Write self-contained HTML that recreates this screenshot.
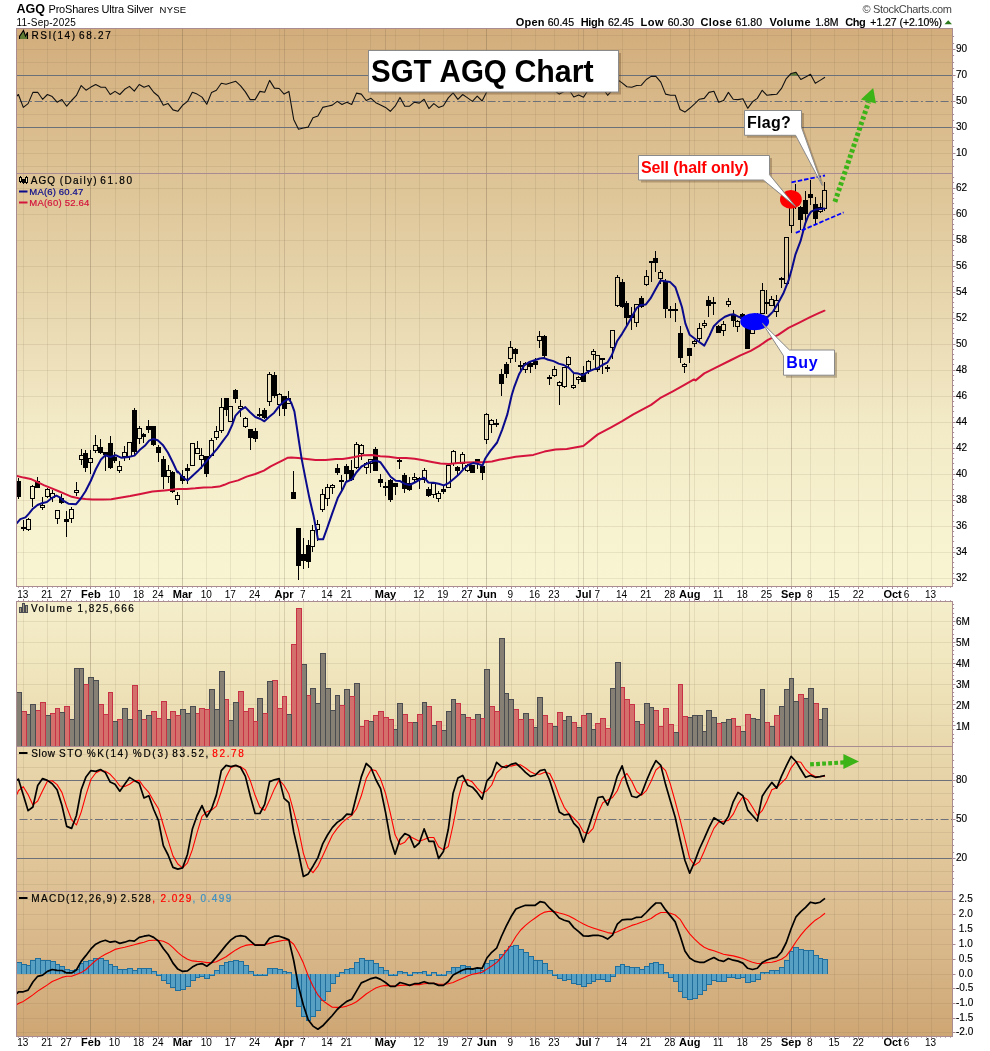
<!DOCTYPE html>
<html><head><meta charset="utf-8"><title>SGT AGQ Chart</title>
<style>html,body{margin:0;padding:0;background:#fff}body{width:990px;height:1051px;overflow:hidden;font-family:"Liberation Sans",sans-serif}</style></head>
<body>
<svg width="990" height="1051" viewBox="0 0 990 1051" style="display:block;will-change:transform;font-family:'Liberation Sans',sans-serif">
<defs>
<linearGradient id="g1" x1="0" y1="0" x2="0" y2="1"><stop offset="0" stop-color="rgb(211,173,124)"/><stop offset="0.307" stop-color="rgb(223,199,154)"/><stop offset="0.497" stop-color="rgb(232,215,175)"/><stop offset="0.72" stop-color="rgb(243,235,200)"/><stop offset="0.958" stop-color="rgb(248,244,210)"/><stop offset="1" stop-color="rgb(249,245,211)"/></linearGradient>
<linearGradient id="g2" x1="0" y1="0" x2="0" y2="1"><stop offset="0" stop-color="rgb(245,238,203)"/><stop offset="0.146" stop-color="rgb(240,230,190)"/><stop offset="0.456" stop-color="rgb(229,207,163)"/><stop offset="0.806" stop-color="rgb(216,183,137)"/><stop offset="1" stop-color="rgb(206,166,116)"/></linearGradient>
<linearGradient id="tailg" x1="0" y1="0" x2="1" y2="0"><stop offset="0" stop-color="#fff"/><stop offset="1" stop-color="#aaa"/></linearGradient>
<clipPath id="cp1"><rect x="17" y="174" width="935" height="412"/></clipPath>
</defs>
<rect width="990" height="1051" fill="#fff"/>
<rect x="16.5" y="28.5" width="936.0" height="558.0" fill="url(#g1)"/>
<rect x="16.5" y="601.5" width="936.0" height="435.0" fill="url(#g2)"/>
<line x1="23.5" y1="28.5" x2="23.5" y2="586.5" stroke="#6b5540" stroke-opacity="0.115"/>
<line x1="47.5" y1="28.5" x2="47.5" y2="586.5" stroke="#6b5540" stroke-opacity="0.115"/>
<line x1="66.5" y1="28.5" x2="66.5" y2="586.5" stroke="#6b5540" stroke-opacity="0.115"/>
<line x1="90.5" y1="28.5" x2="90.5" y2="586.5" stroke="#6b5540" stroke-opacity="0.115"/>
<line x1="115.5" y1="28.5" x2="115.5" y2="586.5" stroke="#6b5540" stroke-opacity="0.115"/>
<line x1="139.5" y1="28.5" x2="139.5" y2="586.5" stroke="#6b5540" stroke-opacity="0.115"/>
<line x1="158.5" y1="28.5" x2="158.5" y2="586.5" stroke="#6b5540" stroke-opacity="0.115"/>
<line x1="182.5" y1="28.5" x2="182.5" y2="586.5" stroke="#6b5540" stroke-opacity="0.115"/>
<line x1="206.5" y1="28.5" x2="206.5" y2="586.5" stroke="#6b5540" stroke-opacity="0.115"/>
<line x1="230.5" y1="28.5" x2="230.5" y2="586.5" stroke="#6b5540" stroke-opacity="0.115"/>
<line x1="255.5" y1="28.5" x2="255.5" y2="586.5" stroke="#6b5540" stroke-opacity="0.115"/>
<line x1="279.5" y1="28.5" x2="279.5" y2="586.5" stroke="#6b5540" stroke-opacity="0.115"/>
<line x1="303.5" y1="28.5" x2="303.5" y2="586.5" stroke="#6b5540" stroke-opacity="0.115"/>
<line x1="327.5" y1="28.5" x2="327.5" y2="586.5" stroke="#6b5540" stroke-opacity="0.115"/>
<line x1="346.5" y1="28.5" x2="346.5" y2="586.5" stroke="#6b5540" stroke-opacity="0.115"/>
<line x1="370.5" y1="28.5" x2="370.5" y2="586.5" stroke="#6b5540" stroke-opacity="0.115"/>
<line x1="395.5" y1="28.5" x2="395.5" y2="586.5" stroke="#6b5540" stroke-opacity="0.115"/>
<line x1="419.5" y1="28.5" x2="419.5" y2="586.5" stroke="#6b5540" stroke-opacity="0.115"/>
<line x1="443.5" y1="28.5" x2="443.5" y2="586.5" stroke="#6b5540" stroke-opacity="0.115"/>
<line x1="467.5" y1="28.5" x2="467.5" y2="586.5" stroke="#6b5540" stroke-opacity="0.115"/>
<line x1="486.5" y1="28.5" x2="486.5" y2="586.5" stroke="#6b5540" stroke-opacity="0.115"/>
<line x1="511.5" y1="28.5" x2="511.5" y2="586.5" stroke="#6b5540" stroke-opacity="0.115"/>
<line x1="535.5" y1="28.5" x2="535.5" y2="586.5" stroke="#6b5540" stroke-opacity="0.115"/>
<line x1="554.5" y1="28.5" x2="554.5" y2="586.5" stroke="#6b5540" stroke-opacity="0.115"/>
<line x1="578.5" y1="28.5" x2="578.5" y2="586.5" stroke="#6b5540" stroke-opacity="0.115"/>
<line x1="597.5" y1="28.5" x2="597.5" y2="586.5" stroke="#6b5540" stroke-opacity="0.115"/>
<line x1="622.5" y1="28.5" x2="622.5" y2="586.5" stroke="#6b5540" stroke-opacity="0.115"/>
<line x1="646.5" y1="28.5" x2="646.5" y2="586.5" stroke="#6b5540" stroke-opacity="0.115"/>
<line x1="670.5" y1="28.5" x2="670.5" y2="586.5" stroke="#6b5540" stroke-opacity="0.115"/>
<line x1="694.5" y1="28.5" x2="694.5" y2="586.5" stroke="#6b5540" stroke-opacity="0.115"/>
<line x1="718.5" y1="28.5" x2="718.5" y2="586.5" stroke="#6b5540" stroke-opacity="0.115"/>
<line x1="742.5" y1="28.5" x2="742.5" y2="586.5" stroke="#6b5540" stroke-opacity="0.115"/>
<line x1="767.5" y1="28.5" x2="767.5" y2="586.5" stroke="#6b5540" stroke-opacity="0.115"/>
<line x1="791.5" y1="28.5" x2="791.5" y2="586.5" stroke="#6b5540" stroke-opacity="0.115"/>
<line x1="810.5" y1="28.5" x2="810.5" y2="586.5" stroke="#6b5540" stroke-opacity="0.115"/>
<line x1="834.5" y1="28.5" x2="834.5" y2="586.5" stroke="#6b5540" stroke-opacity="0.115"/>
<line x1="858.5" y1="28.5" x2="858.5" y2="586.5" stroke="#6b5540" stroke-opacity="0.115"/>
<line x1="882.5" y1="28.5" x2="882.5" y2="586.5" stroke="#6b5540" stroke-opacity="0.115"/>
<line x1="907.5" y1="28.5" x2="907.5" y2="586.5" stroke="#6b5540" stroke-opacity="0.115"/>
<line x1="931.5" y1="28.5" x2="931.5" y2="586.5" stroke="#6b5540" stroke-opacity="0.115"/>
<line x1="90.5" y1="28.5" x2="90.5" y2="586.5" stroke="#6b5540" stroke-opacity="0.2"/>
<line x1="182.5" y1="28.5" x2="182.5" y2="586.5" stroke="#6b5540" stroke-opacity="0.2"/>
<line x1="284.5" y1="28.5" x2="284.5" y2="586.5" stroke="#6b5540" stroke-opacity="0.2"/>
<line x1="385.5" y1="28.5" x2="385.5" y2="586.5" stroke="#6b5540" stroke-opacity="0.2"/>
<line x1="486.5" y1="28.5" x2="486.5" y2="586.5" stroke="#6b5540" stroke-opacity="0.2"/>
<line x1="583.5" y1="28.5" x2="583.5" y2="586.5" stroke="#6b5540" stroke-opacity="0.2"/>
<line x1="689.5" y1="28.5" x2="689.5" y2="586.5" stroke="#6b5540" stroke-opacity="0.2"/>
<line x1="791.5" y1="28.5" x2="791.5" y2="586.5" stroke="#6b5540" stroke-opacity="0.2"/>
<line x1="892.5" y1="28.5" x2="892.5" y2="586.5" stroke="#6b5540" stroke-opacity="0.2"/>
<line x1="23.5" y1="601.5" x2="23.5" y2="1036.5" stroke="#6b5540" stroke-opacity="0.115"/>
<line x1="47.5" y1="601.5" x2="47.5" y2="1036.5" stroke="#6b5540" stroke-opacity="0.115"/>
<line x1="66.5" y1="601.5" x2="66.5" y2="1036.5" stroke="#6b5540" stroke-opacity="0.115"/>
<line x1="90.5" y1="601.5" x2="90.5" y2="1036.5" stroke="#6b5540" stroke-opacity="0.115"/>
<line x1="115.5" y1="601.5" x2="115.5" y2="1036.5" stroke="#6b5540" stroke-opacity="0.115"/>
<line x1="139.5" y1="601.5" x2="139.5" y2="1036.5" stroke="#6b5540" stroke-opacity="0.115"/>
<line x1="158.5" y1="601.5" x2="158.5" y2="1036.5" stroke="#6b5540" stroke-opacity="0.115"/>
<line x1="182.5" y1="601.5" x2="182.5" y2="1036.5" stroke="#6b5540" stroke-opacity="0.115"/>
<line x1="206.5" y1="601.5" x2="206.5" y2="1036.5" stroke="#6b5540" stroke-opacity="0.115"/>
<line x1="230.5" y1="601.5" x2="230.5" y2="1036.5" stroke="#6b5540" stroke-opacity="0.115"/>
<line x1="255.5" y1="601.5" x2="255.5" y2="1036.5" stroke="#6b5540" stroke-opacity="0.115"/>
<line x1="279.5" y1="601.5" x2="279.5" y2="1036.5" stroke="#6b5540" stroke-opacity="0.115"/>
<line x1="303.5" y1="601.5" x2="303.5" y2="1036.5" stroke="#6b5540" stroke-opacity="0.115"/>
<line x1="327.5" y1="601.5" x2="327.5" y2="1036.5" stroke="#6b5540" stroke-opacity="0.115"/>
<line x1="346.5" y1="601.5" x2="346.5" y2="1036.5" stroke="#6b5540" stroke-opacity="0.115"/>
<line x1="370.5" y1="601.5" x2="370.5" y2="1036.5" stroke="#6b5540" stroke-opacity="0.115"/>
<line x1="395.5" y1="601.5" x2="395.5" y2="1036.5" stroke="#6b5540" stroke-opacity="0.115"/>
<line x1="419.5" y1="601.5" x2="419.5" y2="1036.5" stroke="#6b5540" stroke-opacity="0.115"/>
<line x1="443.5" y1="601.5" x2="443.5" y2="1036.5" stroke="#6b5540" stroke-opacity="0.115"/>
<line x1="467.5" y1="601.5" x2="467.5" y2="1036.5" stroke="#6b5540" stroke-opacity="0.115"/>
<line x1="486.5" y1="601.5" x2="486.5" y2="1036.5" stroke="#6b5540" stroke-opacity="0.115"/>
<line x1="511.5" y1="601.5" x2="511.5" y2="1036.5" stroke="#6b5540" stroke-opacity="0.115"/>
<line x1="535.5" y1="601.5" x2="535.5" y2="1036.5" stroke="#6b5540" stroke-opacity="0.115"/>
<line x1="554.5" y1="601.5" x2="554.5" y2="1036.5" stroke="#6b5540" stroke-opacity="0.115"/>
<line x1="578.5" y1="601.5" x2="578.5" y2="1036.5" stroke="#6b5540" stroke-opacity="0.115"/>
<line x1="597.5" y1="601.5" x2="597.5" y2="1036.5" stroke="#6b5540" stroke-opacity="0.115"/>
<line x1="622.5" y1="601.5" x2="622.5" y2="1036.5" stroke="#6b5540" stroke-opacity="0.115"/>
<line x1="646.5" y1="601.5" x2="646.5" y2="1036.5" stroke="#6b5540" stroke-opacity="0.115"/>
<line x1="670.5" y1="601.5" x2="670.5" y2="1036.5" stroke="#6b5540" stroke-opacity="0.115"/>
<line x1="694.5" y1="601.5" x2="694.5" y2="1036.5" stroke="#6b5540" stroke-opacity="0.115"/>
<line x1="718.5" y1="601.5" x2="718.5" y2="1036.5" stroke="#6b5540" stroke-opacity="0.115"/>
<line x1="742.5" y1="601.5" x2="742.5" y2="1036.5" stroke="#6b5540" stroke-opacity="0.115"/>
<line x1="767.5" y1="601.5" x2="767.5" y2="1036.5" stroke="#6b5540" stroke-opacity="0.115"/>
<line x1="791.5" y1="601.5" x2="791.5" y2="1036.5" stroke="#6b5540" stroke-opacity="0.115"/>
<line x1="810.5" y1="601.5" x2="810.5" y2="1036.5" stroke="#6b5540" stroke-opacity="0.115"/>
<line x1="834.5" y1="601.5" x2="834.5" y2="1036.5" stroke="#6b5540" stroke-opacity="0.115"/>
<line x1="858.5" y1="601.5" x2="858.5" y2="1036.5" stroke="#6b5540" stroke-opacity="0.115"/>
<line x1="882.5" y1="601.5" x2="882.5" y2="1036.5" stroke="#6b5540" stroke-opacity="0.115"/>
<line x1="907.5" y1="601.5" x2="907.5" y2="1036.5" stroke="#6b5540" stroke-opacity="0.115"/>
<line x1="931.5" y1="601.5" x2="931.5" y2="1036.5" stroke="#6b5540" stroke-opacity="0.115"/>
<line x1="90.5" y1="601.5" x2="90.5" y2="1036.5" stroke="#6b5540" stroke-opacity="0.2"/>
<line x1="182.5" y1="601.5" x2="182.5" y2="1036.5" stroke="#6b5540" stroke-opacity="0.2"/>
<line x1="284.5" y1="601.5" x2="284.5" y2="1036.5" stroke="#6b5540" stroke-opacity="0.2"/>
<line x1="385.5" y1="601.5" x2="385.5" y2="1036.5" stroke="#6b5540" stroke-opacity="0.2"/>
<line x1="486.5" y1="601.5" x2="486.5" y2="1036.5" stroke="#6b5540" stroke-opacity="0.2"/>
<line x1="583.5" y1="601.5" x2="583.5" y2="1036.5" stroke="#6b5540" stroke-opacity="0.2"/>
<line x1="689.5" y1="601.5" x2="689.5" y2="1036.5" stroke="#6b5540" stroke-opacity="0.2"/>
<line x1="791.5" y1="601.5" x2="791.5" y2="1036.5" stroke="#6b5540" stroke-opacity="0.2"/>
<line x1="892.5" y1="601.5" x2="892.5" y2="1036.5" stroke="#6b5540" stroke-opacity="0.2"/>
<line x1="16.5" y1="153.5" x2="952.5" y2="153.5" stroke="#6b5540" stroke-opacity="0.115" stroke-width="1"/>
<line x1="16.5" y1="140.5" x2="952.5" y2="140.5" stroke="#6b5540" stroke-opacity="0.115" stroke-width="1"/>
<line x1="16.5" y1="127.5" x2="952.5" y2="127.5" stroke="#6c7079" stroke-opacity="1" stroke-width="1"/>
<line x1="16.5" y1="114.5" x2="952.5" y2="114.5" stroke="#6b5540" stroke-opacity="0.115" stroke-width="1"/>
<line x1="16.5" y1="101.5" x2="952.5" y2="101.5" stroke="#6c7079" stroke-opacity="1" stroke-width="1" stroke-dasharray="8 2.5 2 2.6" stroke-dashoffset="12.1"/>
<line x1="16.5" y1="88.5" x2="952.5" y2="88.5" stroke="#6b5540" stroke-opacity="0.115" stroke-width="1"/>
<line x1="16.5" y1="75.5" x2="952.5" y2="75.5" stroke="#6c7079" stroke-opacity="1" stroke-width="1"/>
<line x1="16.5" y1="62.5" x2="952.5" y2="62.5" stroke="#6b5540" stroke-opacity="0.115" stroke-width="1"/>
<line x1="16.5" y1="49.5" x2="952.5" y2="49.5" stroke="#6b5540" stroke-opacity="0.115" stroke-width="1"/>
<line x1="16.5" y1="35.5" x2="952.5" y2="35.5" stroke="#6b5540" stroke-opacity="0.115" stroke-width="1"/>
<line x1="16.5" y1="166.5" x2="952.5" y2="166.5" stroke="#6b5540" stroke-opacity="0.115" stroke-width="1"/>
<line x1="16.5" y1="578.5" x2="952.5" y2="578.5" stroke="#6b5540" stroke-opacity="0.115" stroke-width="1"/>
<line x1="16.5" y1="552.5" x2="952.5" y2="552.5" stroke="#6b5540" stroke-opacity="0.115" stroke-width="1"/>
<line x1="16.5" y1="526.5" x2="952.5" y2="526.5" stroke="#6b5540" stroke-opacity="0.115" stroke-width="1"/>
<line x1="16.5" y1="500.5" x2="952.5" y2="500.5" stroke="#6b5540" stroke-opacity="0.115" stroke-width="1"/>
<line x1="16.5" y1="474.5" x2="952.5" y2="474.5" stroke="#6b5540" stroke-opacity="0.115" stroke-width="1"/>
<line x1="16.5" y1="448.5" x2="952.5" y2="448.5" stroke="#6b5540" stroke-opacity="0.115" stroke-width="1"/>
<line x1="16.5" y1="422.5" x2="952.5" y2="422.5" stroke="#6b5540" stroke-opacity="0.115" stroke-width="1"/>
<line x1="16.5" y1="396.5" x2="952.5" y2="396.5" stroke="#6b5540" stroke-opacity="0.115" stroke-width="1"/>
<line x1="16.5" y1="370.5" x2="952.5" y2="370.5" stroke="#6b5540" stroke-opacity="0.115" stroke-width="1"/>
<line x1="16.5" y1="344.5" x2="952.5" y2="344.5" stroke="#6b5540" stroke-opacity="0.115" stroke-width="1"/>
<line x1="16.5" y1="318.5" x2="952.5" y2="318.5" stroke="#6b5540" stroke-opacity="0.115" stroke-width="1"/>
<line x1="16.5" y1="292.5" x2="952.5" y2="292.5" stroke="#6b5540" stroke-opacity="0.115" stroke-width="1"/>
<line x1="16.5" y1="266.5" x2="952.5" y2="266.5" stroke="#6b5540" stroke-opacity="0.115" stroke-width="1"/>
<line x1="16.5" y1="240.5" x2="952.5" y2="240.5" stroke="#6b5540" stroke-opacity="0.115" stroke-width="1"/>
<line x1="16.5" y1="214.5" x2="952.5" y2="214.5" stroke="#6b5540" stroke-opacity="0.115" stroke-width="1"/>
<line x1="16.5" y1="188.5" x2="952.5" y2="188.5" stroke="#6b5540" stroke-opacity="0.115" stroke-width="1"/>
<line x1="16.5" y1="725.5" x2="952.5" y2="725.5" stroke="#6b5540" stroke-opacity="0.115" stroke-width="1"/>
<line x1="16.5" y1="704.5" x2="952.5" y2="704.5" stroke="#6b5540" stroke-opacity="0.115" stroke-width="1"/>
<line x1="16.5" y1="684.5" x2="952.5" y2="684.5" stroke="#6b5540" stroke-opacity="0.115" stroke-width="1"/>
<line x1="16.5" y1="663.5" x2="952.5" y2="663.5" stroke="#6b5540" stroke-opacity="0.115" stroke-width="1"/>
<line x1="16.5" y1="642.5" x2="952.5" y2="642.5" stroke="#6b5540" stroke-opacity="0.115" stroke-width="1"/>
<line x1="16.5" y1="621.5" x2="952.5" y2="621.5" stroke="#6b5540" stroke-opacity="0.115" stroke-width="1"/>
<line x1="16.5" y1="884.5" x2="952.5" y2="884.5" stroke="#6b5540" stroke-opacity="0.115" stroke-width="1"/>
<line x1="16.5" y1="871.5" x2="952.5" y2="871.5" stroke="#6b5540" stroke-opacity="0.115" stroke-width="1"/>
<line x1="16.5" y1="858.5" x2="952.5" y2="858.5" stroke="#6c7079" stroke-opacity="1" stroke-width="1"/>
<line x1="16.5" y1="845.5" x2="952.5" y2="845.5" stroke="#6b5540" stroke-opacity="0.115" stroke-width="1"/>
<line x1="16.5" y1="832.5" x2="952.5" y2="832.5" stroke="#6b5540" stroke-opacity="0.115" stroke-width="1"/>
<line x1="16.5" y1="819.5" x2="952.5" y2="819.5" stroke="#6c7079" stroke-opacity="1" stroke-width="1" stroke-dasharray="8 2.5 2 2.6" stroke-dashoffset="12.1"/>
<line x1="16.5" y1="806.5" x2="952.5" y2="806.5" stroke="#6b5540" stroke-opacity="0.115" stroke-width="1"/>
<line x1="16.5" y1="793.5" x2="952.5" y2="793.5" stroke="#6b5540" stroke-opacity="0.115" stroke-width="1"/>
<line x1="16.5" y1="780.5" x2="952.5" y2="780.5" stroke="#6c7079" stroke-opacity="1" stroke-width="1"/>
<line x1="16.5" y1="767.5" x2="952.5" y2="767.5" stroke="#6b5540" stroke-opacity="0.115" stroke-width="1"/>
<line x1="16.5" y1="754.5" x2="952.5" y2="754.5" stroke="#6b5540" stroke-opacity="0.115" stroke-width="1"/>
<line x1="16.5" y1="1032.5" x2="952.5" y2="1032.5" stroke="#6b5540" stroke-opacity="0.115" stroke-width="1"/>
<line x1="16.5" y1="1018.5" x2="952.5" y2="1018.5" stroke="#6b5540" stroke-opacity="0.115" stroke-width="1"/>
<line x1="16.5" y1="1003.5" x2="952.5" y2="1003.5" stroke="#6b5540" stroke-opacity="0.115" stroke-width="1"/>
<line x1="16.5" y1="988.5" x2="952.5" y2="988.5" stroke="#6b5540" stroke-opacity="0.115" stroke-width="1"/>
<line x1="16.5" y1="974.5" x2="952.5" y2="974.5" stroke="#6b5540" stroke-opacity="0.115" stroke-width="1"/>
<line x1="16.5" y1="959.5" x2="952.5" y2="959.5" stroke="#6b5540" stroke-opacity="0.115" stroke-width="1"/>
<line x1="16.5" y1="944.5" x2="952.5" y2="944.5" stroke="#6b5540" stroke-opacity="0.115" stroke-width="1"/>
<line x1="16.5" y1="929.5" x2="952.5" y2="929.5" stroke="#6b5540" stroke-opacity="0.115" stroke-width="1"/>
<line x1="16.5" y1="914.5" x2="952.5" y2="914.5" stroke="#6b5540" stroke-opacity="0.115" stroke-width="1"/>
<line x1="16.5" y1="899.5" x2="952.5" y2="899.5" stroke="#6b5540" stroke-opacity="0.115" stroke-width="1"/>
<g shape-rendering="crispEdges">
<rect x="822.5" y="708.5" width="5.0" height="37.5" fill="#868074"/>
<path d="M822.5 746 V708.5 H827.5 V746" fill="none" stroke="#4a4c50"/>
<rect x="818.5" y="719.5" width="4.0" height="26.5" fill="#868074"/>
<path d="M818.5 746 V719.5 H822.5 V746" fill="none" stroke="#4a4c50"/>
<rect x="813.5" y="703.5" width="5.0" height="42.5" fill="#d4706c"/>
<path d="M813.5 746 V703.5 H818.5 V746" fill="none" stroke="#c83246"/>
<rect x="808.5" y="688.5" width="5.0" height="57.5" fill="#868074"/>
<path d="M808.5 746 V688.5 H813.5 V746" fill="none" stroke="#4a4c50"/>
<rect x="803.5" y="698.5" width="5.0" height="47.5" fill="#868074"/>
<path d="M803.5 746 V698.5 H808.5 V746" fill="none" stroke="#4a4c50"/>
<rect x="798.5" y="694.5" width="5.0" height="51.5" fill="#d4706c"/>
<path d="M798.5 746 V694.5 H803.5 V746" fill="none" stroke="#c83246"/>
<rect x="793.5" y="701.5" width="5.0" height="44.5" fill="#868074"/>
<path d="M793.5 746 V701.5 H798.5 V746" fill="none" stroke="#4a4c50"/>
<rect x="789.5" y="678.5" width="4.0" height="67.5" fill="#868074"/>
<path d="M789.5 746 V678.5 H793.5 V746" fill="none" stroke="#4a4c50"/>
<rect x="784.5" y="689.5" width="5.0" height="56.5" fill="#868074"/>
<path d="M784.5 746 V689.5 H789.5 V746" fill="none" stroke="#4a4c50"/>
<rect x="779.5" y="706.5" width="5.0" height="39.5" fill="#868074"/>
<path d="M779.5 746 V706.5 H784.5 V746" fill="none" stroke="#4a4c50"/>
<rect x="774.5" y="715.5" width="5.0" height="30.5" fill="#d4706c"/>
<path d="M774.5 746 V715.5 H779.5 V746" fill="none" stroke="#c83246"/>
<rect x="769.5" y="726.5" width="5.0" height="19.5" fill="#868074"/>
<path d="M769.5 746 V726.5 H774.5 V746" fill="none" stroke="#4a4c50"/>
<rect x="764.5" y="722.5" width="5.0" height="23.5" fill="#d4706c"/>
<path d="M764.5 746 V722.5 H769.5 V746" fill="none" stroke="#c83246"/>
<rect x="760.5" y="689.5" width="4.0" height="56.5" fill="#868074"/>
<path d="M760.5 746 V689.5 H764.5 V746" fill="none" stroke="#4a4c50"/>
<rect x="755.5" y="719.5" width="5.0" height="26.5" fill="#868074"/>
<path d="M755.5 746 V719.5 H760.5 V746" fill="none" stroke="#4a4c50"/>
<rect x="750.5" y="718.5" width="5.0" height="27.5" fill="#868074"/>
<path d="M750.5 746 V718.5 H755.5 V746" fill="none" stroke="#4a4c50"/>
<rect x="745.5" y="714.5" width="5.0" height="31.5" fill="#d4706c"/>
<path d="M745.5 746 V714.5 H750.5 V746" fill="none" stroke="#c83246"/>
<rect x="740.5" y="731.5" width="5.0" height="14.5" fill="#868074"/>
<path d="M740.5 746 V731.5 H745.5 V746" fill="none" stroke="#4a4c50"/>
<rect x="735.5" y="726.5" width="5.0" height="19.5" fill="#d4706c"/>
<path d="M735.5 746 V726.5 H740.5 V746" fill="none" stroke="#c83246"/>
<rect x="731.5" y="718.5" width="4.0" height="27.5" fill="#d4706c"/>
<path d="M731.5 746 V718.5 H735.5 V746" fill="none" stroke="#c83246"/>
<rect x="726.5" y="719.5" width="5.0" height="26.5" fill="#868074"/>
<path d="M726.5 746 V719.5 H731.5 V746" fill="none" stroke="#4a4c50"/>
<rect x="721.5" y="722.5" width="5.0" height="23.5" fill="#868074"/>
<path d="M721.5 746 V722.5 H726.5 V746" fill="none" stroke="#4a4c50"/>
<rect x="716.5" y="723.5" width="5.0" height="22.5" fill="#d4706c"/>
<path d="M716.5 746 V723.5 H721.5 V746" fill="none" stroke="#c83246"/>
<rect x="711.5" y="717.5" width="5.0" height="28.5" fill="#868074"/>
<path d="M711.5 746 V717.5 H716.5 V746" fill="none" stroke="#4a4c50"/>
<rect x="706.5" y="710.5" width="5.0" height="35.5" fill="#868074"/>
<path d="M706.5 746 V710.5 H711.5 V746" fill="none" stroke="#4a4c50"/>
<rect x="702.5" y="731.5" width="4.0" height="14.5" fill="#868074"/>
<path d="M702.5 746 V731.5 H706.5 V746" fill="none" stroke="#4a4c50"/>
<rect x="697.5" y="715.5" width="5.0" height="30.5" fill="#868074"/>
<path d="M697.5 746 V715.5 H702.5 V746" fill="none" stroke="#4a4c50"/>
<rect x="692.5" y="715.5" width="5.0" height="30.5" fill="#868074"/>
<path d="M692.5 746 V715.5 H697.5 V746" fill="none" stroke="#4a4c50"/>
<rect x="687.5" y="717.5" width="5.0" height="28.5" fill="#868074"/>
<path d="M687.5 746 V717.5 H692.5 V746" fill="none" stroke="#4a4c50"/>
<rect x="682.5" y="716.5" width="5.0" height="29.5" fill="#d4706c"/>
<path d="M682.5 746 V716.5 H687.5 V746" fill="none" stroke="#c83246"/>
<rect x="678.5" y="684.5" width="4.0" height="61.5" fill="#d4706c"/>
<path d="M678.5 746 V684.5 H682.5 V746" fill="none" stroke="#c83246"/>
<rect x="673.5" y="732.5" width="5.0" height="13.5" fill="#868074"/>
<path d="M673.5 746 V732.5 H678.5 V746" fill="none" stroke="#4a4c50"/>
<rect x="668.5" y="724.5" width="5.0" height="21.5" fill="#d4706c"/>
<path d="M668.5 746 V724.5 H673.5 V746" fill="none" stroke="#c83246"/>
<rect x="663.5" y="708.5" width="5.0" height="37.5" fill="#d4706c"/>
<path d="M663.5 746 V708.5 H668.5 V746" fill="none" stroke="#c83246"/>
<rect x="658.5" y="726.5" width="5.0" height="19.5" fill="#d4706c"/>
<path d="M658.5 746 V726.5 H663.5 V746" fill="none" stroke="#c83246"/>
<rect x="653.5" y="710.5" width="5.0" height="35.5" fill="#d4706c"/>
<path d="M653.5 746 V710.5 H658.5 V746" fill="none" stroke="#c83246"/>
<rect x="649.5" y="707.5" width="4.0" height="38.5" fill="#868074"/>
<path d="M649.5 746 V707.5 H653.5 V746" fill="none" stroke="#4a4c50"/>
<rect x="644.5" y="703.5" width="5.0" height="42.5" fill="#868074"/>
<path d="M644.5 746 V703.5 H649.5 V746" fill="none" stroke="#4a4c50"/>
<rect x="639.5" y="724.5" width="5.0" height="21.5" fill="#d4706c"/>
<path d="M639.5 746 V724.5 H644.5 V746" fill="none" stroke="#c83246"/>
<rect x="634.5" y="721.5" width="5.0" height="24.5" fill="#868074"/>
<path d="M634.5 746 V721.5 H639.5 V746" fill="none" stroke="#4a4c50"/>
<rect x="629.5" y="704.5" width="5.0" height="41.5" fill="#d4706c"/>
<path d="M629.5 746 V704.5 H634.5 V746" fill="none" stroke="#c83246"/>
<rect x="624.5" y="699.5" width="5.0" height="46.5" fill="#d4706c"/>
<path d="M624.5 746 V699.5 H629.5 V746" fill="none" stroke="#c83246"/>
<rect x="620.5" y="687.5" width="4.0" height="58.5" fill="#d4706c"/>
<path d="M620.5 746 V687.5 H624.5 V746" fill="none" stroke="#c83246"/>
<rect x="615.5" y="662.5" width="5.0" height="83.5" fill="#868074"/>
<path d="M615.5 746 V662.5 H620.5 V746" fill="none" stroke="#4a4c50"/>
<rect x="610.5" y="688.5" width="5.0" height="57.5" fill="#868074"/>
<path d="M610.5 746 V688.5 H615.5 V746" fill="none" stroke="#4a4c50"/>
<rect x="605.5" y="728.5" width="5.0" height="17.5" fill="#d4706c"/>
<path d="M605.5 746 V728.5 H610.5 V746" fill="none" stroke="#c83246"/>
<rect x="600.5" y="718.5" width="5.0" height="27.5" fill="#d4706c"/>
<path d="M600.5 746 V718.5 H605.5 V746" fill="none" stroke="#c83246"/>
<rect x="595.5" y="723.5" width="5.0" height="22.5" fill="#d4706c"/>
<path d="M595.5 746 V723.5 H600.5 V746" fill="none" stroke="#c83246"/>
<rect x="591.5" y="729.5" width="4.0" height="16.5" fill="#868074"/>
<path d="M591.5 746 V729.5 H595.5 V746" fill="none" stroke="#4a4c50"/>
<rect x="586.5" y="713.5" width="5.0" height="32.5" fill="#868074"/>
<path d="M586.5 746 V713.5 H591.5 V746" fill="none" stroke="#4a4c50"/>
<rect x="581.5" y="715.5" width="5.0" height="30.5" fill="#d4706c"/>
<path d="M581.5 746 V715.5 H586.5 V746" fill="none" stroke="#c83246"/>
<rect x="576.5" y="727.5" width="5.0" height="18.5" fill="#868074"/>
<path d="M576.5 746 V727.5 H581.5 V746" fill="none" stroke="#4a4c50"/>
<rect x="571.5" y="722.5" width="5.0" height="23.5" fill="#d4706c"/>
<path d="M571.5 746 V722.5 H576.5 V746" fill="none" stroke="#c83246"/>
<rect x="566.5" y="716.5" width="5.0" height="29.5" fill="#868074"/>
<path d="M566.5 746 V716.5 H571.5 V746" fill="none" stroke="#4a4c50"/>
<rect x="562.5" y="720.5" width="4.0" height="25.5" fill="#868074"/>
<path d="M562.5 746 V720.5 H566.5 V746" fill="none" stroke="#4a4c50"/>
<rect x="557.5" y="712.5" width="5.0" height="33.5" fill="#d4706c"/>
<path d="M557.5 746 V712.5 H562.5 V746" fill="none" stroke="#c83246"/>
<rect x="552.5" y="726.5" width="5.0" height="19.5" fill="#868074"/>
<path d="M552.5 746 V726.5 H557.5 V746" fill="none" stroke="#4a4c50"/>
<rect x="547.5" y="723.5" width="5.0" height="22.5" fill="#d4706c"/>
<path d="M547.5 746 V723.5 H552.5 V746" fill="none" stroke="#c83246"/>
<rect x="542.5" y="715.5" width="5.0" height="30.5" fill="#d4706c"/>
<path d="M542.5 746 V715.5 H547.5 V746" fill="none" stroke="#c83246"/>
<rect x="537.5" y="697.5" width="5.0" height="48.5" fill="#868074"/>
<path d="M537.5 746 V697.5 H542.5 V746" fill="none" stroke="#4a4c50"/>
<rect x="533.5" y="727.5" width="4.0" height="18.5" fill="#868074"/>
<path d="M533.5 746 V727.5 H537.5 V746" fill="none" stroke="#4a4c50"/>
<rect x="528.5" y="719.5" width="5.0" height="26.5" fill="#d4706c"/>
<path d="M528.5 746 V719.5 H533.5 V746" fill="none" stroke="#c83246"/>
<rect x="523.5" y="713.5" width="5.0" height="32.5" fill="#868074"/>
<path d="M523.5 746 V713.5 H528.5 V746" fill="none" stroke="#4a4c50"/>
<rect x="518.5" y="719.5" width="5.0" height="26.5" fill="#d4706c"/>
<path d="M518.5 746 V719.5 H523.5 V746" fill="none" stroke="#c83246"/>
<rect x="513.5" y="709.5" width="5.0" height="36.5" fill="#d4706c"/>
<path d="M513.5 746 V709.5 H518.5 V746" fill="none" stroke="#c83246"/>
<rect x="508.5" y="699.5" width="5.0" height="46.5" fill="#868074"/>
<path d="M508.5 746 V699.5 H513.5 V746" fill="none" stroke="#4a4c50"/>
<rect x="504.5" y="693.5" width="4.0" height="52.5" fill="#868074"/>
<path d="M504.5 746 V693.5 H508.5 V746" fill="none" stroke="#4a4c50"/>
<rect x="499.5" y="638.5" width="5.0" height="107.5" fill="#868074"/>
<path d="M499.5 746 V638.5 H504.5 V746" fill="none" stroke="#4a4c50"/>
<rect x="494.5" y="711.5" width="5.0" height="34.5" fill="#d4706c"/>
<path d="M494.5 746 V711.5 H499.5 V746" fill="none" stroke="#c83246"/>
<rect x="489.5" y="706.5" width="5.0" height="39.5" fill="#d4706c"/>
<path d="M489.5 746 V706.5 H494.5 V746" fill="none" stroke="#c83246"/>
<rect x="484.5" y="669.5" width="5.0" height="76.5" fill="#868074"/>
<path d="M484.5 746 V669.5 H489.5 V746" fill="none" stroke="#4a4c50"/>
<rect x="480.5" y="718.5" width="4.0" height="27.5" fill="#d4706c"/>
<path d="M480.5 746 V718.5 H484.5 V746" fill="none" stroke="#c83246"/>
<rect x="475.5" y="714.5" width="5.0" height="31.5" fill="#868074"/>
<path d="M475.5 746 V714.5 H480.5 V746" fill="none" stroke="#4a4c50"/>
<rect x="470.5" y="719.5" width="5.0" height="26.5" fill="#d4706c"/>
<path d="M470.5 746 V719.5 H475.5 V746" fill="none" stroke="#c83246"/>
<rect x="465.5" y="717.5" width="5.0" height="28.5" fill="#d4706c"/>
<path d="M465.5 746 V717.5 H470.5 V746" fill="none" stroke="#c83246"/>
<rect x="460.5" y="714.5" width="5.0" height="31.5" fill="#868074"/>
<path d="M460.5 746 V714.5 H465.5 V746" fill="none" stroke="#4a4c50"/>
<rect x="455.5" y="703.5" width="5.0" height="42.5" fill="#d4706c"/>
<path d="M455.5 746 V703.5 H460.5 V746" fill="none" stroke="#c83246"/>
<rect x="451.5" y="699.5" width="4.0" height="46.5" fill="#868074"/>
<path d="M451.5 746 V699.5 H455.5 V746" fill="none" stroke="#4a4c50"/>
<rect x="446.5" y="711.5" width="5.0" height="34.5" fill="#868074"/>
<path d="M446.5 746 V711.5 H451.5 V746" fill="none" stroke="#4a4c50"/>
<rect x="441.5" y="730.5" width="5.0" height="15.5" fill="#868074"/>
<path d="M441.5 746 V730.5 H446.5 V746" fill="none" stroke="#4a4c50"/>
<rect x="436.5" y="721.5" width="5.0" height="24.5" fill="#d4706c"/>
<path d="M436.5 746 V721.5 H441.5 V746" fill="none" stroke="#c83246"/>
<rect x="431.5" y="725.5" width="5.0" height="20.5" fill="#868074"/>
<path d="M431.5 746 V725.5 H436.5 V746" fill="none" stroke="#4a4c50"/>
<rect x="426.5" y="706.5" width="5.0" height="39.5" fill="#d4706c"/>
<path d="M426.5 746 V706.5 H431.5 V746" fill="none" stroke="#c83246"/>
<rect x="422.5" y="702.5" width="4.0" height="43.5" fill="#868074"/>
<path d="M422.5 746 V702.5 H426.5 V746" fill="none" stroke="#4a4c50"/>
<rect x="417.5" y="714.5" width="5.0" height="31.5" fill="#d4706c"/>
<path d="M417.5 746 V714.5 H422.5 V746" fill="none" stroke="#c83246"/>
<rect x="412.5" y="722.5" width="5.0" height="23.5" fill="#868074"/>
<path d="M412.5 746 V722.5 H417.5 V746" fill="none" stroke="#4a4c50"/>
<rect x="407.5" y="722.5" width="5.0" height="23.5" fill="#d4706c"/>
<path d="M407.5 746 V722.5 H412.5 V746" fill="none" stroke="#c83246"/>
<rect x="402.5" y="714.5" width="5.0" height="31.5" fill="#d4706c"/>
<path d="M402.5 746 V714.5 H407.5 V746" fill="none" stroke="#c83246"/>
<rect x="397.5" y="703.5" width="5.0" height="42.5" fill="#868074"/>
<path d="M397.5 746 V703.5 H402.5 V746" fill="none" stroke="#4a4c50"/>
<rect x="393.5" y="729.5" width="4.0" height="16.5" fill="#868074"/>
<path d="M393.5 746 V729.5 H397.5 V746" fill="none" stroke="#4a4c50"/>
<rect x="388.5" y="719.5" width="5.0" height="26.5" fill="#d4706c"/>
<path d="M388.5 746 V719.5 H393.5 V746" fill="none" stroke="#c83246"/>
<rect x="383.5" y="717.5" width="5.0" height="28.5" fill="#d4706c"/>
<path d="M383.5 746 V717.5 H388.5 V746" fill="none" stroke="#c83246"/>
<rect x="378.5" y="711.5" width="5.0" height="34.5" fill="#d4706c"/>
<path d="M378.5 746 V711.5 H383.5 V746" fill="none" stroke="#c83246"/>
<rect x="373.5" y="715.5" width="5.0" height="30.5" fill="#d4706c"/>
<path d="M373.5 746 V715.5 H378.5 V746" fill="none" stroke="#c83246"/>
<rect x="368.5" y="721.5" width="5.0" height="24.5" fill="#868074"/>
<path d="M368.5 746 V721.5 H373.5 V746" fill="none" stroke="#4a4c50"/>
<rect x="364.5" y="720.5" width="4.0" height="25.5" fill="#d4706c"/>
<path d="M364.5 746 V720.5 H368.5 V746" fill="none" stroke="#c83246"/>
<rect x="359.5" y="726.5" width="5.0" height="19.5" fill="#d4706c"/>
<path d="M359.5 746 V726.5 H364.5 V746" fill="none" stroke="#c83246"/>
<rect x="354.5" y="683.5" width="5.0" height="62.5" fill="#868074"/>
<path d="M354.5 746 V683.5 H359.5 V746" fill="none" stroke="#4a4c50"/>
<rect x="349.5" y="696.5" width="5.0" height="49.5" fill="#d4706c"/>
<path d="M349.5 746 V696.5 H354.5 V746" fill="none" stroke="#c83246"/>
<rect x="344.5" y="689.5" width="5.0" height="56.5" fill="#868074"/>
<path d="M344.5 746 V689.5 H349.5 V746" fill="none" stroke="#4a4c50"/>
<rect x="339.5" y="705.5" width="5.0" height="40.5" fill="#d4706c"/>
<path d="M339.5 746 V705.5 H344.5 V746" fill="none" stroke="#c83246"/>
<rect x="335.5" y="695.5" width="4.0" height="50.5" fill="#868074"/>
<path d="M335.5 746 V695.5 H339.5 V746" fill="none" stroke="#4a4c50"/>
<rect x="330.5" y="710.5" width="5.0" height="35.5" fill="#868074"/>
<path d="M330.5 746 V710.5 H335.5 V746" fill="none" stroke="#4a4c50"/>
<rect x="325.5" y="688.5" width="5.0" height="57.5" fill="#868074"/>
<path d="M325.5 746 V688.5 H330.5 V746" fill="none" stroke="#4a4c50"/>
<rect x="320.5" y="653.5" width="5.0" height="92.5" fill="#868074"/>
<path d="M320.5 746 V653.5 H325.5 V746" fill="none" stroke="#4a4c50"/>
<rect x="315.5" y="703.5" width="5.0" height="42.5" fill="#868074"/>
<path d="M315.5 746 V703.5 H320.5 V746" fill="none" stroke="#4a4c50"/>
<rect x="310.5" y="688.5" width="5.0" height="57.5" fill="#868074"/>
<path d="M310.5 746 V688.5 H315.5 V746" fill="none" stroke="#4a4c50"/>
<rect x="306.5" y="695.5" width="4.0" height="50.5" fill="#d4706c"/>
<path d="M306.5 746 V695.5 H310.5 V746" fill="none" stroke="#c83246"/>
<rect x="301.5" y="664.5" width="5.0" height="81.5" fill="#868074"/>
<path d="M301.5 746 V664.5 H306.5 V746" fill="none" stroke="#4a4c50"/>
<rect x="296.5" y="608.5" width="5.0" height="137.5" fill="#d4706c"/>
<path d="M296.5 746 V608.5 H301.5 V746" fill="none" stroke="#c83246"/>
<rect x="291.5" y="644.5" width="5.0" height="101.5" fill="#d4706c"/>
<path d="M291.5 746 V644.5 H296.5 V746" fill="none" stroke="#c83246"/>
<rect x="286.5" y="714.5" width="5.0" height="31.5" fill="#868074"/>
<path d="M286.5 746 V714.5 H291.5 V746" fill="none" stroke="#4a4c50"/>
<rect x="282.5" y="696.5" width="4.0" height="49.5" fill="#d4706c"/>
<path d="M282.5 746 V696.5 H286.5 V746" fill="none" stroke="#c83246"/>
<rect x="277.5" y="708.5" width="5.0" height="37.5" fill="#d4706c"/>
<path d="M277.5 746 V708.5 H282.5 V746" fill="none" stroke="#c83246"/>
<rect x="272.5" y="680.5" width="5.0" height="65.5" fill="#d4706c"/>
<path d="M272.5 746 V680.5 H277.5 V746" fill="none" stroke="#c83246"/>
<rect x="267.5" y="681.5" width="5.0" height="64.5" fill="#868074"/>
<path d="M267.5 746 V681.5 H272.5 V746" fill="none" stroke="#4a4c50"/>
<rect x="262.5" y="713.5" width="5.0" height="32.5" fill="#d4706c"/>
<path d="M262.5 746 V713.5 H267.5 V746" fill="none" stroke="#c83246"/>
<rect x="257.5" y="698.5" width="5.0" height="47.5" fill="#868074"/>
<path d="M257.5 746 V698.5 H262.5 V746" fill="none" stroke="#4a4c50"/>
<rect x="253.5" y="721.5" width="4.0" height="24.5" fill="#d4706c"/>
<path d="M253.5 746 V721.5 H257.5 V746" fill="none" stroke="#c83246"/>
<rect x="248.5" y="708.5" width="5.0" height="37.5" fill="#d4706c"/>
<path d="M248.5 746 V708.5 H253.5 V746" fill="none" stroke="#c83246"/>
<rect x="243.5" y="711.5" width="5.0" height="34.5" fill="#d4706c"/>
<path d="M243.5 746 V711.5 H248.5 V746" fill="none" stroke="#c83246"/>
<rect x="238.5" y="691.5" width="5.0" height="54.5" fill="#d4706c"/>
<path d="M238.5 746 V691.5 H243.5 V746" fill="none" stroke="#c83246"/>
<rect x="233.5" y="702.5" width="5.0" height="43.5" fill="#868074"/>
<path d="M233.5 746 V702.5 H238.5 V746" fill="none" stroke="#4a4c50"/>
<rect x="228.5" y="720.5" width="5.0" height="25.5" fill="#868074"/>
<path d="M228.5 746 V720.5 H233.5 V746" fill="none" stroke="#4a4c50"/>
<rect x="224.5" y="699.5" width="4.0" height="46.5" fill="#d4706c"/>
<path d="M224.5 746 V699.5 H228.5 V746" fill="none" stroke="#c83246"/>
<rect x="219.5" y="671.5" width="5.0" height="74.5" fill="#868074"/>
<path d="M219.5 746 V671.5 H224.5 V746" fill="none" stroke="#4a4c50"/>
<rect x="214.5" y="709.5" width="5.0" height="36.5" fill="#868074"/>
<path d="M214.5 746 V709.5 H219.5 V746" fill="none" stroke="#4a4c50"/>
<rect x="209.5" y="689.5" width="5.0" height="56.5" fill="#868074"/>
<path d="M209.5 746 V689.5 H214.5 V746" fill="none" stroke="#4a4c50"/>
<rect x="204.5" y="709.5" width="5.0" height="36.5" fill="#d4706c"/>
<path d="M204.5 746 V709.5 H209.5 V746" fill="none" stroke="#c83246"/>
<rect x="199.5" y="708.5" width="5.0" height="37.5" fill="#d4706c"/>
<path d="M199.5 746 V708.5 H204.5 V746" fill="none" stroke="#c83246"/>
<rect x="195.5" y="713.5" width="4.0" height="32.5" fill="#d4706c"/>
<path d="M195.5 746 V713.5 H199.5 V746" fill="none" stroke="#c83246"/>
<rect x="190.5" y="706.5" width="5.0" height="39.5" fill="#868074"/>
<path d="M190.5 746 V706.5 H195.5 V746" fill="none" stroke="#4a4c50"/>
<rect x="185.5" y="713.5" width="5.0" height="32.5" fill="#868074"/>
<path d="M185.5 746 V713.5 H190.5 V746" fill="none" stroke="#4a4c50"/>
<rect x="180.5" y="709.5" width="5.0" height="36.5" fill="#868074"/>
<path d="M180.5 746 V709.5 H185.5 V746" fill="none" stroke="#4a4c50"/>
<rect x="175.5" y="715.5" width="5.0" height="30.5" fill="#d4706c"/>
<path d="M175.5 746 V715.5 H180.5 V746" fill="none" stroke="#c83246"/>
<rect x="170.5" y="711.5" width="5.0" height="34.5" fill="#d4706c"/>
<path d="M170.5 746 V711.5 H175.5 V746" fill="none" stroke="#c83246"/>
<rect x="166.5" y="719.5" width="4.0" height="26.5" fill="#868074"/>
<path d="M166.5 746 V719.5 H170.5 V746" fill="none" stroke="#4a4c50"/>
<rect x="161.5" y="701.5" width="5.0" height="44.5" fill="#d4706c"/>
<path d="M161.5 746 V701.5 H166.5 V746" fill="none" stroke="#c83246"/>
<rect x="156.5" y="718.5" width="5.0" height="27.5" fill="#d4706c"/>
<path d="M156.5 746 V718.5 H161.5 V746" fill="none" stroke="#c83246"/>
<rect x="151.5" y="711.5" width="5.0" height="34.5" fill="#d4706c"/>
<path d="M151.5 746 V711.5 H156.5 V746" fill="none" stroke="#c83246"/>
<rect x="146.5" y="715.5" width="5.0" height="30.5" fill="#868074"/>
<path d="M146.5 746 V715.5 H151.5 V746" fill="none" stroke="#4a4c50"/>
<rect x="141.5" y="719.5" width="5.0" height="26.5" fill="#d4706c"/>
<path d="M141.5 746 V719.5 H146.5 V746" fill="none" stroke="#c83246"/>
<rect x="137.5" y="710.5" width="4.0" height="35.5" fill="#868074"/>
<path d="M137.5 746 V710.5 H141.5 V746" fill="none" stroke="#4a4c50"/>
<rect x="132.5" y="685.5" width="5.0" height="60.5" fill="#d4706c"/>
<path d="M132.5 746 V685.5 H137.5 V746" fill="none" stroke="#c83246"/>
<rect x="127.5" y="719.5" width="5.0" height="26.5" fill="#868074"/>
<path d="M127.5 746 V719.5 H132.5 V746" fill="none" stroke="#4a4c50"/>
<rect x="122.5" y="708.5" width="5.0" height="37.5" fill="#868074"/>
<path d="M122.5 746 V708.5 H127.5 V746" fill="none" stroke="#4a4c50"/>
<rect x="117.5" y="719.5" width="5.0" height="26.5" fill="#d4706c"/>
<path d="M117.5 746 V719.5 H122.5 V746" fill="none" stroke="#c83246"/>
<rect x="112.5" y="721.5" width="5.0" height="24.5" fill="#868074"/>
<path d="M112.5 746 V721.5 H117.5 V746" fill="none" stroke="#4a4c50"/>
<rect x="108.5" y="692.5" width="4.0" height="53.5" fill="#d4706c"/>
<path d="M108.5 746 V692.5 H112.5 V746" fill="none" stroke="#c83246"/>
<rect x="103.5" y="714.5" width="5.0" height="31.5" fill="#d4706c"/>
<path d="M103.5 746 V714.5 H108.5 V746" fill="none" stroke="#c83246"/>
<rect x="98.5" y="704.5" width="5.0" height="41.5" fill="#d4706c"/>
<path d="M98.5 746 V704.5 H103.5 V746" fill="none" stroke="#c83246"/>
<rect x="93.5" y="680.5" width="5.0" height="65.5" fill="#868074"/>
<path d="M93.5 746 V680.5 H98.5 V746" fill="none" stroke="#4a4c50"/>
<rect x="88.5" y="677.5" width="5.0" height="68.5" fill="#868074"/>
<path d="M88.5 746 V677.5 H93.5 V746" fill="none" stroke="#4a4c50"/>
<rect x="83.5" y="684.5" width="5.0" height="61.5" fill="#d4706c"/>
<path d="M83.5 746 V684.5 H88.5 V746" fill="none" stroke="#c83246"/>
<rect x="79.5" y="668.5" width="4.0" height="77.5" fill="#868074"/>
<path d="M79.5 746 V668.5 H83.5 V746" fill="none" stroke="#4a4c50"/>
<rect x="74.5" y="668.5" width="5.0" height="77.5" fill="#868074"/>
<path d="M74.5 746 V668.5 H79.5 V746" fill="none" stroke="#4a4c50"/>
<rect x="69.5" y="719.5" width="5.0" height="26.5" fill="#868074"/>
<path d="M69.5 746 V719.5 H74.5 V746" fill="none" stroke="#4a4c50"/>
<rect x="64.5" y="706.5" width="5.0" height="39.5" fill="#d4706c"/>
<path d="M64.5 746 V706.5 H69.5 V746" fill="none" stroke="#c83246"/>
<rect x="59.5" y="712.5" width="5.0" height="33.5" fill="#868074"/>
<path d="M59.5 746 V712.5 H64.5 V746" fill="none" stroke="#4a4c50"/>
<rect x="55.5" y="708.5" width="4.0" height="37.5" fill="#d4706c"/>
<path d="M55.5 746 V708.5 H59.5 V746" fill="none" stroke="#c83246"/>
<rect x="50.5" y="713.5" width="5.0" height="32.5" fill="#d4706c"/>
<path d="M50.5 746 V713.5 H55.5 V746" fill="none" stroke="#c83246"/>
<rect x="45.5" y="715.5" width="5.0" height="30.5" fill="#868074"/>
<path d="M45.5 746 V715.5 H50.5 V746" fill="none" stroke="#4a4c50"/>
<rect x="40.5" y="702.5" width="5.0" height="43.5" fill="#d4706c"/>
<path d="M40.5 746 V702.5 H45.5 V746" fill="none" stroke="#c83246"/>
<rect x="35.5" y="710.5" width="5.0" height="35.5" fill="#d4706c"/>
<path d="M35.5 746 V710.5 H40.5 V746" fill="none" stroke="#c83246"/>
<rect x="30.5" y="704.5" width="5.0" height="41.5" fill="#868074"/>
<path d="M30.5 746 V704.5 H35.5 V746" fill="none" stroke="#4a4c50"/>
<rect x="26.5" y="714.5" width="4.0" height="31.5" fill="#868074"/>
<path d="M26.5 746 V714.5 H30.5 V746" fill="none" stroke="#4a4c50"/>
<rect x="21.5" y="711.5" width="5.0" height="34.5" fill="#d4706c"/>
<path d="M21.5 746 V711.5 H26.5 V746" fill="none" stroke="#c83246"/>
<rect x="16.5" y="692.5" width="5.0" height="53.5" fill="#868074"/>
<path d="M16.5 746 V692.5 H21.5 V746" fill="none" stroke="#4a4c50"/>
</g>
<g shape-rendering="crispEdges">
<rect x="16.5" y="962.5" width="5.0" height="11.5" fill="#57a0c4"/>
<path d="M16.5 974.0 V962.5 H21.5 V974.0" fill="none" stroke="#1f6e9c"/>
<rect x="21.5" y="964.5" width="5.0" height="9.5" fill="#57a0c4"/>
<path d="M21.5 974.0 V964.5 H26.5 V974.0" fill="none" stroke="#1f6e9c"/>
<rect x="26.5" y="965.5" width="4.0" height="8.5" fill="#57a0c4"/>
<path d="M26.5 974.0 V965.5 H30.5 V974.0" fill="none" stroke="#1f6e9c"/>
<rect x="30.5" y="960.5" width="5.0" height="13.5" fill="#57a0c4"/>
<path d="M30.5 974.0 V960.5 H35.5 V974.0" fill="none" stroke="#1f6e9c"/>
<rect x="35.5" y="958.5" width="5.0" height="15.5" fill="#57a0c4"/>
<path d="M35.5 974.0 V958.5 H40.5 V974.0" fill="none" stroke="#1f6e9c"/>
<rect x="40.5" y="960.5" width="5.0" height="13.5" fill="#57a0c4"/>
<path d="M40.5 974.0 V960.5 H45.5 V974.0" fill="none" stroke="#1f6e9c"/>
<rect x="45.5" y="960.5" width="5.0" height="13.5" fill="#57a0c4"/>
<path d="M45.5 974.0 V960.5 H50.5 V974.0" fill="none" stroke="#1f6e9c"/>
<rect x="50.5" y="961.5" width="5.0" height="12.5" fill="#57a0c4"/>
<path d="M50.5 974.0 V961.5 H55.5 V974.0" fill="none" stroke="#1f6e9c"/>
<rect x="55.5" y="964.5" width="4.0" height="9.5" fill="#57a0c4"/>
<path d="M55.5 974.0 V964.5 H59.5 V974.0" fill="none" stroke="#1f6e9c"/>
<rect x="59.5" y="966.5" width="5.0" height="7.5" fill="#57a0c4"/>
<path d="M59.5 974.0 V966.5 H64.5 V974.0" fill="none" stroke="#1f6e9c"/>
<rect x="64.5" y="969.5" width="5.0" height="4.5" fill="#57a0c4"/>
<path d="M64.5 974.0 V969.5 H69.5 V974.0" fill="none" stroke="#1f6e9c"/>
<rect x="69.5" y="970.5" width="5.0" height="3.5" fill="#57a0c4"/>
<path d="M69.5 974.0 V970.5 H74.5 V974.0" fill="none" stroke="#1f6e9c"/>
<rect x="74.5" y="969.5" width="5.0" height="4.5" fill="#57a0c4"/>
<path d="M74.5 974.0 V969.5 H79.5 V974.0" fill="none" stroke="#1f6e9c"/>
<rect x="79.5" y="963.5" width="4.0" height="10.5" fill="#57a0c4"/>
<path d="M79.5 974.0 V963.5 H83.5 V974.0" fill="none" stroke="#1f6e9c"/>
<rect x="83.5" y="961.5" width="5.0" height="12.5" fill="#57a0c4"/>
<path d="M83.5 974.0 V961.5 H88.5 V974.0" fill="none" stroke="#1f6e9c"/>
<rect x="88.5" y="960.5" width="5.0" height="13.5" fill="#57a0c4"/>
<path d="M88.5 974.0 V960.5 H93.5 V974.0" fill="none" stroke="#1f6e9c"/>
<rect x="93.5" y="958.5" width="5.0" height="15.5" fill="#57a0c4"/>
<path d="M93.5 974.0 V958.5 H98.5 V974.0" fill="none" stroke="#1f6e9c"/>
<rect x="98.5" y="958.5" width="5.0" height="15.5" fill="#57a0c4"/>
<path d="M98.5 974.0 V958.5 H103.5 V974.0" fill="none" stroke="#1f6e9c"/>
<rect x="103.5" y="960.5" width="5.0" height="13.5" fill="#57a0c4"/>
<path d="M103.5 974.0 V960.5 H108.5 V974.0" fill="none" stroke="#1f6e9c"/>
<rect x="108.5" y="964.5" width="4.0" height="9.5" fill="#57a0c4"/>
<path d="M108.5 974.0 V964.5 H112.5 V974.0" fill="none" stroke="#1f6e9c"/>
<rect x="112.5" y="966.5" width="5.0" height="7.5" fill="#57a0c4"/>
<path d="M112.5 974.0 V966.5 H117.5 V974.0" fill="none" stroke="#1f6e9c"/>
<rect x="117.5" y="969.5" width="5.0" height="4.5" fill="#57a0c4"/>
<path d="M117.5 974.0 V969.5 H122.5 V974.0" fill="none" stroke="#1f6e9c"/>
<rect x="122.5" y="969.5" width="5.0" height="4.5" fill="#57a0c4"/>
<path d="M122.5 974.0 V969.5 H127.5 V974.0" fill="none" stroke="#1f6e9c"/>
<rect x="127.5" y="968.5" width="5.0" height="5.5" fill="#57a0c4"/>
<path d="M127.5 974.0 V968.5 H132.5 V974.0" fill="none" stroke="#1f6e9c"/>
<rect x="132.5" y="970.5" width="5.0" height="3.5" fill="#57a0c4"/>
<path d="M132.5 974.0 V970.5 H137.5 V974.0" fill="none" stroke="#1f6e9c"/>
<rect x="137.5" y="968.5" width="4.0" height="5.5" fill="#57a0c4"/>
<path d="M137.5 974.0 V968.5 H141.5 V974.0" fill="none" stroke="#1f6e9c"/>
<rect x="141.5" y="968.5" width="5.0" height="5.5" fill="#57a0c4"/>
<path d="M141.5 974.0 V968.5 H146.5 V974.0" fill="none" stroke="#1f6e9c"/>
<rect x="146.5" y="968.5" width="5.0" height="5.5" fill="#57a0c4"/>
<path d="M146.5 974.0 V968.5 H151.5 V974.0" fill="none" stroke="#1f6e9c"/>
<rect x="151.5" y="971.5" width="5.0" height="2.5" fill="#57a0c4"/>
<path d="M151.5 974.0 V971.5 H156.5 V974.0" fill="none" stroke="#1f6e9c"/>
<rect x="156.5" y="974.0" width="5.0" height="1.5" fill="#57a0c4"/>
<path d="M156.5 974.0 V975.5 H161.5 V974.0" fill="none" stroke="#1f6e9c"/>
<rect x="161.5" y="974.0" width="5.0" height="6.5" fill="#57a0c4"/>
<path d="M161.5 974.0 V980.5 H166.5 V974.0" fill="none" stroke="#1f6e9c"/>
<rect x="166.5" y="974.0" width="4.0" height="9.5" fill="#57a0c4"/>
<path d="M166.5 974.0 V983.5 H170.5 V974.0" fill="none" stroke="#1f6e9c"/>
<rect x="170.5" y="974.0" width="5.0" height="13.5" fill="#57a0c4"/>
<path d="M170.5 974.0 V987.5 H175.5 V974.0" fill="none" stroke="#1f6e9c"/>
<rect x="175.5" y="974.0" width="5.0" height="16.5" fill="#57a0c4"/>
<path d="M175.5 974.0 V990.5 H180.5 V974.0" fill="none" stroke="#1f6e9c"/>
<rect x="180.5" y="974.0" width="5.0" height="15.5" fill="#57a0c4"/>
<path d="M180.5 974.0 V989.5 H185.5 V974.0" fill="none" stroke="#1f6e9c"/>
<rect x="185.5" y="974.0" width="5.0" height="12.5" fill="#57a0c4"/>
<path d="M185.5 974.0 V986.5 H190.5 V974.0" fill="none" stroke="#1f6e9c"/>
<rect x="190.5" y="974.0" width="5.0" height="6.5" fill="#57a0c4"/>
<path d="M190.5 974.0 V980.5 H195.5 V974.0" fill="none" stroke="#1f6e9c"/>
<rect x="195.5" y="974.0" width="4.0" height="3.5" fill="#57a0c4"/>
<path d="M195.5 974.0 V977.5 H199.5 V974.0" fill="none" stroke="#1f6e9c"/>
<rect x="199.5" y="974.0" width="5.0" height="2.5" fill="#57a0c4"/>
<path d="M199.5 974.0 V976.5 H204.5 V974.0" fill="none" stroke="#1f6e9c"/>
<rect x="204.5" y="974.0" width="5.0" height="4.5" fill="#57a0c4"/>
<path d="M204.5 974.0 V978.5 H209.5 V974.0" fill="none" stroke="#1f6e9c"/>
<rect x="209.5" y="974.0" width="5.0" height="1.5" fill="#57a0c4"/>
<path d="M209.5 974.0 V975.5 H214.5 V974.0" fill="none" stroke="#1f6e9c"/>
<rect x="214.5" y="970.5" width="5.0" height="3.5" fill="#57a0c4"/>
<path d="M214.5 974.0 V970.5 H219.5 V974.0" fill="none" stroke="#1f6e9c"/>
<rect x="219.5" y="965.5" width="5.0" height="8.5" fill="#57a0c4"/>
<path d="M219.5 974.0 V965.5 H224.5 V974.0" fill="none" stroke="#1f6e9c"/>
<rect x="224.5" y="962.5" width="4.0" height="11.5" fill="#57a0c4"/>
<path d="M224.5 974.0 V962.5 H228.5 V974.0" fill="none" stroke="#1f6e9c"/>
<rect x="228.5" y="961.5" width="5.0" height="12.5" fill="#57a0c4"/>
<path d="M228.5 974.0 V961.5 H233.5 V974.0" fill="none" stroke="#1f6e9c"/>
<rect x="233.5" y="960.5" width="5.0" height="13.5" fill="#57a0c4"/>
<path d="M233.5 974.0 V960.5 H238.5 V974.0" fill="none" stroke="#1f6e9c"/>
<rect x="238.5" y="961.5" width="5.0" height="12.5" fill="#57a0c4"/>
<path d="M238.5 974.0 V961.5 H243.5 V974.0" fill="none" stroke="#1f6e9c"/>
<rect x="243.5" y="965.5" width="5.0" height="8.5" fill="#57a0c4"/>
<path d="M243.5 974.0 V965.5 H248.5 V974.0" fill="none" stroke="#1f6e9c"/>
<rect x="248.5" y="971.5" width="5.0" height="2.5" fill="#57a0c4"/>
<path d="M248.5 974.0 V971.5 H253.5 V974.0" fill="none" stroke="#1f6e9c"/>
<rect x="253.5" y="974.0" width="4.0" height="1.5" fill="#57a0c4"/>
<path d="M253.5 974.0 V975.5 H257.5 V974.0" fill="none" stroke="#1f6e9c"/>
<rect x="257.5" y="974.0" width="5.0" height="1.5" fill="#57a0c4"/>
<path d="M257.5 974.0 V975.5 H262.5 V974.0" fill="none" stroke="#1f6e9c"/>
<rect x="262.5" y="974.0" width="5.0" height="1.5" fill="#57a0c4"/>
<path d="M262.5 974.0 V975.5 H267.5 V974.0" fill="none" stroke="#1f6e9c"/>
<rect x="267.5" y="968.5" width="5.0" height="5.5" fill="#57a0c4"/>
<path d="M267.5 974.0 V968.5 H272.5 V974.0" fill="none" stroke="#1f6e9c"/>
<rect x="272.5" y="968.5" width="5.0" height="5.5" fill="#57a0c4"/>
<path d="M272.5 974.0 V968.5 H277.5 V974.0" fill="none" stroke="#1f6e9c"/>
<rect x="277.5" y="969.5" width="5.0" height="4.5" fill="#57a0c4"/>
<path d="M277.5 974.0 V969.5 H282.5 V974.0" fill="none" stroke="#1f6e9c"/>
<rect x="282.5" y="971.5" width="4.0" height="2.5" fill="#57a0c4"/>
<path d="M282.5 974.0 V971.5 H286.5 V974.0" fill="none" stroke="#1f6e9c"/>
<rect x="286.5" y="972.5" width="5.0" height="1.5" fill="#57a0c4"/>
<path d="M286.5 974.0 V972.5 H291.5 V974.0" fill="none" stroke="#1f6e9c"/>
<rect x="291.5" y="974.0" width="5.0" height="14.5" fill="#57a0c4"/>
<path d="M291.5 974.0 V988.5 H296.5 V974.0" fill="none" stroke="#1f6e9c"/>
<rect x="296.5" y="974.0" width="5.0" height="32.5" fill="#57a0c4"/>
<path d="M296.5 974.0 V1006.5 H301.5 V974.0" fill="none" stroke="#1f6e9c"/>
<rect x="301.5" y="974.0" width="5.0" height="42.5" fill="#57a0c4"/>
<path d="M301.5 974.0 V1016.5 H306.5 V974.0" fill="none" stroke="#1f6e9c"/>
<rect x="306.5" y="974.0" width="4.0" height="46.5" fill="#57a0c4"/>
<path d="M306.5 974.0 V1020.5 H310.5 V974.0" fill="none" stroke="#1f6e9c"/>
<rect x="310.5" y="974.0" width="5.0" height="42.5" fill="#57a0c4"/>
<path d="M310.5 974.0 V1016.5 H315.5 V974.0" fill="none" stroke="#1f6e9c"/>
<rect x="315.5" y="974.0" width="5.0" height="36.5" fill="#57a0c4"/>
<path d="M315.5 974.0 V1010.5 H320.5 V974.0" fill="none" stroke="#1f6e9c"/>
<rect x="320.5" y="974.0" width="5.0" height="26.5" fill="#57a0c4"/>
<path d="M320.5 974.0 V1000.5 H325.5 V974.0" fill="none" stroke="#1f6e9c"/>
<rect x="325.5" y="974.0" width="5.0" height="17.5" fill="#57a0c4"/>
<path d="M325.5 974.0 V991.5 H330.5 V974.0" fill="none" stroke="#1f6e9c"/>
<rect x="330.5" y="974.0" width="5.0" height="9.5" fill="#57a0c4"/>
<path d="M330.5 974.0 V983.5 H335.5 V974.0" fill="none" stroke="#1f6e9c"/>
<rect x="335.5" y="974.0" width="4.0" height="2.5" fill="#57a0c4"/>
<path d="M335.5 974.0 V976.5 H339.5 V974.0" fill="none" stroke="#1f6e9c"/>
<rect x="339.5" y="972.5" width="5.0" height="1.5" fill="#57a0c4"/>
<path d="M339.5 974.0 V972.5 H344.5 V974.0" fill="none" stroke="#1f6e9c"/>
<rect x="344.5" y="969.5" width="5.0" height="4.5" fill="#57a0c4"/>
<path d="M344.5 974.0 V969.5 H349.5 V974.0" fill="none" stroke="#1f6e9c"/>
<rect x="349.5" y="968.5" width="5.0" height="5.5" fill="#57a0c4"/>
<path d="M349.5 974.0 V968.5 H354.5 V974.0" fill="none" stroke="#1f6e9c"/>
<rect x="354.5" y="962.5" width="5.0" height="11.5" fill="#57a0c4"/>
<path d="M354.5 974.0 V962.5 H359.5 V974.0" fill="none" stroke="#1f6e9c"/>
<rect x="359.5" y="958.5" width="5.0" height="15.5" fill="#57a0c4"/>
<path d="M359.5 974.0 V958.5 H364.5 V974.0" fill="none" stroke="#1f6e9c"/>
<rect x="364.5" y="960.5" width="4.0" height="13.5" fill="#57a0c4"/>
<path d="M364.5 974.0 V960.5 H368.5 V974.0" fill="none" stroke="#1f6e9c"/>
<rect x="368.5" y="960.5" width="5.0" height="13.5" fill="#57a0c4"/>
<path d="M368.5 974.0 V960.5 H373.5 V974.0" fill="none" stroke="#1f6e9c"/>
<rect x="373.5" y="963.5" width="5.0" height="10.5" fill="#57a0c4"/>
<path d="M373.5 974.0 V963.5 H378.5 V974.0" fill="none" stroke="#1f6e9c"/>
<rect x="378.5" y="967.5" width="5.0" height="6.5" fill="#57a0c4"/>
<path d="M378.5 974.0 V967.5 H383.5 V974.0" fill="none" stroke="#1f6e9c"/>
<rect x="383.5" y="970.5" width="5.0" height="3.5" fill="#57a0c4"/>
<path d="M383.5 974.0 V970.5 H388.5 V974.0" fill="none" stroke="#1f6e9c"/>
<rect x="388.5" y="974.0" width="5.0" height="1.5" fill="#57a0c4"/>
<path d="M388.5 974.0 V975.5 H393.5 V974.0" fill="none" stroke="#1f6e9c"/>
<rect x="393.5" y="974.0" width="4.0" height="1.5" fill="#57a0c4"/>
<path d="M393.5 974.0 V975.5 H397.5 V974.0" fill="none" stroke="#1f6e9c"/>
<rect x="397.5" y="971.5" width="5.0" height="2.5" fill="#57a0c4"/>
<path d="M397.5 974.0 V971.5 H402.5 V974.0" fill="none" stroke="#1f6e9c"/>
<rect x="402.5" y="972.5" width="5.0" height="1.5" fill="#57a0c4"/>
<path d="M402.5 974.0 V972.5 H407.5 V974.0" fill="none" stroke="#1f6e9c"/>
<rect x="407.5" y="974.0" width="5.0" height="1.5" fill="#57a0c4"/>
<path d="M407.5 974.0 V975.5 H412.5 V974.0" fill="none" stroke="#1f6e9c"/>
<rect x="412.5" y="972.5" width="5.0" height="1.5" fill="#57a0c4"/>
<path d="M412.5 974.0 V972.5 H417.5 V974.0" fill="none" stroke="#1f6e9c"/>
<rect x="417.5" y="972.5" width="5.0" height="1.5" fill="#57a0c4"/>
<path d="M417.5 974.0 V972.5 H422.5 V974.0" fill="none" stroke="#1f6e9c"/>
<rect x="422.5" y="971.5" width="4.0" height="2.5" fill="#57a0c4"/>
<path d="M422.5 974.0 V971.5 H426.5 V974.0" fill="none" stroke="#1f6e9c"/>
<rect x="426.5" y="974.0" width="5.0" height="1.5" fill="#57a0c4"/>
<path d="M426.5 974.0 V975.5 H431.5 V974.0" fill="none" stroke="#1f6e9c"/>
<rect x="431.5" y="972.5" width="5.0" height="1.5" fill="#57a0c4"/>
<path d="M431.5 974.0 V972.5 H436.5 V974.0" fill="none" stroke="#1f6e9c"/>
<rect x="436.5" y="974.0" width="5.0" height="1.5" fill="#57a0c4"/>
<path d="M436.5 974.0 V975.5 H441.5 V974.0" fill="none" stroke="#1f6e9c"/>
<rect x="441.5" y="974.0" width="5.0" height="1.5" fill="#57a0c4"/>
<path d="M441.5 974.0 V975.5 H446.5 V974.0" fill="none" stroke="#1f6e9c"/>
<rect x="446.5" y="971.5" width="5.0" height="2.5" fill="#57a0c4"/>
<path d="M446.5 974.0 V971.5 H451.5 V974.0" fill="none" stroke="#1f6e9c"/>
<rect x="451.5" y="967.5" width="4.0" height="6.5" fill="#57a0c4"/>
<path d="M451.5 974.0 V967.5 H455.5 V974.0" fill="none" stroke="#1f6e9c"/>
<rect x="455.5" y="967.5" width="5.0" height="6.5" fill="#57a0c4"/>
<path d="M455.5 974.0 V967.5 H460.5 V974.0" fill="none" stroke="#1f6e9c"/>
<rect x="460.5" y="965.5" width="5.0" height="8.5" fill="#57a0c4"/>
<path d="M460.5 974.0 V965.5 H465.5 V974.0" fill="none" stroke="#1f6e9c"/>
<rect x="465.5" y="966.5" width="5.0" height="7.5" fill="#57a0c4"/>
<path d="M465.5 974.0 V966.5 H470.5 V974.0" fill="none" stroke="#1f6e9c"/>
<rect x="470.5" y="968.5" width="5.0" height="5.5" fill="#57a0c4"/>
<path d="M470.5 974.0 V968.5 H475.5 V974.0" fill="none" stroke="#1f6e9c"/>
<rect x="475.5" y="968.5" width="5.0" height="5.5" fill="#57a0c4"/>
<path d="M475.5 974.0 V968.5 H480.5 V974.0" fill="none" stroke="#1f6e9c"/>
<rect x="480.5" y="970.5" width="4.0" height="3.5" fill="#57a0c4"/>
<path d="M480.5 974.0 V970.5 H484.5 V974.0" fill="none" stroke="#1f6e9c"/>
<rect x="484.5" y="963.5" width="5.0" height="10.5" fill="#57a0c4"/>
<path d="M484.5 974.0 V963.5 H489.5 V974.0" fill="none" stroke="#1f6e9c"/>
<rect x="489.5" y="960.5" width="5.0" height="13.5" fill="#57a0c4"/>
<path d="M489.5 974.0 V960.5 H494.5 V974.0" fill="none" stroke="#1f6e9c"/>
<rect x="494.5" y="959.5" width="5.0" height="14.5" fill="#57a0c4"/>
<path d="M494.5 974.0 V959.5 H499.5 V974.0" fill="none" stroke="#1f6e9c"/>
<rect x="499.5" y="954.5" width="5.0" height="19.5" fill="#57a0c4"/>
<path d="M499.5 974.0 V954.5 H504.5 V974.0" fill="none" stroke="#1f6e9c"/>
<rect x="504.5" y="950.5" width="4.0" height="23.5" fill="#57a0c4"/>
<path d="M504.5 974.0 V950.5 H508.5 V974.0" fill="none" stroke="#1f6e9c"/>
<rect x="508.5" y="946.5" width="5.0" height="27.5" fill="#57a0c4"/>
<path d="M508.5 974.0 V946.5 H513.5 V974.0" fill="none" stroke="#1f6e9c"/>
<rect x="513.5" y="945.5" width="5.0" height="28.5" fill="#57a0c4"/>
<path d="M513.5 974.0 V945.5 H518.5 V974.0" fill="none" stroke="#1f6e9c"/>
<rect x="518.5" y="949.5" width="5.0" height="24.5" fill="#57a0c4"/>
<path d="M518.5 974.0 V949.5 H523.5 V974.0" fill="none" stroke="#1f6e9c"/>
<rect x="523.5" y="952.5" width="5.0" height="21.5" fill="#57a0c4"/>
<path d="M523.5 974.0 V952.5 H528.5 V974.0" fill="none" stroke="#1f6e9c"/>
<rect x="528.5" y="956.5" width="5.0" height="17.5" fill="#57a0c4"/>
<path d="M528.5 974.0 V956.5 H533.5 V974.0" fill="none" stroke="#1f6e9c"/>
<rect x="533.5" y="960.5" width="4.0" height="13.5" fill="#57a0c4"/>
<path d="M533.5 974.0 V960.5 H537.5 V974.0" fill="none" stroke="#1f6e9c"/>
<rect x="537.5" y="960.5" width="5.0" height="13.5" fill="#57a0c4"/>
<path d="M537.5 974.0 V960.5 H542.5 V974.0" fill="none" stroke="#1f6e9c"/>
<rect x="542.5" y="963.5" width="5.0" height="10.5" fill="#57a0c4"/>
<path d="M542.5 974.0 V963.5 H547.5 V974.0" fill="none" stroke="#1f6e9c"/>
<rect x="547.5" y="970.5" width="5.0" height="3.5" fill="#57a0c4"/>
<path d="M547.5 974.0 V970.5 H552.5 V974.0" fill="none" stroke="#1f6e9c"/>
<rect x="552.5" y="974.0" width="5.0" height="1.5" fill="#57a0c4"/>
<path d="M552.5 974.0 V975.5 H557.5 V974.0" fill="none" stroke="#1f6e9c"/>
<rect x="557.5" y="974.0" width="5.0" height="4.5" fill="#57a0c4"/>
<path d="M557.5 974.0 V978.5 H562.5 V974.0" fill="none" stroke="#1f6e9c"/>
<rect x="562.5" y="974.0" width="4.0" height="6.5" fill="#57a0c4"/>
<path d="M562.5 974.0 V980.5 H566.5 V974.0" fill="none" stroke="#1f6e9c"/>
<rect x="566.5" y="974.0" width="5.0" height="5.5" fill="#57a0c4"/>
<path d="M566.5 974.0 V979.5 H571.5 V974.0" fill="none" stroke="#1f6e9c"/>
<rect x="571.5" y="974.0" width="5.0" height="9.5" fill="#57a0c4"/>
<path d="M571.5 974.0 V983.5 H576.5 V974.0" fill="none" stroke="#1f6e9c"/>
<rect x="576.5" y="974.0" width="5.0" height="10.5" fill="#57a0c4"/>
<path d="M576.5 974.0 V984.5 H581.5 V974.0" fill="none" stroke="#1f6e9c"/>
<rect x="581.5" y="974.0" width="5.0" height="12.5" fill="#57a0c4"/>
<path d="M581.5 974.0 V986.5 H586.5 V974.0" fill="none" stroke="#1f6e9c"/>
<rect x="586.5" y="974.0" width="5.0" height="9.5" fill="#57a0c4"/>
<path d="M586.5 974.0 V983.5 H591.5 V974.0" fill="none" stroke="#1f6e9c"/>
<rect x="591.5" y="974.0" width="4.0" height="7.5" fill="#57a0c4"/>
<path d="M591.5 974.0 V981.5 H595.5 V974.0" fill="none" stroke="#1f6e9c"/>
<rect x="595.5" y="974.0" width="5.0" height="5.5" fill="#57a0c4"/>
<path d="M595.5 974.0 V979.5 H600.5 V974.0" fill="none" stroke="#1f6e9c"/>
<rect x="600.5" y="974.0" width="5.0" height="5.5" fill="#57a0c4"/>
<path d="M600.5 974.0 V979.5 H605.5 V974.0" fill="none" stroke="#1f6e9c"/>
<rect x="605.5" y="974.0" width="5.0" height="7.5" fill="#57a0c4"/>
<path d="M605.5 974.0 V981.5 H610.5 V974.0" fill="none" stroke="#1f6e9c"/>
<rect x="610.5" y="974.0" width="5.0" height="2.5" fill="#57a0c4"/>
<path d="M610.5 974.0 V976.5 H615.5 V974.0" fill="none" stroke="#1f6e9c"/>
<rect x="615.5" y="966.5" width="5.0" height="7.5" fill="#57a0c4"/>
<path d="M615.5 974.0 V966.5 H620.5 V974.0" fill="none" stroke="#1f6e9c"/>
<rect x="620.5" y="964.5" width="4.0" height="9.5" fill="#57a0c4"/>
<path d="M620.5 974.0 V964.5 H624.5 V974.0" fill="none" stroke="#1f6e9c"/>
<rect x="624.5" y="966.5" width="5.0" height="7.5" fill="#57a0c4"/>
<path d="M624.5 974.0 V966.5 H629.5 V974.0" fill="none" stroke="#1f6e9c"/>
<rect x="629.5" y="967.5" width="5.0" height="6.5" fill="#57a0c4"/>
<path d="M629.5 974.0 V967.5 H634.5 V974.0" fill="none" stroke="#1f6e9c"/>
<rect x="634.5" y="967.5" width="5.0" height="6.5" fill="#57a0c4"/>
<path d="M634.5 974.0 V967.5 H639.5 V974.0" fill="none" stroke="#1f6e9c"/>
<rect x="639.5" y="969.5" width="5.0" height="4.5" fill="#57a0c4"/>
<path d="M639.5 974.0 V969.5 H644.5 V974.0" fill="none" stroke="#1f6e9c"/>
<rect x="644.5" y="966.5" width="5.0" height="7.5" fill="#57a0c4"/>
<path d="M644.5 974.0 V966.5 H649.5 V974.0" fill="none" stroke="#1f6e9c"/>
<rect x="649.5" y="963.5" width="4.0" height="10.5" fill="#57a0c4"/>
<path d="M649.5 974.0 V963.5 H653.5 V974.0" fill="none" stroke="#1f6e9c"/>
<rect x="653.5" y="962.5" width="5.0" height="11.5" fill="#57a0c4"/>
<path d="M653.5 974.0 V962.5 H658.5 V974.0" fill="none" stroke="#1f6e9c"/>
<rect x="658.5" y="964.5" width="5.0" height="9.5" fill="#57a0c4"/>
<path d="M658.5 974.0 V964.5 H663.5 V974.0" fill="none" stroke="#1f6e9c"/>
<rect x="663.5" y="972.5" width="5.0" height="1.5" fill="#57a0c4"/>
<path d="M663.5 974.0 V972.5 H668.5 V974.0" fill="none" stroke="#1f6e9c"/>
<rect x="668.5" y="974.0" width="5.0" height="3.5" fill="#57a0c4"/>
<path d="M668.5 974.0 V977.5 H673.5 V974.0" fill="none" stroke="#1f6e9c"/>
<rect x="673.5" y="974.0" width="5.0" height="7.5" fill="#57a0c4"/>
<path d="M673.5 974.0 V981.5 H678.5 V974.0" fill="none" stroke="#1f6e9c"/>
<rect x="678.5" y="974.0" width="4.0" height="17.5" fill="#57a0c4"/>
<path d="M678.5 974.0 V991.5 H682.5 V974.0" fill="none" stroke="#1f6e9c"/>
<rect x="682.5" y="974.0" width="5.0" height="23.5" fill="#57a0c4"/>
<path d="M682.5 974.0 V997.5 H687.5 V974.0" fill="none" stroke="#1f6e9c"/>
<rect x="687.5" y="974.0" width="5.0" height="25.5" fill="#57a0c4"/>
<path d="M687.5 974.0 V999.5 H692.5 V974.0" fill="none" stroke="#1f6e9c"/>
<rect x="692.5" y="974.0" width="5.0" height="24.5" fill="#57a0c4"/>
<path d="M692.5 974.0 V998.5 H697.5 V974.0" fill="none" stroke="#1f6e9c"/>
<rect x="697.5" y="974.0" width="5.0" height="20.5" fill="#57a0c4"/>
<path d="M697.5 974.0 V994.5 H702.5 V974.0" fill="none" stroke="#1f6e9c"/>
<rect x="702.5" y="974.0" width="4.0" height="16.5" fill="#57a0c4"/>
<path d="M702.5 974.0 V990.5 H706.5 V974.0" fill="none" stroke="#1f6e9c"/>
<rect x="706.5" y="974.0" width="5.0" height="10.5" fill="#57a0c4"/>
<path d="M706.5 974.0 V984.5 H711.5 V974.0" fill="none" stroke="#1f6e9c"/>
<rect x="711.5" y="974.0" width="5.0" height="6.5" fill="#57a0c4"/>
<path d="M711.5 974.0 V980.5 H716.5 V974.0" fill="none" stroke="#1f6e9c"/>
<rect x="716.5" y="974.0" width="5.0" height="7.5" fill="#57a0c4"/>
<path d="M716.5 974.0 V981.5 H721.5 V974.0" fill="none" stroke="#1f6e9c"/>
<rect x="721.5" y="974.0" width="5.0" height="7.5" fill="#57a0c4"/>
<path d="M721.5 974.0 V981.5 H726.5 V974.0" fill="none" stroke="#1f6e9c"/>
<rect x="726.5" y="974.0" width="5.0" height="3.5" fill="#57a0c4"/>
<path d="M726.5 974.0 V977.5 H731.5 V974.0" fill="none" stroke="#1f6e9c"/>
<rect x="731.5" y="974.0" width="4.0" height="3.5" fill="#57a0c4"/>
<path d="M731.5 974.0 V977.5 H735.5 V974.0" fill="none" stroke="#1f6e9c"/>
<rect x="735.5" y="974.0" width="5.0" height="4.5" fill="#57a0c4"/>
<path d="M735.5 974.0 V978.5 H740.5 V974.0" fill="none" stroke="#1f6e9c"/>
<rect x="740.5" y="974.0" width="5.0" height="3.5" fill="#57a0c4"/>
<path d="M740.5 974.0 V977.5 H745.5 V974.0" fill="none" stroke="#1f6e9c"/>
<rect x="745.5" y="974.0" width="5.0" height="8.5" fill="#57a0c4"/>
<path d="M745.5 974.0 V982.5 H750.5 V974.0" fill="none" stroke="#1f6e9c"/>
<rect x="750.5" y="974.0" width="5.0" height="7.5" fill="#57a0c4"/>
<path d="M750.5 974.0 V981.5 H755.5 V974.0" fill="none" stroke="#1f6e9c"/>
<rect x="755.5" y="974.0" width="5.0" height="5.5" fill="#57a0c4"/>
<path d="M755.5 974.0 V979.5 H760.5 V974.0" fill="none" stroke="#1f6e9c"/>
<rect x="760.5" y="972.5" width="4.0" height="1.5" fill="#57a0c4"/>
<path d="M760.5 974.0 V972.5 H764.5 V974.0" fill="none" stroke="#1f6e9c"/>
<rect x="764.5" y="972.5" width="5.0" height="1.5" fill="#57a0c4"/>
<path d="M764.5 974.0 V972.5 H769.5 V974.0" fill="none" stroke="#1f6e9c"/>
<rect x="769.5" y="970.5" width="5.0" height="3.5" fill="#57a0c4"/>
<path d="M769.5 974.0 V970.5 H774.5 V974.0" fill="none" stroke="#1f6e9c"/>
<rect x="774.5" y="970.5" width="5.0" height="3.5" fill="#57a0c4"/>
<path d="M774.5 974.0 V970.5 H779.5 V974.0" fill="none" stroke="#1f6e9c"/>
<rect x="779.5" y="967.5" width="5.0" height="6.5" fill="#57a0c4"/>
<path d="M779.5 974.0 V967.5 H784.5 V974.0" fill="none" stroke="#1f6e9c"/>
<rect x="784.5" y="960.5" width="5.0" height="13.5" fill="#57a0c4"/>
<path d="M784.5 974.0 V960.5 H789.5 V974.0" fill="none" stroke="#1f6e9c"/>
<rect x="789.5" y="951.5" width="4.0" height="22.5" fill="#57a0c4"/>
<path d="M789.5 974.0 V951.5 H793.5 V974.0" fill="none" stroke="#1f6e9c"/>
<rect x="793.5" y="947.5" width="5.0" height="26.5" fill="#57a0c4"/>
<path d="M793.5 974.0 V947.5 H798.5 V974.0" fill="none" stroke="#1f6e9c"/>
<rect x="798.5" y="949.5" width="5.0" height="24.5" fill="#57a0c4"/>
<path d="M798.5 974.0 V949.5 H803.5 V974.0" fill="none" stroke="#1f6e9c"/>
<rect x="803.5" y="950.5" width="5.0" height="23.5" fill="#57a0c4"/>
<path d="M803.5 974.0 V950.5 H808.5 V974.0" fill="none" stroke="#1f6e9c"/>
<rect x="808.5" y="950.5" width="5.0" height="23.5" fill="#57a0c4"/>
<path d="M808.5 974.0 V950.5 H813.5 V974.0" fill="none" stroke="#1f6e9c"/>
<rect x="813.5" y="955.5" width="5.0" height="18.5" fill="#57a0c4"/>
<path d="M813.5 974.0 V955.5 H818.5 V974.0" fill="none" stroke="#1f6e9c"/>
<rect x="818.5" y="958.5" width="4.0" height="15.5" fill="#57a0c4"/>
<path d="M818.5 974.0 V958.5 H822.5 V974.0" fill="none" stroke="#1f6e9c"/>
<rect x="822.5" y="959.5" width="5.0" height="14.5" fill="#57a0c4"/>
<path d="M822.5 974.0 V959.5 H827.5 V974.0" fill="none" stroke="#1f6e9c"/>
</g>
<polygon points="790.1,75.5 791.1,73.5 796,72.3 798.5,75.5" fill="#5d7a33"/>
<polyline points="17,96 18.4,94.5 23.3,107.4 28.1,103.6 32.9,92.4 37.7,92.3 42.6,99.3 47.4,94.5 52.2,96.6 57.1,102.2 61.9,99.6 66.7,106.2 71.6,100.5 76.4,95.4 81.2,85.6 86,90.2 90.9,87.1 95.7,84.5 100.5,87.1 105.4,87.3 110.2,94.5 115,91.4 119.8,94.5 124.7,89.3 129.5,86.4 134.3,91.1 139.2,84.5 144,87.3 148.8,85.6 153.7,92.3 158.5,96.2 163.3,105.3 168.1,103.6 173,109.9 177.8,111.3 182.6,105.3 187.5,101.4 192.3,92.3 197.1,94.1 202,97.1 206.8,104.3 211.6,92.4 216.4,90.2 221.3,83.3 226.1,84.2 230.9,82.8 235.8,81.3 240.6,85.9 245.4,91.9 250.2,99.6 255.1,99.6 259.9,91.4 264.7,92.3 269.6,80.4 274.4,88.1 279.2,88.5 284.1,94.1 288.9,91.4 293.7,119.4 298.5,129.2 303.4,128 308.2,127.1 313,117.7 317.9,116 322.7,107.4 327.5,106.2 332.3,105.1 337.2,101.4 342,104.5 346.8,102.2 351.7,104.5 356.5,93.1 361.3,94.1 366.2,100.5 371,98.3 375.8,102.7 380.6,105.1 385.5,107.4 390.3,111.3 395.1,106.2 400,97.4 404.8,106.2 409.6,106.2 414.4,102.2 419.3,103.1 424.1,99.3 428.9,108.6 433.8,103.6 438.6,107.4 443.4,105.7 448.3,97.9 453.1,92.8 457.9,99.3 462.7,94.5 467.6,97.9 472.4,101.4 477.2,96.2 482.1,101 486.9,91.5 491.7,88.1 496.6,86.4 501.4,79.5 506.2,76.9 511,74.3 515.9,76.1 520.7,79.5 525.5,81.2 530.4,82.9 535.2,83.8 540,79.5 544.8,84.6 549.7,91.5 554.5,90.7 559.3,94.1 564.2,91.5 569,89.8 573.8,97 578.7,94.9 583.5,97.2 588.3,89.8 593.1,86.4 598,85.5 602.8,88.1 607.6,95.3 612.5,89.8 617.3,79.5 622.1,82.9 626.9,86.7 631.8,87.2 636.6,85.5 641.4,85.2 646.3,79.5 651.1,76.4 655.9,76.4 660.8,82.1 665.6,94.1 670.4,95.3 675.2,95.3 680.1,109.5 684.9,112.1 689.7,108.3 694.6,103.9 699.4,99.2 704.2,98.4 709,92.4 713.9,91.2 718.7,102.2 723.5,100.6 728.4,92.4 733.2,99.2 738,99.6 742.9,98.7 747.7,108.3 752.5,101.8 757.3,98.4 762.2,90.3 767,95.3 771.8,94.6 776.7,94.3 781.5,88.4 786.3,78.6 791.1,73.5 796,72.3 800.8,79.5 805.6,76.9 810.5,74.3 815.3,83.3 820.1,80.4 825,77.3" fill="none" stroke="#111" stroke-width="1.1" stroke-linejoin="round" />
<polyline points="17,794.5 18.4,790.7 23.3,786.7 28.1,794.6 32.9,804.9 37.7,801 42.6,790.7 47.4,781.2 52.2,780.7 57.1,784.6 61.9,792.4 66.7,807 71.6,819.8 76.4,825 81.2,812.1 86,794.9 90.9,779.5 95.7,773 100.5,770.6 105.4,771.2 110.2,774.3 115,779.5 119.8,786 124.7,786.4 129.5,784.3 134.3,780.7 139.2,780.4 144,787.2 148.8,792.4 153.7,801 158.5,808.7 163.3,825 168.1,840.4 173,855.9 177.8,864 182.6,867.9 187.5,862.8 192.3,849.9 197.1,832.7 202,816.4 206.8,811.8 211.6,810.1 216.4,806.1 221.3,791.5 226.1,776.9 230.9,767.5 235.8,765.8 240.6,766.6 245.4,770 250.2,780.4 255.1,795.3 259.9,807.3 264.7,810.4 269.6,800.1 274.4,788.9 279.2,779.8 284.1,785.5 288.9,794.1 293.7,811.3 298.5,829.3 303.4,853.3 308.2,867.9 313,872.6 317.9,866.2 322.7,855.9 327.5,845.6 332.3,835.3 337.2,828.4 342,822.9 346.8,818.6 351.7,815.5 356.5,808.7 361.3,795.8 366.2,778.6 371,769.5 375.8,770.6 380.6,779.1 385.5,793.2 390.3,813 395.1,834.8 400,844.4 404.8,842.2 409.6,836.2 414.4,838.7 419.3,841.3 424.1,839.6 428.9,837.5 433.8,837.5 438.6,846.8 443.4,849.9 448.3,846.5 453.1,825 457.9,800.1 462.7,782.1 467.6,779.5 472.4,782.1 477.2,788.1 482.1,793.2 486.9,790.7 491.7,785 496.6,773 501.4,768.3 506.2,765.4 511,766.1 515.9,764.9 520.7,764.9 525.5,768 530.4,771.8 535.2,774 540,774.3 544.8,772.3 549.7,773.5 554.5,782.9 559.3,796.3 564.2,807.3 569,813.8 573.8,818.1 578.7,823.3 583.5,831.9 588.3,833.6 593.1,828.4 598,813 602.8,802.7 607.6,800.1 612.5,797.5 617.3,790.7 622.1,778.6 626.9,773.5 631.8,781.2 636.6,791.5 641.4,795.3 646.3,790.7 651.1,781.2 655.9,770 660.8,765.8 665.6,770.6 670.4,784.3 675.2,801.5 680.1,819.8 684.9,839.2 689.7,858.5 694.6,865.3 699.4,861.9 704.2,851.3 709,839.6 713.9,828.4 718.7,822.1 723.5,821.2 728.4,820.4 733.2,814.2 738,803.9 742.9,796.7 747.7,799.8 752.5,807.3 757.3,815.5 762.2,810.7 767,801 771.8,789.8 776.7,787.7 781.5,782.9 786.3,778.1 791.1,767.8 796,761.5 800.8,762.3 805.6,769.5 810.5,774 815.3,776.6 820.1,776.6 825,776.1" fill="none" stroke="#f00" stroke-width="1.1" stroke-linejoin="round" />
<polyline points="17,780.4 18.4,779.1 23.3,794.9 28.1,810.7 32.9,807 37.7,785.5 42.6,778.6 47.4,780.4 52.2,783.8 57.1,789.8 61.9,805.2 66.7,826.4 71.6,828.4 76.4,815.5 81.2,789.8 86,776.9 90.9,770.6 95.7,771.4 100.5,769.5 105.4,772.6 110.2,782.1 115,784.3 119.8,791.2 124.7,784.3 129.5,777.4 134.3,780.4 139.2,783.3 144,798 148.8,795.8 153.7,809.5 158.5,820.7 163.3,845.6 168.1,855 173,867.4 177.8,869.1 182.6,867.9 187.5,854.2 192.3,829.3 197.1,815.5 202,805.6 206.8,816.9 211.6,808.7 216.4,794.9 221.3,770.6 226.1,765.4 230.9,766.6 235.8,765.4 240.6,767.5 245.4,776.4 250.2,795.8 255.1,813.5 259.9,813.5 264.7,804.4 269.6,781.6 274.4,779.8 279.2,778.6 284.1,798.4 288.9,802.7 293.7,831.9 298.5,852.5 303.4,876.5 308.2,873.9 313,866.2 317.9,857.6 322.7,843.9 327.5,835 332.3,827.6 337.2,822.4 342,819.3 346.8,814.2 351.7,814.7 356.5,795.8 361.3,776.9 366.2,763.5 371,767.8 375.8,779.5 380.6,788.6 385.5,812.1 390.3,839.2 395.1,854.2 400,839.2 404.8,833.6 409.6,835.8 414.4,847.3 419.3,843 424.1,828.9 428.9,841.3 433.8,841.3 438.6,858.5 443.4,851.6 448.3,829.3 453.1,793.2 457.9,778.1 462.7,775.5 467.6,785.2 472.4,787.2 477.2,792.4 482.1,799.2 486.9,780.9 491.7,775.7 496.6,762.3 501.4,766.6 506.2,767.5 511,764.4 515.9,763.2 520.7,767.5 525.5,772.3 530.4,776.4 535.2,775.2 540,770.6 544.8,769.5 549.7,780.4 554.5,795.8 559.3,812.1 564.2,815 569,814.2 573.8,823.3 578.7,828.4 583.5,842.2 588.3,828.4 593.1,813.8 598,797.5 602.8,796.7 607.6,805.2 612.5,792.4 617.3,776.1 622.1,765.8 626.9,782.9 631.8,796.3 636.6,797.5 641.4,794.1 646.3,781.2 651.1,770 655.9,760.6 660.8,765.4 665.6,784.6 670.4,801 675.2,817.3 680.1,839.6 684.9,860.2 689.7,873.1 694.6,861.9 699.4,849 704.2,838.7 709,827.6 713.9,817.8 718.7,820.7 723.5,824.1 728.4,816.4 733.2,801.8 738,792.4 742.9,795.8 747.7,810.1 752.5,815.5 757.3,821 762.2,796.3 767,788.9 771.8,782.4 776.7,788.1 781.5,776.1 786.3,765.8 791.1,756.3 796,761.5 800.8,769.5 805.6,777.3 810.5,775.5 815.3,777.3 820.1,776.6 825,775.5" fill="none" stroke="#000" stroke-width="1.7" stroke-linejoin="round" />
<polyline points="17,1004.6 18.4,1003.5 23.3,1001.4 28.1,998.3 32.9,994.9 37.7,991.1 42.6,988 47.4,984.9 52.2,981.5 57.1,979.4 61.9,977.4 66.7,976.3 71.6,976.3 76.4,974.6 81.2,972.6 86,969.5 90.9,964.8 95.7,960.5 100.5,957.1 105.4,954.2 110.2,952 115,949.4 119.8,948.2 124.7,947.2 129.5,946 134.3,944.8 139.2,943.4 144,942.2 148.8,940.5 153.7,940.3 158.5,940.3 163.3,941.3 168.1,943.4 173,947.7 177.8,952.3 182.6,956.3 187.5,959.2 192.3,960.9 197.1,961.4 202,961.8 206.8,962.6 211.6,962.6 216.4,961.8 221.3,959.2 226.1,956.8 230.9,953.3 235.8,949.9 240.6,947.2 245.4,945.4 250.2,944.6 255.1,944.6 259.9,944.6 264.7,944.6 269.6,943.4 274.4,942.2 279.2,941.1 284.1,940.3 288.9,940.3 293.7,944.2 298.5,952.8 303.4,963.1 308.2,975.7 313,986.3 317.9,994.9 322.7,1000.6 327.5,1004 332.3,1007.3 337.2,1007.4 342,1007.3 346.8,1006.1 351.7,1004.3 356.5,1001.8 361.3,998 366.2,994 371,990.9 375.8,988 380.6,986.3 385.5,985.4 390.3,985.8 395.1,986 400,985.4 404.8,985.1 409.6,985.1 414.4,984.6 419.3,984.6 424.1,983.7 428.9,983.4 433.8,983.4 438.6,984.2 443.4,984.2 448.3,983.7 453.1,982.5 457.9,980.3 462.7,978.2 467.6,976 472.4,974.3 477.2,973.4 482.1,972.2 486.9,969.1 491.7,966 496.6,962.6 501.4,957.5 506.2,951.1 511,944.8 515.9,936.5 520.7,930 525.5,925.4 530.4,921.4 535.2,918 540,914.5 544.8,912.1 549.7,911.3 554.5,911.6 559.3,913 564.2,914.2 569,915.9 573.8,918.5 578.7,921.4 583.5,924.1 588.3,926.2 593.1,927.9 598,929.6 602.8,931 607.6,932.6 612.5,933.4 617.3,931.7 622.1,929.6 626.9,927.6 631.8,925.4 636.6,924 641.4,922.3 646.3,920.5 651.1,918.5 655.9,915 660.8,912.5 665.6,912.5 670.4,913.3 675.2,915 680.1,919.3 684.9,927.1 689.7,933.9 694.6,939.1 699.4,943.7 704.2,947.2 709,949.4 713.9,950.8 718.7,952.5 723.5,954.2 728.4,955.1 733.2,955.9 738,957.1 742.9,958.5 747.7,960.5 752.5,962.3 757.3,963.5 762.2,963.5 767,962.6 771.8,962.3 776.7,961.1 781.5,959.2 786.3,955.9 791.1,949.4 796,941.7 800.8,935.1 805.6,929.3 810.5,924.5 815.3,920.2 820.1,917.1 825,913.3" fill="none" stroke="#f00" stroke-width="1.1" stroke-linejoin="round" />
<polyline points="17,993.7 18.4,991.8 23.3,991.8 28.1,990.1 32.9,982 37.7,976.3 42.6,975.1 47.4,971.4 52.2,969.5 57.1,970.3 61.9,970.5 66.7,972.9 71.6,972.9 76.4,970 81.2,961.4 86,955.4 90.9,948.9 95.7,944.2 100.5,941.7 105.4,940.3 110.2,942.2 115,941.3 119.8,943.4 124.7,942.2 129.5,940.5 134.3,941.1 139.2,937.4 144,936.2 148.8,935.3 153.7,937.4 158.5,941.1 163.3,948.5 168.1,954.5 173,963.1 177.8,969.1 182.6,971.4 187.5,970.9 192.3,967.1 197.1,964.5 202,963.6 206.8,966.2 211.6,962.6 216.4,957.1 221.3,951.1 226.1,945.1 230.9,939.9 235.8,936.5 240.6,935.7 245.4,936.5 250.2,940.8 255.1,945.1 259.9,945.1 264.7,945.1 269.6,938.2 274.4,936.2 279.2,936.2 284.1,937.9 288.9,939.9 293.7,960.5 298.5,986.3 303.4,1005.2 308.2,1019.8 313,1026.1 317.9,1029.2 322.7,1025.8 327.5,1020.6 332.3,1015.5 337.2,1009.5 342,1005.2 346.8,1001.4 351.7,999.2 356.5,991.1 361.3,982.9 366.2,980.8 371,978.6 375.8,977.4 380.6,979.4 385.5,982.5 390.3,986.3 395.1,986.3 400,982.5 404.8,983.7 409.6,985.4 414.4,983.7 419.3,983.4 424.1,981.7 428.9,983.4 433.8,983.4 438.6,985.4 443.4,985.4 448.3,981.5 453.1,975.1 457.9,972.6 462.7,970 467.6,968.6 472.4,969.1 477.2,967.9 482.1,968.3 486.9,958 491.7,952.3 496.6,948.2 501.4,936.5 506.2,926.2 511,916.8 515.9,909 520.7,907 525.5,905.3 530.4,905.3 535.2,905.3 540,901.7 544.8,902.7 549.7,908.2 554.5,912.5 559.3,918 564.2,920.2 569,921.6 573.8,927.6 578.7,931.7 583.5,936 588.3,936.2 593.1,935.3 598,935.3 602.8,936.5 607.6,939.1 612.5,935.1 617.3,924.1 622.1,919.9 626.9,919.3 631.8,919.3 636.6,917.3 641.4,917.1 646.3,912.5 651.1,907.3 655.9,903 660.8,903 665.6,909.9 670.4,915.9 675.2,921.9 680.1,935.7 684.9,951.1 689.7,958 694.6,961.1 699.4,962.3 704.2,962.3 709,959.7 713.9,957.5 718.7,960.2 723.5,961.4 728.4,958.5 733.2,960.2 738,961.1 742.9,963.1 747.7,968.3 752.5,969.5 757.3,968.3 762.2,962.6 767,960 771.8,958.3 776.7,957.1 781.5,952 786.3,942.5 791.1,928.8 796,916.8 800.8,911.6 805.6,907.3 810.5,902.2 815.3,903.4 820.1,902.2 825,898.4" fill="none" stroke="#000" stroke-width="1.7" stroke-linejoin="round" />
<g clip-path="url(#cp1)"><g shape-rendering="crispEdges">
<line x1="18.5" y1="478" x2="18.5" y2="499" stroke="#000"/>
<rect x="16" y="481" width="5" height="16" fill="#000"/>
<line x1="23.5" y1="520" x2="23.5" y2="531" stroke="#000"/>
<rect x="21" y="527" width="5" height="2" fill="#000"/>
<line x1="28.5" y1="518" x2="28.5" y2="519" stroke="#000"/>
<line x1="28.5" y1="530" x2="28.5" y2="531" stroke="#000"/>
<rect x="26.5" y="519.5" width="4" height="10" fill="none" stroke="#000"/>
<line x1="32.5" y1="485" x2="32.5" y2="486" stroke="#000"/>
<line x1="32.5" y1="499" x2="32.5" y2="507" stroke="#000"/>
<rect x="30.5" y="486.5" width="4" height="12" fill="none" stroke="#000"/>
<line x1="37.5" y1="477" x2="37.5" y2="488" stroke="#000"/>
<rect x="35" y="481" width="5" height="7" fill="#000"/>
<line x1="42.5" y1="497" x2="42.5" y2="505" stroke="#000"/>
<line x1="42.5" y1="508" x2="42.5" y2="510" stroke="#000"/>
<rect x="40.5" y="505.5" width="4" height="2" fill="none" stroke="#000"/>
<line x1="47.5" y1="488" x2="47.5" y2="489" stroke="#000"/>
<line x1="47.5" y1="497" x2="47.5" y2="498" stroke="#000"/>
<rect x="45.5" y="489.5" width="4" height="7" fill="none" stroke="#000"/>
<line x1="52.5" y1="490" x2="52.5" y2="493" stroke="#000"/>
<line x1="52.5" y1="498" x2="52.5" y2="502" stroke="#000"/>
<rect x="50.5" y="493.5" width="4" height="4" fill="none" stroke="#000"/>
<line x1="57.5" y1="510" x2="57.5" y2="510" stroke="#000"/>
<line x1="57.5" y1="519" x2="57.5" y2="524" stroke="#000"/>
<rect x="55.5" y="510.5" width="4" height="8" fill="none" stroke="#000"/>
<line x1="61.5" y1="494" x2="61.5" y2="504" stroke="#000"/>
<rect x="59" y="498" width="5" height="5" fill="#000"/>
<line x1="66.5" y1="511" x2="66.5" y2="537" stroke="#000"/>
<rect x="64" y="519" width="5" height="3" fill="#000"/>
<line x1="71.5" y1="507" x2="71.5" y2="509" stroke="#000"/>
<line x1="71.5" y1="519" x2="71.5" y2="523" stroke="#000"/>
<rect x="69.5" y="509.5" width="4" height="9" fill="none" stroke="#000"/>
<line x1="76.5" y1="482" x2="76.5" y2="490" stroke="#000"/>
<line x1="76.5" y1="493" x2="76.5" y2="496" stroke="#000"/>
<rect x="74.5" y="490.5" width="4" height="2" fill="none" stroke="#000"/>
<line x1="81.5" y1="449" x2="81.5" y2="455" stroke="#000"/>
<line x1="81.5" y1="460" x2="81.5" y2="465" stroke="#000"/>
<rect x="79.5" y="455.5" width="4" height="4" fill="none" stroke="#000"/>
<line x1="85.5" y1="450" x2="85.5" y2="472" stroke="#000"/>
<rect x="83" y="453" width="5" height="15" fill="#000"/>
<line x1="90.5" y1="450" x2="90.5" y2="458" stroke="#000"/>
<line x1="90.5" y1="463" x2="90.5" y2="474" stroke="#000"/>
<rect x="88.5" y="458.5" width="4" height="4" fill="none" stroke="#000"/>
<line x1="95.5" y1="435" x2="95.5" y2="445" stroke="#000"/>
<line x1="95.5" y1="451" x2="95.5" y2="453" stroke="#000"/>
<rect x="93.5" y="445.5" width="4" height="5" fill="none" stroke="#000"/>
<line x1="100.5" y1="439" x2="100.5" y2="454" stroke="#000"/>
<rect x="98" y="447" width="5" height="6" fill="#000"/>
<line x1="105.5" y1="453" x2="105.5" y2="471" stroke="#000"/>
<rect x="103" y="452" width="5" height="3" fill="#000"/>
<line x1="110.5" y1="436" x2="110.5" y2="469" stroke="#000"/>
<rect x="108" y="443" width="5" height="25" fill="#000"/>
<line x1="114.5" y1="452" x2="114.5" y2="463" stroke="#000"/>
<rect x="112" y="457" width="5" height="4" fill="#000"/>
<line x1="119.5" y1="461" x2="119.5" y2="466" stroke="#000"/>
<line x1="119.5" y1="471" x2="119.5" y2="473" stroke="#000"/>
<rect x="117.5" y="466.5" width="4" height="4" fill="none" stroke="#000"/>
<line x1="124.5" y1="446" x2="124.5" y2="452" stroke="#000"/>
<line x1="124.5" y1="457" x2="124.5" y2="461" stroke="#000"/>
<rect x="122.5" y="452.5" width="4" height="4" fill="none" stroke="#000"/>
<line x1="129.5" y1="442" x2="129.5" y2="442" stroke="#000"/>
<line x1="129.5" y1="457" x2="129.5" y2="460" stroke="#000"/>
<rect x="127.5" y="442.5" width="4" height="14" fill="none" stroke="#000"/>
<line x1="134.5" y1="408" x2="134.5" y2="456" stroke="#000"/>
<rect x="132" y="410" width="5" height="42" fill="#000"/>
<line x1="139.5" y1="426" x2="139.5" y2="428" stroke="#000"/>
<line x1="139.5" y1="439" x2="139.5" y2="444" stroke="#000"/>
<rect x="137.5" y="428.5" width="4" height="10" fill="none" stroke="#000"/>
<line x1="143.5" y1="433" x2="143.5" y2="443" stroke="#000"/>
<rect x="141" y="434" width="5" height="3" fill="#000"/>
<line x1="148.5" y1="420" x2="148.5" y2="433" stroke="#000"/>
<rect x="146" y="426" width="5" height="4" fill="#000"/>
<line x1="153.5" y1="427" x2="153.5" y2="446" stroke="#000"/>
<rect x="151" y="426" width="5" height="19" fill="#000"/>
<line x1="158.5" y1="445" x2="158.5" y2="462" stroke="#000"/>
<rect x="156" y="447" width="5" height="6" fill="#000"/>
<line x1="163.5" y1="456" x2="163.5" y2="489" stroke="#000"/>
<rect x="161" y="459" width="5" height="18" fill="#000"/>
<line x1="168.5" y1="465" x2="168.5" y2="470" stroke="#000"/>
<line x1="168.5" y1="477" x2="168.5" y2="483" stroke="#000"/>
<rect x="166.5" y="470.5" width="4" height="6" fill="none" stroke="#000"/>
<line x1="172.5" y1="471" x2="172.5" y2="493" stroke="#000"/>
<rect x="170" y="472" width="5" height="20" fill="#000"/>
<line x1="177.5" y1="492" x2="177.5" y2="495" stroke="#000"/>
<line x1="177.5" y1="500" x2="177.5" y2="505" stroke="#000"/>
<rect x="175.5" y="495.5" width="4" height="4" fill="none" stroke="#000"/>
<line x1="182.5" y1="470" x2="182.5" y2="484" stroke="#000"/>
<rect x="180" y="476" width="5" height="5" fill="#000"/>
<line x1="187.5" y1="464" x2="187.5" y2="484" stroke="#000"/>
<rect x="185" y="468" width="5" height="3" fill="#000"/>
<line x1="192.5" y1="443" x2="192.5" y2="443" stroke="#000"/>
<line x1="192.5" y1="466" x2="192.5" y2="466" stroke="#000"/>
<rect x="190.5" y="443.5" width="4" height="22" fill="none" stroke="#000"/>
<line x1="197.5" y1="441" x2="197.5" y2="448" stroke="#000"/>
<line x1="197.5" y1="454" x2="197.5" y2="454" stroke="#000"/>
<rect x="195.5" y="448.5" width="4" height="5" fill="none" stroke="#000"/>
<line x1="201.5" y1="448" x2="201.5" y2="455" stroke="#000"/>
<line x1="201.5" y1="460" x2="201.5" y2="469" stroke="#000"/>
<rect x="199.5" y="455.5" width="4" height="4" fill="none" stroke="#000"/>
<line x1="206.5" y1="456" x2="206.5" y2="477" stroke="#000"/>
<rect x="204" y="456" width="5" height="18" fill="#000"/>
<line x1="211.5" y1="438" x2="211.5" y2="440" stroke="#000"/>
<line x1="211.5" y1="456" x2="211.5" y2="456" stroke="#000"/>
<rect x="209.5" y="440.5" width="4" height="15" fill="none" stroke="#000"/>
<line x1="216.5" y1="426" x2="216.5" y2="431" stroke="#000"/>
<line x1="216.5" y1="438" x2="216.5" y2="440" stroke="#000"/>
<rect x="214.5" y="431.5" width="4" height="6" fill="none" stroke="#000"/>
<line x1="221.5" y1="398" x2="221.5" y2="407" stroke="#000"/>
<line x1="221.5" y1="431" x2="221.5" y2="433" stroke="#000"/>
<rect x="219.5" y="407.5" width="4" height="23" fill="none" stroke="#000"/>
<line x1="226.5" y1="398" x2="226.5" y2="416" stroke="#000"/>
<rect x="224" y="398" width="5" height="12" fill="#000"/>
<line x1="230.5" y1="406" x2="230.5" y2="406" stroke="#000"/>
<line x1="230.5" y1="422" x2="230.5" y2="422" stroke="#000"/>
<rect x="228.5" y="406.5" width="4" height="15" fill="none" stroke="#000"/>
<line x1="235.5" y1="389" x2="235.5" y2="403" stroke="#000"/>
<rect x="233" y="390" width="5" height="9" fill="#000"/>
<line x1="240.5" y1="400" x2="240.5" y2="406" stroke="#000"/>
<line x1="240.5" y1="409" x2="240.5" y2="417" stroke="#000"/>
<rect x="238.5" y="406.5" width="4" height="2" fill="none" stroke="#000"/>
<line x1="245.5" y1="417" x2="245.5" y2="418" stroke="#000"/>
<line x1="245.5" y1="427" x2="245.5" y2="428" stroke="#000"/>
<rect x="243.5" y="418.5" width="4" height="8" fill="none" stroke="#000"/>
<line x1="250.5" y1="429" x2="250.5" y2="450" stroke="#000"/>
<rect x="248" y="429" width="5" height="9" fill="#000"/>
<line x1="255.5" y1="428" x2="255.5" y2="442" stroke="#000"/>
<rect x="253" y="431" width="5" height="8" fill="#000"/>
<line x1="259.5" y1="408" x2="259.5" y2="417" stroke="#000"/>
<rect x="257" y="414" width="5" height="2" fill="#000"/>
<line x1="264.5" y1="408" x2="264.5" y2="419" stroke="#000"/>
<rect x="262" y="410" width="5" height="8" fill="#000"/>
<line x1="269.5" y1="372" x2="269.5" y2="374" stroke="#000"/>
<line x1="269.5" y1="402" x2="269.5" y2="406" stroke="#000"/>
<rect x="267.5" y="374.5" width="4" height="27" fill="none" stroke="#000"/>
<line x1="274.5" y1="372" x2="274.5" y2="398" stroke="#000"/>
<rect x="272" y="375" width="5" height="21" fill="#000"/>
<line x1="279.5" y1="393" x2="279.5" y2="394" stroke="#000"/>
<line x1="279.5" y1="405" x2="279.5" y2="416" stroke="#000"/>
<rect x="277.5" y="394.5" width="4" height="10" fill="none" stroke="#000"/>
<line x1="284.5" y1="396" x2="284.5" y2="416" stroke="#000"/>
<rect x="282" y="396" width="5" height="13" fill="#000"/>
<line x1="288.5" y1="391" x2="288.5" y2="398" stroke="#000"/>
<line x1="288.5" y1="404" x2="288.5" y2="404" stroke="#000"/>
<rect x="286.5" y="398.5" width="4" height="5" fill="none" stroke="#000"/>
<line x1="293.5" y1="471" x2="293.5" y2="499" stroke="#000"/>
<rect x="291" y="492" width="5" height="7" fill="#000"/>
<line x1="298.5" y1="528" x2="298.5" y2="580" stroke="#000"/>
<rect x="296" y="528" width="5" height="38" fill="#000"/>
<line x1="303.5" y1="538" x2="303.5" y2="569" stroke="#000"/>
<rect x="301" y="554" width="5" height="7" fill="#000"/>
<line x1="308.5" y1="540" x2="308.5" y2="568" stroke="#000"/>
<rect x="306" y="545" width="5" height="17" fill="#000"/>
<line x1="312.5" y1="525" x2="312.5" y2="530" stroke="#000"/>
<line x1="312.5" y1="547" x2="312.5" y2="552" stroke="#000"/>
<rect x="310.5" y="530.5" width="4" height="16" fill="none" stroke="#000"/>
<line x1="317.5" y1="520" x2="317.5" y2="524" stroke="#000"/>
<line x1="317.5" y1="530" x2="317.5" y2="541" stroke="#000"/>
<rect x="315.5" y="524.5" width="4" height="5" fill="none" stroke="#000"/>
<line x1="322.5" y1="489" x2="322.5" y2="494" stroke="#000"/>
<line x1="322.5" y1="510" x2="322.5" y2="512" stroke="#000"/>
<rect x="320.5" y="494.5" width="4" height="15" fill="none" stroke="#000"/>
<line x1="327.5" y1="484" x2="327.5" y2="487" stroke="#000"/>
<line x1="327.5" y1="499" x2="327.5" y2="506" stroke="#000"/>
<rect x="325.5" y="487.5" width="4" height="11" fill="none" stroke="#000"/>
<line x1="332.5" y1="484" x2="332.5" y2="485" stroke="#000"/>
<line x1="332.5" y1="488" x2="332.5" y2="494" stroke="#000"/>
<rect x="330.5" y="485.5" width="4" height="2" fill="none" stroke="#000"/>
<line x1="337.5" y1="464" x2="337.5" y2="475" stroke="#000"/>
<rect x="335" y="468" width="5" height="5" fill="#000"/>
<line x1="341.5" y1="475" x2="341.5" y2="491" stroke="#000"/>
<rect x="339" y="480" width="5" height="2" fill="#000"/>
<line x1="346.5" y1="464" x2="346.5" y2="482" stroke="#000"/>
<rect x="344" y="466" width="5" height="8" fill="#000"/>
<line x1="351.5" y1="460" x2="351.5" y2="481" stroke="#000"/>
<rect x="349" y="470" width="5" height="10" fill="#000"/>
<line x1="356.5" y1="442" x2="356.5" y2="444" stroke="#000"/>
<line x1="356.5" y1="468" x2="356.5" y2="469" stroke="#000"/>
<rect x="354.5" y="444.5" width="4" height="23" fill="none" stroke="#000"/>
<line x1="361.5" y1="444" x2="361.5" y2="445" stroke="#000"/>
<line x1="361.5" y1="454" x2="361.5" y2="460" stroke="#000"/>
<rect x="359.5" y="445.5" width="4" height="8" fill="none" stroke="#000"/>
<line x1="366.5" y1="462" x2="366.5" y2="463" stroke="#000"/>
<line x1="366.5" y1="468" x2="366.5" y2="474" stroke="#000"/>
<rect x="364.5" y="463.5" width="4" height="4" fill="none" stroke="#000"/>
<line x1="370.5" y1="459" x2="370.5" y2="459" stroke="#000"/>
<line x1="370.5" y1="464" x2="370.5" y2="473" stroke="#000"/>
<rect x="368.5" y="459.5" width="4" height="4" fill="none" stroke="#000"/>
<line x1="375.5" y1="447" x2="375.5" y2="471" stroke="#000"/>
<rect x="373" y="449" width="5" height="22" fill="#000"/>
<line x1="380.5" y1="474" x2="380.5" y2="487" stroke="#000"/>
<rect x="378" y="479" width="5" height="4" fill="#000"/>
<line x1="385.5" y1="482" x2="385.5" y2="496" stroke="#000"/>
<rect x="383" y="486" width="5" height="2" fill="#000"/>
<line x1="390.5" y1="479" x2="390.5" y2="502" stroke="#000"/>
<rect x="388" y="480" width="5" height="20" fill="#000"/>
<line x1="395.5" y1="483" x2="395.5" y2="495" stroke="#000"/>
<rect x="393" y="483" width="5" height="4" fill="#000"/>
<line x1="399.5" y1="459" x2="399.5" y2="469" stroke="#000"/>
<rect x="397" y="460" width="5" height="2" fill="#000"/>
<line x1="404.5" y1="473" x2="404.5" y2="493" stroke="#000"/>
<rect x="402" y="475" width="5" height="14" fill="#000"/>
<line x1="409.5" y1="477" x2="409.5" y2="491" stroke="#000"/>
<rect x="407" y="483" width="5" height="7" fill="#000"/>
<line x1="414.5" y1="473" x2="414.5" y2="477" stroke="#000"/>
<line x1="414.5" y1="480" x2="414.5" y2="482" stroke="#000"/>
<rect x="412.5" y="477.5" width="4" height="2" fill="none" stroke="#000"/>
<line x1="419.5" y1="477" x2="419.5" y2="489" stroke="#000"/>
<rect x="417" y="478" width="5" height="2" fill="#000"/>
<line x1="424.5" y1="468" x2="424.5" y2="470" stroke="#000"/>
<line x1="424.5" y1="480" x2="424.5" y2="483" stroke="#000"/>
<rect x="422.5" y="470.5" width="4" height="9" fill="none" stroke="#000"/>
<line x1="428.5" y1="487" x2="428.5" y2="497" stroke="#000"/>
<rect x="426" y="489" width="5" height="7" fill="#000"/>
<line x1="433.5" y1="482" x2="433.5" y2="483" stroke="#000"/>
<line x1="433.5" y1="495" x2="433.5" y2="498" stroke="#000"/>
<rect x="431.5" y="483.5" width="4" height="11" fill="none" stroke="#000"/>
<line x1="438.5" y1="491" x2="438.5" y2="493" stroke="#000"/>
<line x1="438.5" y1="499" x2="438.5" y2="502" stroke="#000"/>
<rect x="436.5" y="493.5" width="4" height="5" fill="none" stroke="#000"/>
<line x1="443.5" y1="486" x2="443.5" y2="494" stroke="#000"/>
<rect x="441" y="489" width="5" height="3" fill="#000"/>
<line x1="448.5" y1="465" x2="448.5" y2="465" stroke="#000"/>
<line x1="448.5" y1="488" x2="448.5" y2="488" stroke="#000"/>
<rect x="446.5" y="465.5" width="4" height="22" fill="none" stroke="#000"/>
<line x1="453.5" y1="450" x2="453.5" y2="451" stroke="#000"/>
<line x1="453.5" y1="464" x2="453.5" y2="466" stroke="#000"/>
<rect x="451.5" y="451.5" width="4" height="12" fill="none" stroke="#000"/>
<line x1="457.5" y1="466" x2="457.5" y2="476" stroke="#000"/>
<rect x="455" y="467" width="5" height="4" fill="#000"/>
<line x1="462.5" y1="452" x2="462.5" y2="454" stroke="#000"/>
<line x1="462.5" y1="464" x2="462.5" y2="469" stroke="#000"/>
<rect x="460.5" y="454.5" width="4" height="9" fill="none" stroke="#000"/>
<line x1="467.5" y1="464" x2="467.5" y2="465" stroke="#000"/>
<line x1="467.5" y1="471" x2="467.5" y2="472" stroke="#000"/>
<rect x="465.5" y="465.5" width="4" height="5" fill="none" stroke="#000"/>
<line x1="472.5" y1="465" x2="472.5" y2="473" stroke="#000"/>
<rect x="470" y="465" width="5" height="8" fill="#000"/>
<line x1="477.5" y1="459" x2="477.5" y2="469" stroke="#000"/>
<rect x="475" y="459" width="5" height="3" fill="#000"/>
<line x1="482.5" y1="464" x2="482.5" y2="480" stroke="#000"/>
<rect x="480" y="466" width="5" height="7" fill="#000"/>
<line x1="486.5" y1="413" x2="486.5" y2="414" stroke="#000"/>
<line x1="486.5" y1="440" x2="486.5" y2="444" stroke="#000"/>
<rect x="484.5" y="414.5" width="4" height="25" fill="none" stroke="#000"/>
<line x1="491.5" y1="419" x2="491.5" y2="420" stroke="#000"/>
<line x1="491.5" y1="425" x2="491.5" y2="433" stroke="#000"/>
<rect x="489.5" y="420.5" width="4" height="4" fill="none" stroke="#000"/>
<line x1="496.5" y1="419" x2="496.5" y2="427" stroke="#000"/>
<rect x="494" y="423" width="5" height="2" fill="#000"/>
<line x1="501.5" y1="369" x2="501.5" y2="396" stroke="#000"/>
<rect x="499" y="374" width="5" height="10" fill="#000"/>
<line x1="506.5" y1="362" x2="506.5" y2="378" stroke="#000"/>
<rect x="504" y="364" width="5" height="10" fill="#000"/>
<line x1="510.5" y1="341" x2="510.5" y2="347" stroke="#000"/>
<line x1="510.5" y1="359" x2="510.5" y2="363" stroke="#000"/>
<rect x="508.5" y="347.5" width="4" height="11" fill="none" stroke="#000"/>
<line x1="515.5" y1="348" x2="515.5" y2="362" stroke="#000"/>
<rect x="513" y="349" width="5" height="5" fill="#000"/>
<line x1="520.5" y1="361" x2="520.5" y2="372" stroke="#000"/>
<rect x="518" y="365" width="5" height="2" fill="#000"/>
<line x1="525.5" y1="362" x2="525.5" y2="363" stroke="#000"/>
<line x1="525.5" y1="370" x2="525.5" y2="373" stroke="#000"/>
<rect x="523.5" y="363.5" width="4" height="6" fill="none" stroke="#000"/>
<line x1="530.5" y1="361" x2="530.5" y2="373" stroke="#000"/>
<rect x="528" y="363" width="5" height="4" fill="#000"/>
<line x1="535.5" y1="358" x2="535.5" y2="369" stroke="#000"/>
<rect x="533" y="361" width="5" height="4" fill="#000"/>
<line x1="539.5" y1="331" x2="539.5" y2="336" stroke="#000"/>
<line x1="539.5" y1="341" x2="539.5" y2="348" stroke="#000"/>
<rect x="537.5" y="336.5" width="4" height="4" fill="none" stroke="#000"/>
<line x1="544.5" y1="335" x2="544.5" y2="358" stroke="#000"/>
<rect x="542" y="336" width="5" height="20" fill="#000"/>
<line x1="549.5" y1="375" x2="549.5" y2="385" stroke="#000"/>
<rect x="547" y="377" width="5" height="2" fill="#000"/>
<line x1="554.5" y1="366" x2="554.5" y2="369" stroke="#000"/>
<line x1="554.5" y1="376" x2="554.5" y2="377" stroke="#000"/>
<rect x="552.5" y="369.5" width="4" height="6" fill="none" stroke="#000"/>
<line x1="559.5" y1="381" x2="559.5" y2="382" stroke="#000"/>
<line x1="559.5" y1="386" x2="559.5" y2="405" stroke="#000"/>
<rect x="557.5" y="382.5" width="4" height="3" fill="none" stroke="#000"/>
<line x1="564.5" y1="367" x2="564.5" y2="367" stroke="#000"/>
<line x1="564.5" y1="387" x2="564.5" y2="388" stroke="#000"/>
<rect x="562.5" y="367.5" width="4" height="19" fill="none" stroke="#000"/>
<line x1="568.5" y1="356" x2="568.5" y2="357" stroke="#000"/>
<line x1="568.5" y1="365" x2="568.5" y2="368" stroke="#000"/>
<rect x="566.5" y="357.5" width="4" height="7" fill="none" stroke="#000"/>
<line x1="573.5" y1="373" x2="573.5" y2="385" stroke="#000"/>
<line x1="573.5" y1="388" x2="573.5" y2="389" stroke="#000"/>
<rect x="571.5" y="385.5" width="4" height="2" fill="none" stroke="#000"/>
<line x1="578.5" y1="376" x2="578.5" y2="377" stroke="#000"/>
<line x1="578.5" y1="380" x2="578.5" y2="384" stroke="#000"/>
<rect x="576.5" y="377.5" width="4" height="2" fill="none" stroke="#000"/>
<line x1="583.5" y1="366" x2="583.5" y2="382" stroke="#000"/>
<rect x="581" y="373" width="5" height="9" fill="#000"/>
<line x1="588.5" y1="360" x2="588.5" y2="361" stroke="#000"/>
<line x1="588.5" y1="371" x2="588.5" y2="374" stroke="#000"/>
<rect x="586.5" y="361.5" width="4" height="9" fill="none" stroke="#000"/>
<line x1="593.5" y1="349" x2="593.5" y2="351" stroke="#000"/>
<line x1="593.5" y1="355" x2="593.5" y2="360" stroke="#000"/>
<rect x="591.5" y="351.5" width="4" height="3" fill="none" stroke="#000"/>
<line x1="597.5" y1="355" x2="597.5" y2="355" stroke="#000"/>
<line x1="597.5" y1="370" x2="597.5" y2="372" stroke="#000"/>
<rect x="595.5" y="355.5" width="4" height="14" fill="none" stroke="#000"/>
<line x1="602.5" y1="358" x2="602.5" y2="374" stroke="#000"/>
<rect x="600" y="358" width="5" height="2" fill="#000"/>
<line x1="607.5" y1="365" x2="607.5" y2="372" stroke="#000"/>
<rect x="605" y="367" width="5" height="2" fill="#000"/>
<line x1="612.5" y1="330" x2="612.5" y2="330" stroke="#000"/>
<line x1="612.5" y1="348" x2="612.5" y2="359" stroke="#000"/>
<rect x="610.5" y="330.5" width="4" height="17" fill="none" stroke="#000"/>
<line x1="617.5" y1="275" x2="617.5" y2="277" stroke="#000"/>
<line x1="617.5" y1="306" x2="617.5" y2="307" stroke="#000"/>
<rect x="615.5" y="277.5" width="4" height="28" fill="none" stroke="#000"/>
<line x1="622.5" y1="279" x2="622.5" y2="308" stroke="#000"/>
<rect x="620" y="282" width="5" height="25" fill="#000"/>
<line x1="626.5" y1="301" x2="626.5" y2="325" stroke="#000"/>
<rect x="624" y="303" width="5" height="15" fill="#000"/>
<line x1="631.5" y1="307" x2="631.5" y2="330" stroke="#000"/>
<rect x="629" y="315" width="5" height="3" fill="#000"/>
<line x1="636.5" y1="304" x2="636.5" y2="304" stroke="#000"/>
<line x1="636.5" y1="323" x2="636.5" y2="327" stroke="#000"/>
<rect x="634.5" y="304.5" width="4" height="18" fill="none" stroke="#000"/>
<line x1="641.5" y1="296" x2="641.5" y2="308" stroke="#000"/>
<rect x="639" y="298" width="5" height="9" fill="#000"/>
<line x1="646.5" y1="270" x2="646.5" y2="276" stroke="#000"/>
<line x1="646.5" y1="285" x2="646.5" y2="286" stroke="#000"/>
<rect x="644.5" y="276.5" width="4" height="8" fill="none" stroke="#000"/>
<line x1="651.5" y1="261" x2="651.5" y2="282" stroke="#000"/>
<rect x="649" y="261" width="5" height="2" fill="#000"/>
<line x1="655.5" y1="251" x2="655.5" y2="272" stroke="#000"/>
<rect x="653" y="258" width="5" height="5" fill="#000"/>
<line x1="660.5" y1="270" x2="660.5" y2="272" stroke="#000"/>
<line x1="660.5" y1="279" x2="660.5" y2="284" stroke="#000"/>
<rect x="658.5" y="272.5" width="4" height="6" fill="none" stroke="#000"/>
<line x1="665.5" y1="279" x2="665.5" y2="318" stroke="#000"/>
<rect x="663" y="282" width="5" height="27" fill="#000"/>
<line x1="670.5" y1="306" x2="670.5" y2="318" stroke="#000"/>
<rect x="668" y="309" width="5" height="2" fill="#000"/>
<line x1="675.5" y1="303" x2="675.5" y2="322" stroke="#000"/>
<rect x="673" y="309" width="5" height="2" fill="#000"/>
<line x1="680.5" y1="326" x2="680.5" y2="363" stroke="#000"/>
<rect x="678" y="333" width="5" height="25" fill="#000"/>
<line x1="684.5" y1="363" x2="684.5" y2="364" stroke="#000"/>
<line x1="684.5" y1="367" x2="684.5" y2="373" stroke="#000"/>
<rect x="682.5" y="364.5" width="4" height="2" fill="none" stroke="#000"/>
<line x1="689.5" y1="348" x2="689.5" y2="363" stroke="#000"/>
<rect x="687" y="348" width="5" height="8" fill="#000"/>
<line x1="694.5" y1="340" x2="694.5" y2="341" stroke="#000"/>
<line x1="694.5" y1="344" x2="694.5" y2="347" stroke="#000"/>
<rect x="692.5" y="341.5" width="4" height="2" fill="none" stroke="#000"/>
<line x1="699.5" y1="323" x2="699.5" y2="328" stroke="#000"/>
<line x1="699.5" y1="339" x2="699.5" y2="341" stroke="#000"/>
<rect x="697.5" y="328.5" width="4" height="10" fill="none" stroke="#000"/>
<line x1="704.5" y1="320" x2="704.5" y2="323" stroke="#000"/>
<line x1="704.5" y1="326" x2="704.5" y2="328" stroke="#000"/>
<rect x="702.5" y="323.5" width="4" height="2" fill="none" stroke="#000"/>
<line x1="708.5" y1="296" x2="708.5" y2="317" stroke="#000"/>
<rect x="706" y="300" width="5" height="6" fill="#000"/>
<line x1="713.5" y1="297" x2="713.5" y2="315" stroke="#000"/>
<rect x="711" y="302" width="5" height="2" fill="#000"/>
<line x1="718.5" y1="325" x2="718.5" y2="333" stroke="#000"/>
<rect x="716" y="326" width="5" height="7" fill="#000"/>
<line x1="723.5" y1="321" x2="723.5" y2="324" stroke="#000"/>
<line x1="723.5" y1="331" x2="723.5" y2="336" stroke="#000"/>
<rect x="721.5" y="324.5" width="4" height="6" fill="none" stroke="#000"/>
<line x1="728.5" y1="298" x2="728.5" y2="301" stroke="#000"/>
<line x1="728.5" y1="305" x2="728.5" y2="307" stroke="#000"/>
<rect x="726.5" y="301.5" width="4" height="3" fill="none" stroke="#000"/>
<line x1="733.5" y1="310" x2="733.5" y2="327" stroke="#000"/>
<rect x="731" y="315" width="5" height="6" fill="#000"/>
<line x1="737.5" y1="320" x2="737.5" y2="321" stroke="#000"/>
<line x1="737.5" y1="327" x2="737.5" y2="332" stroke="#000"/>
<rect x="735.5" y="321.5" width="4" height="5" fill="none" stroke="#000"/>
<line x1="742.5" y1="313" x2="742.5" y2="320" stroke="#000"/>
<rect x="740" y="314" width="5" height="5" fill="#000"/>
<line x1="747.5" y1="318" x2="747.5" y2="349" stroke="#000"/>
<rect x="745" y="320" width="5" height="29" fill="#000"/>
<line x1="752.5" y1="317" x2="752.5" y2="318" stroke="#000"/>
<line x1="752.5" y1="334" x2="752.5" y2="333" stroke="#000"/>
<rect x="750.5" y="318.5" width="4" height="15" fill="none" stroke="#000"/>
<line x1="757.5" y1="313" x2="757.5" y2="316" stroke="#000"/>
<line x1="757.5" y1="324" x2="757.5" y2="325" stroke="#000"/>
<rect x="755.5" y="316.5" width="4" height="7" fill="none" stroke="#000"/>
<line x1="762.5" y1="283" x2="762.5" y2="290" stroke="#000"/>
<line x1="762.5" y1="314" x2="762.5" y2="313" stroke="#000"/>
<rect x="760.5" y="290.5" width="4" height="23" fill="none" stroke="#000"/>
<line x1="766.5" y1="290" x2="766.5" y2="314" stroke="#000"/>
<rect x="764" y="302" width="5" height="2" fill="#000"/>
<line x1="771.5" y1="296" x2="771.5" y2="299" stroke="#000"/>
<line x1="771.5" y1="306" x2="771.5" y2="306" stroke="#000"/>
<rect x="769.5" y="299.5" width="4" height="6" fill="none" stroke="#000"/>
<line x1="776.5" y1="295" x2="776.5" y2="300" stroke="#000"/>
<line x1="776.5" y1="312" x2="776.5" y2="317" stroke="#000"/>
<rect x="774.5" y="300.5" width="4" height="11" fill="none" stroke="#000"/>
<line x1="781.5" y1="277" x2="781.5" y2="288" stroke="#000"/>
<rect x="779" y="278" width="5" height="2" fill="#000"/>
<line x1="786.5" y1="237" x2="786.5" y2="237" stroke="#000"/>
<line x1="786.5" y1="284" x2="786.5" y2="284" stroke="#000"/>
<rect x="784.5" y="237.5" width="4" height="46" fill="none" stroke="#000"/>
<line x1="791.5" y1="192" x2="791.5" y2="193" stroke="#000"/>
<line x1="791.5" y1="226" x2="791.5" y2="233" stroke="#000"/>
<rect x="789.5" y="193.5" width="4" height="32" fill="none" stroke="#000"/>
<line x1="795.5" y1="184" x2="795.5" y2="209" stroke="#000"/>
<rect x="793" y="193" width="5" height="10" fill="#000"/>
<line x1="800.5" y1="206" x2="800.5" y2="230" stroke="#000"/>
<rect x="798" y="207" width="5" height="13" fill="#000"/>
<line x1="805.5" y1="191" x2="805.5" y2="222" stroke="#000"/>
<rect x="803" y="200" width="5" height="14" fill="#000"/>
<line x1="810.5" y1="180" x2="810.5" y2="205" stroke="#000"/>
<rect x="808" y="194" width="5" height="4" fill="#000"/>
<line x1="815.5" y1="197" x2="815.5" y2="225" stroke="#000"/>
<rect x="813" y="204" width="5" height="15" fill="#000"/>
<line x1="820.5" y1="203" x2="820.5" y2="207" stroke="#000"/>
<line x1="820.5" y1="212" x2="820.5" y2="213" stroke="#000"/>
<rect x="818.5" y="207.5" width="4" height="4" fill="none" stroke="#000"/>
<line x1="824.5" y1="182" x2="824.5" y2="190" stroke="#000"/>
<line x1="824.5" y1="209" x2="824.5" y2="211" stroke="#000"/>
<rect x="822.5" y="190.5" width="4" height="18" fill="none" stroke="#000"/>
</g>
<polyline points="16.9,475.9 23.7,477.6 30.6,478.9 37.5,482.2 44.3,485.3 51.2,488.2 58.1,491 64.9,493.9 71.8,496.8 78.7,498.2 85.5,499 92.4,499.5 102.7,499.5 111.3,499.2 119.9,497.7 130.2,496.1 140.5,493.9 152.5,491.6 164.5,490.4 173.1,489.6 178,489 186.6,489 195.2,488.3 203.8,487.4 212.3,487.3 219.2,486.6 224.4,484.8 229.5,482.6 238.1,480.4 246.7,476.6 255.3,474 263.9,470.6 270.7,466.3 277.6,462.9 282.7,460.3 287.9,457.7 291.3,457.4 298.2,458.1 306.8,458.9 315.4,460 325.7,460 336,459.1 342.8,458.9 346,458.4 354.6,457.1 363.2,455.3 371.8,455 380.3,456.2 388.9,456.7 397.5,457.9 406.1,457.9 414.7,458.8 423.3,460.2 431.9,461.9 440.4,463.6 449,463.9 457.6,463.1 466.2,462.6 474.8,462.2 483.4,462.2 491.9,461.4 500,459.6 500.5,459.6 509.1,457.9 515.6,456.7 533.3,454.9 544.4,451.6 555.6,449.6 566.7,448.9 583.3,446 597.8,434.4 611.1,427.3 622.2,421.1 633.3,414.4 651.1,404.9 660,398.2 673.3,391.1 684.4,384.9 694,379.4 695.6,380.4 704.3,373.4 716.3,367.4 730.1,360.5 740.4,355.4 750.7,350.8 759.3,345.9 767.9,339.9 778.2,334.8 788.5,327.9 798.8,322.8 809.1,317.6 817.6,313.7 824.5,310.7" fill="none" stroke="#d4143c" stroke-width="2" stroke-linejoin="round" stroke-linecap="round" />
<polyline points="16.9,523.1 20.3,519.1 25.5,517.4 28.9,513.6 32.3,509.3 37.5,505 41.8,503.3 46.9,502 52.1,497.8 56.4,495.6 59.8,497.3 63.2,500.7 68.4,503.7 76.1,504.2 80.4,499 85.5,491.3 90.7,481 95.9,469 101,459.5 105.3,455.2 110.4,457 115.6,455.2 121.6,457.8 128.5,457 134.5,455.6 139.6,450.1 144.8,445.8 149.1,440.7 153.4,438.9 157.7,440.3 162.8,444.9 168,452.7 173.1,463 177.4,472.4 178,471.5 182.8,477.5 187.4,480.4 192.6,475.7 197.7,471.1 202,466.6 207.2,460.3 212.3,454.3 217.5,448.3 222.6,441.4 227.8,434.5 232.1,425.1 235.5,415.7 240.7,410 245.3,407.1 250.1,412.2 255.3,417 259.9,418.7 264.4,421.3 269,417 274.2,412.7 279.3,405.9 284.5,401.1 288.7,398.8 291.3,402.8 294.4,411.4 296.5,425.1 299.1,442.3 301.6,458.6 305.1,476.6 309.4,498.1 313.6,516.1 316.2,529.8 317.9,539.3 323.1,539.3 327.4,527.3 332.5,512.7 337.7,498.1 342.8,489 346,482 352,479.4 356.3,472.5 361.5,466.5 366.6,463.9 371.8,461.4 376,460.5 380.3,462.2 384.6,468.2 390.6,476.8 395.8,480.8 400.1,481.1 404.4,483.7 409.5,485 414.7,482.5 419.8,479.7 424.1,477.7 428.4,482.5 433.6,482.8 438.7,483.7 443.9,485.4 449,482.8 454.2,478.5 459.3,473.9 464.5,468.2 468.8,464.8 473.1,463.1 478.2,463.9 482.5,465.6 485.1,458.8 490.2,451.1 497.1,442.5 502.2,429.6 507.4,414.1 511.7,395.2 514,387.7 519.2,373.9 524.3,365.3 529.5,361.9 534.6,360.2 539.8,358.5 544,358.1 548.3,359.8 553.5,361.1 558.6,363.6 563.8,365 568.9,367.9 573.8,373.1 578.4,373.6 582.7,375.3 587.8,371.9 593,369.6 598.1,367.9 602.4,365 607.6,362.3 611.9,355 617,341.3 622.2,333.6 627.3,325 632.5,315.5 636.8,307.8 641.1,304.9 645.9,304.4 650.5,298.4 655.7,288.9 660.5,280.4 665.1,281.2 670.2,282.1 675.4,287.2 679.7,300.1 682,307.3 685.4,323.6 689.7,334.8 697.5,340.8 704.3,345.6 709.5,335.6 713.8,326.2 718.9,321.1 724.9,316.8 730.1,314.7 733.5,314.2 738.7,316.8 743,318.5 754.1,320.2 767.9,316.8 773,311.6 778.2,303 783.3,293.6 788.5,280.7 791.9,268.7 795.3,254.9 800.5,241.2 805.1,223.9 808.2,215.8 811.1,211.7 816.1,209.4 824.5,208.4" fill="none" stroke="#0a0a8c" stroke-width="2" stroke-linejoin="round" stroke-linecap="round" />
</g>
<rect x="16.5" y="28.5" width="936.0" height="558.0" fill="none" stroke="#a98b92"/>
<rect x="16.5" y="601.5" width="936.0" height="435.0" fill="none" stroke="#a98b92"/>
<line x1="16.5" y1="173.5" x2="952.5" y2="173.5" stroke="#a98b92"/>
<line x1="16.5" y1="746.5" x2="952.5" y2="746.5" stroke="#a98b92"/>
<line x1="16.5" y1="891.5" x2="952.5" y2="891.5" stroke="#a98b92"/>
<line x1="952.5" y1="166.5" x2="954.1" y2="166.5" stroke="#a98b92"/>
<line x1="952.5" y1="159.5" x2="954.1" y2="159.5" stroke="#a98b92"/>
<line x1="952.5" y1="153.5" x2="955.5" y2="153.5" stroke="#a98b92"/>
<line x1="952.5" y1="146.5" x2="954.1" y2="146.5" stroke="#a98b92"/>
<line x1="952.5" y1="140.5" x2="954.1" y2="140.5" stroke="#a98b92"/>
<line x1="952.5" y1="133.5" x2="954.1" y2="133.5" stroke="#a98b92"/>
<line x1="952.5" y1="127.5" x2="955.5" y2="127.5" stroke="#a98b92"/>
<line x1="952.5" y1="120.5" x2="954.1" y2="120.5" stroke="#a98b92"/>
<line x1="952.5" y1="114.5" x2="954.1" y2="114.5" stroke="#a98b92"/>
<line x1="952.5" y1="107.5" x2="954.1" y2="107.5" stroke="#a98b92"/>
<line x1="952.5" y1="101.5" x2="955.5" y2="101.5" stroke="#a98b92"/>
<line x1="952.5" y1="94.5" x2="954.1" y2="94.5" stroke="#a98b92"/>
<line x1="952.5" y1="88.5" x2="954.1" y2="88.5" stroke="#a98b92"/>
<line x1="952.5" y1="81.5" x2="954.1" y2="81.5" stroke="#a98b92"/>
<line x1="952.5" y1="75.5" x2="955.5" y2="75.5" stroke="#a98b92"/>
<line x1="952.5" y1="68.5" x2="954.1" y2="68.5" stroke="#a98b92"/>
<line x1="952.5" y1="62.5" x2="954.1" y2="62.5" stroke="#a98b92"/>
<line x1="952.5" y1="55.5" x2="954.1" y2="55.5" stroke="#a98b92"/>
<line x1="952.5" y1="49.5" x2="955.5" y2="49.5" stroke="#a98b92"/>
<line x1="952.5" y1="43.5" x2="954.1" y2="43.5" stroke="#a98b92"/>
<line x1="952.5" y1="36.5" x2="954.1" y2="36.5" stroke="#a98b92"/>
<text x="956" y="52.3" font-size="10" stroke="#000" stroke-width="0.15">90</text>
<text x="956" y="78.2" font-size="10" stroke="#000" stroke-width="0.15">70</text>
<text x="956" y="104.2" font-size="10" stroke="#000" stroke-width="0.15">50</text>
<text x="956" y="130.2" font-size="10" stroke="#000" stroke-width="0.15">30</text>
<text x="956" y="156.1" font-size="10" stroke="#000" stroke-width="0.15">10</text>
<line x1="952.5" y1="177.5" x2="954.1" y2="177.5" stroke="#a98b92"/>
<line x1="952.5" y1="182.5" x2="954.1" y2="182.5" stroke="#a98b92"/>
<line x1="952.5" y1="188.5" x2="955.5" y2="188.5" stroke="#a98b92"/>
<line x1="952.5" y1="193.5" x2="954.1" y2="193.5" stroke="#a98b92"/>
<line x1="952.5" y1="198.5" x2="954.1" y2="198.5" stroke="#a98b92"/>
<line x1="952.5" y1="203.5" x2="954.1" y2="203.5" stroke="#a98b92"/>
<line x1="952.5" y1="208.5" x2="954.1" y2="208.5" stroke="#a98b92"/>
<line x1="952.5" y1="214.5" x2="955.5" y2="214.5" stroke="#a98b92"/>
<line x1="952.5" y1="219.5" x2="954.1" y2="219.5" stroke="#a98b92"/>
<line x1="952.5" y1="224.5" x2="954.1" y2="224.5" stroke="#a98b92"/>
<line x1="952.5" y1="229.5" x2="954.1" y2="229.5" stroke="#a98b92"/>
<line x1="952.5" y1="234.5" x2="954.1" y2="234.5" stroke="#a98b92"/>
<line x1="952.5" y1="240.5" x2="955.5" y2="240.5" stroke="#a98b92"/>
<line x1="952.5" y1="245.5" x2="954.1" y2="245.5" stroke="#a98b92"/>
<line x1="952.5" y1="250.5" x2="954.1" y2="250.5" stroke="#a98b92"/>
<line x1="952.5" y1="255.5" x2="954.1" y2="255.5" stroke="#a98b92"/>
<line x1="952.5" y1="260.5" x2="954.1" y2="260.5" stroke="#a98b92"/>
<line x1="952.5" y1="266.5" x2="955.5" y2="266.5" stroke="#a98b92"/>
<line x1="952.5" y1="271.5" x2="954.1" y2="271.5" stroke="#a98b92"/>
<line x1="952.5" y1="276.5" x2="954.1" y2="276.5" stroke="#a98b92"/>
<line x1="952.5" y1="281.5" x2="954.1" y2="281.5" stroke="#a98b92"/>
<line x1="952.5" y1="286.5" x2="954.1" y2="286.5" stroke="#a98b92"/>
<line x1="952.5" y1="292.5" x2="955.5" y2="292.5" stroke="#a98b92"/>
<line x1="952.5" y1="297.5" x2="954.1" y2="297.5" stroke="#a98b92"/>
<line x1="952.5" y1="302.5" x2="954.1" y2="302.5" stroke="#a98b92"/>
<line x1="952.5" y1="307.5" x2="954.1" y2="307.5" stroke="#a98b92"/>
<line x1="952.5" y1="312.5" x2="954.1" y2="312.5" stroke="#a98b92"/>
<line x1="952.5" y1="318.5" x2="955.5" y2="318.5" stroke="#a98b92"/>
<line x1="952.5" y1="323.5" x2="954.1" y2="323.5" stroke="#a98b92"/>
<line x1="952.5" y1="328.5" x2="954.1" y2="328.5" stroke="#a98b92"/>
<line x1="952.5" y1="333.5" x2="954.1" y2="333.5" stroke="#a98b92"/>
<line x1="952.5" y1="338.5" x2="954.1" y2="338.5" stroke="#a98b92"/>
<line x1="952.5" y1="344.5" x2="955.5" y2="344.5" stroke="#a98b92"/>
<line x1="952.5" y1="349.5" x2="954.1" y2="349.5" stroke="#a98b92"/>
<line x1="952.5" y1="354.5" x2="954.1" y2="354.5" stroke="#a98b92"/>
<line x1="952.5" y1="359.5" x2="954.1" y2="359.5" stroke="#a98b92"/>
<line x1="952.5" y1="364.5" x2="954.1" y2="364.5" stroke="#a98b92"/>
<line x1="952.5" y1="370.5" x2="955.5" y2="370.5" stroke="#a98b92"/>
<line x1="952.5" y1="375.5" x2="954.1" y2="375.5" stroke="#a98b92"/>
<line x1="952.5" y1="380.5" x2="954.1" y2="380.5" stroke="#a98b92"/>
<line x1="952.5" y1="385.5" x2="954.1" y2="385.5" stroke="#a98b92"/>
<line x1="952.5" y1="391.5" x2="954.1" y2="391.5" stroke="#a98b92"/>
<line x1="952.5" y1="396.5" x2="955.5" y2="396.5" stroke="#a98b92"/>
<line x1="952.5" y1="401.5" x2="954.1" y2="401.5" stroke="#a98b92"/>
<line x1="952.5" y1="406.5" x2="954.1" y2="406.5" stroke="#a98b92"/>
<line x1="952.5" y1="411.5" x2="954.1" y2="411.5" stroke="#a98b92"/>
<line x1="952.5" y1="417.5" x2="954.1" y2="417.5" stroke="#a98b92"/>
<line x1="952.5" y1="422.5" x2="955.5" y2="422.5" stroke="#a98b92"/>
<line x1="952.5" y1="427.5" x2="954.1" y2="427.5" stroke="#a98b92"/>
<line x1="952.5" y1="432.5" x2="954.1" y2="432.5" stroke="#a98b92"/>
<line x1="952.5" y1="437.5" x2="954.1" y2="437.5" stroke="#a98b92"/>
<line x1="952.5" y1="443.5" x2="954.1" y2="443.5" stroke="#a98b92"/>
<line x1="952.5" y1="448.5" x2="955.5" y2="448.5" stroke="#a98b92"/>
<line x1="952.5" y1="453.5" x2="954.1" y2="453.5" stroke="#a98b92"/>
<line x1="952.5" y1="458.5" x2="954.1" y2="458.5" stroke="#a98b92"/>
<line x1="952.5" y1="463.5" x2="954.1" y2="463.5" stroke="#a98b92"/>
<line x1="952.5" y1="469.5" x2="954.1" y2="469.5" stroke="#a98b92"/>
<line x1="952.5" y1="474.5" x2="955.5" y2="474.5" stroke="#a98b92"/>
<line x1="952.5" y1="479.5" x2="954.1" y2="479.5" stroke="#a98b92"/>
<line x1="952.5" y1="484.5" x2="954.1" y2="484.5" stroke="#a98b92"/>
<line x1="952.5" y1="489.5" x2="954.1" y2="489.5" stroke="#a98b92"/>
<line x1="952.5" y1="495.5" x2="954.1" y2="495.5" stroke="#a98b92"/>
<line x1="952.5" y1="500.5" x2="955.5" y2="500.5" stroke="#a98b92"/>
<line x1="952.5" y1="505.5" x2="954.1" y2="505.5" stroke="#a98b92"/>
<line x1="952.5" y1="510.5" x2="954.1" y2="510.5" stroke="#a98b92"/>
<line x1="952.5" y1="515.5" x2="954.1" y2="515.5" stroke="#a98b92"/>
<line x1="952.5" y1="521.5" x2="954.1" y2="521.5" stroke="#a98b92"/>
<line x1="952.5" y1="526.5" x2="955.5" y2="526.5" stroke="#a98b92"/>
<line x1="952.5" y1="531.5" x2="954.1" y2="531.5" stroke="#a98b92"/>
<line x1="952.5" y1="536.5" x2="954.1" y2="536.5" stroke="#a98b92"/>
<line x1="952.5" y1="541.5" x2="954.1" y2="541.5" stroke="#a98b92"/>
<line x1="952.5" y1="547.5" x2="954.1" y2="547.5" stroke="#a98b92"/>
<line x1="952.5" y1="552.5" x2="955.5" y2="552.5" stroke="#a98b92"/>
<line x1="952.5" y1="557.5" x2="954.1" y2="557.5" stroke="#a98b92"/>
<line x1="952.5" y1="562.5" x2="954.1" y2="562.5" stroke="#a98b92"/>
<line x1="952.5" y1="567.5" x2="954.1" y2="567.5" stroke="#a98b92"/>
<line x1="952.5" y1="573.5" x2="954.1" y2="573.5" stroke="#a98b92"/>
<line x1="952.5" y1="578.5" x2="955.5" y2="578.5" stroke="#a98b92"/>
<line x1="952.5" y1="583.5" x2="954.1" y2="583.5" stroke="#a98b92"/>
<text x="956" y="581" font-size="10" stroke="#000" stroke-width="0.15">32</text>
<text x="956" y="555" font-size="10" stroke="#000" stroke-width="0.15">34</text>
<text x="956" y="529" font-size="10" stroke="#000" stroke-width="0.15">36</text>
<text x="956" y="503" font-size="10" stroke="#000" stroke-width="0.15">38</text>
<text x="956" y="477" font-size="10" stroke="#000" stroke-width="0.15">40</text>
<text x="956" y="451" font-size="10" stroke="#000" stroke-width="0.15">42</text>
<text x="956" y="425" font-size="10" stroke="#000" stroke-width="0.15">44</text>
<text x="956" y="399" font-size="10" stroke="#000" stroke-width="0.15">46</text>
<text x="956" y="373" font-size="10" stroke="#000" stroke-width="0.15">48</text>
<text x="956" y="347" font-size="10" stroke="#000" stroke-width="0.15">50</text>
<text x="956" y="321" font-size="10" stroke="#000" stroke-width="0.15">52</text>
<text x="956" y="295" font-size="10" stroke="#000" stroke-width="0.15">54</text>
<text x="956" y="269" font-size="10" stroke="#000" stroke-width="0.15">56</text>
<text x="956" y="243" font-size="10" stroke="#000" stroke-width="0.15">58</text>
<text x="956" y="217" font-size="10" stroke="#000" stroke-width="0.15">60</text>
<text x="956" y="191" font-size="10" stroke="#000" stroke-width="0.15">62</text>
<line x1="952.5" y1="742.5" x2="954.1" y2="742.5" stroke="#a98b92"/>
<line x1="952.5" y1="738.5" x2="954.1" y2="738.5" stroke="#a98b92"/>
<line x1="952.5" y1="734.5" x2="954.1" y2="734.5" stroke="#a98b92"/>
<line x1="952.5" y1="729.5" x2="954.1" y2="729.5" stroke="#a98b92"/>
<line x1="952.5" y1="725.5" x2="955.5" y2="725.5" stroke="#a98b92"/>
<line x1="952.5" y1="721.5" x2="954.1" y2="721.5" stroke="#a98b92"/>
<line x1="952.5" y1="717.5" x2="954.1" y2="717.5" stroke="#a98b92"/>
<line x1="952.5" y1="713.5" x2="954.1" y2="713.5" stroke="#a98b92"/>
<line x1="952.5" y1="709.5" x2="954.1" y2="709.5" stroke="#a98b92"/>
<line x1="952.5" y1="704.5" x2="955.5" y2="704.5" stroke="#a98b92"/>
<line x1="952.5" y1="700.5" x2="954.1" y2="700.5" stroke="#a98b92"/>
<line x1="952.5" y1="696.5" x2="954.1" y2="696.5" stroke="#a98b92"/>
<line x1="952.5" y1="692.5" x2="954.1" y2="692.5" stroke="#a98b92"/>
<line x1="952.5" y1="688.5" x2="954.1" y2="688.5" stroke="#a98b92"/>
<line x1="952.5" y1="684.5" x2="955.5" y2="684.5" stroke="#a98b92"/>
<line x1="952.5" y1="679.5" x2="954.1" y2="679.5" stroke="#a98b92"/>
<line x1="952.5" y1="675.5" x2="954.1" y2="675.5" stroke="#a98b92"/>
<line x1="952.5" y1="671.5" x2="954.1" y2="671.5" stroke="#a98b92"/>
<line x1="952.5" y1="667.5" x2="954.1" y2="667.5" stroke="#a98b92"/>
<line x1="952.5" y1="663.5" x2="955.5" y2="663.5" stroke="#a98b92"/>
<line x1="952.5" y1="659.5" x2="954.1" y2="659.5" stroke="#a98b92"/>
<line x1="952.5" y1="654.5" x2="954.1" y2="654.5" stroke="#a98b92"/>
<line x1="952.5" y1="650.5" x2="954.1" y2="650.5" stroke="#a98b92"/>
<line x1="952.5" y1="646.5" x2="954.1" y2="646.5" stroke="#a98b92"/>
<line x1="952.5" y1="642.5" x2="955.5" y2="642.5" stroke="#a98b92"/>
<line x1="952.5" y1="638.5" x2="954.1" y2="638.5" stroke="#a98b92"/>
<line x1="952.5" y1="634.5" x2="954.1" y2="634.5" stroke="#a98b92"/>
<line x1="952.5" y1="629.5" x2="954.1" y2="629.5" stroke="#a98b92"/>
<line x1="952.5" y1="625.5" x2="954.1" y2="625.5" stroke="#a98b92"/>
<line x1="952.5" y1="621.5" x2="955.5" y2="621.5" stroke="#a98b92"/>
<line x1="952.5" y1="617.5" x2="954.1" y2="617.5" stroke="#a98b92"/>
<line x1="952.5" y1="613.5" x2="954.1" y2="613.5" stroke="#a98b92"/>
<line x1="952.5" y1="608.5" x2="954.1" y2="608.5" stroke="#a98b92"/>
<line x1="952.5" y1="604.5" x2="954.1" y2="604.5" stroke="#a98b92"/>
<text x="956" y="729.5" font-size="10" stroke="#000" stroke-width="0.15">1M</text>
<text x="956" y="708.7" font-size="10" stroke="#000" stroke-width="0.15">2M</text>
<text x="956" y="687.9" font-size="10" stroke="#000" stroke-width="0.15">3M</text>
<text x="956" y="667" font-size="10" stroke="#000" stroke-width="0.15">4M</text>
<text x="956" y="646.1" font-size="10" stroke="#000" stroke-width="0.15">5M</text>
<text x="956" y="625.3" font-size="10" stroke="#000" stroke-width="0.15">6M</text>
<line x1="952.5" y1="884.5" x2="954.1" y2="884.5" stroke="#a98b92"/>
<line x1="952.5" y1="878.5" x2="954.1" y2="878.5" stroke="#a98b92"/>
<line x1="952.5" y1="871.5" x2="954.1" y2="871.5" stroke="#a98b92"/>
<line x1="952.5" y1="865.5" x2="954.1" y2="865.5" stroke="#a98b92"/>
<line x1="952.5" y1="858.5" x2="955.5" y2="858.5" stroke="#a98b92"/>
<line x1="952.5" y1="852.5" x2="954.1" y2="852.5" stroke="#a98b92"/>
<line x1="952.5" y1="845.5" x2="954.1" y2="845.5" stroke="#a98b92"/>
<line x1="952.5" y1="839.5" x2="954.1" y2="839.5" stroke="#a98b92"/>
<line x1="952.5" y1="832.5" x2="954.1" y2="832.5" stroke="#a98b92"/>
<line x1="952.5" y1="826.5" x2="954.1" y2="826.5" stroke="#a98b92"/>
<line x1="952.5" y1="819.5" x2="955.5" y2="819.5" stroke="#a98b92"/>
<line x1="952.5" y1="812.5" x2="954.1" y2="812.5" stroke="#a98b92"/>
<line x1="952.5" y1="806.5" x2="954.1" y2="806.5" stroke="#a98b92"/>
<line x1="952.5" y1="799.5" x2="954.1" y2="799.5" stroke="#a98b92"/>
<line x1="952.5" y1="793.5" x2="954.1" y2="793.5" stroke="#a98b92"/>
<line x1="952.5" y1="786.5" x2="954.1" y2="786.5" stroke="#a98b92"/>
<line x1="952.5" y1="780.5" x2="955.5" y2="780.5" stroke="#a98b92"/>
<line x1="952.5" y1="773.5" x2="954.1" y2="773.5" stroke="#a98b92"/>
<line x1="952.5" y1="767.5" x2="954.1" y2="767.5" stroke="#a98b92"/>
<line x1="952.5" y1="760.5" x2="954.1" y2="760.5" stroke="#a98b92"/>
<line x1="952.5" y1="754.5" x2="954.1" y2="754.5" stroke="#a98b92"/>
<text x="956" y="783.2" font-size="10" stroke="#000" stroke-width="0.15">80</text>
<text x="956" y="822.3" font-size="10" stroke="#000" stroke-width="0.15">50</text>
<text x="956" y="861.4" font-size="10" stroke="#000" stroke-width="0.15">20</text>
<line x1="952.5" y1="1032.5" x2="955.5" y2="1032.5" stroke="#a98b92"/>
<line x1="952.5" y1="1018.5" x2="955.5" y2="1018.5" stroke="#a98b92"/>
<line x1="952.5" y1="1003.5" x2="955.5" y2="1003.5" stroke="#a98b92"/>
<line x1="952.5" y1="988.5" x2="955.5" y2="988.5" stroke="#a98b92"/>
<line x1="952.5" y1="974.5" x2="955.5" y2="974.5" stroke="#a98b92"/>
<line x1="952.5" y1="959.5" x2="955.5" y2="959.5" stroke="#a98b92"/>
<line x1="952.5" y1="944.5" x2="955.5" y2="944.5" stroke="#a98b92"/>
<line x1="952.5" y1="929.5" x2="955.5" y2="929.5" stroke="#a98b92"/>
<line x1="952.5" y1="914.5" x2="955.5" y2="914.5" stroke="#a98b92"/>
<line x1="952.5" y1="899.5" x2="955.5" y2="899.5" stroke="#a98b92"/>
<text x="956" y="1035.3" font-size="10" stroke="#000" stroke-width="0.15">-2.0</text>
<text x="956" y="1021.3" font-size="10" stroke="#000" stroke-width="0.15">-1.5</text>
<text x="956" y="1006.3" font-size="10" stroke="#000" stroke-width="0.15">-1.0</text>
<text x="956" y="991.3" font-size="10" stroke="#000" stroke-width="0.15">-0.5</text>
<text x="958.8" y="977.3" font-size="10" stroke="#000" stroke-width="0.15">0.0</text>
<text x="958.8" y="962.3" font-size="10" stroke="#000" stroke-width="0.15">0.5</text>
<text x="958.8" y="947.3" font-size="10" stroke="#000" stroke-width="0.15">1.0</text>
<text x="958.8" y="932.3" font-size="10" stroke="#000" stroke-width="0.15">1.5</text>
<text x="958.8" y="917.3" font-size="10" stroke="#000" stroke-width="0.15">2.0</text>
<text x="958.8" y="902.3" font-size="10" stroke="#000" stroke-width="0.15">2.5</text>
<text x="22.7" y="598.3" font-size="10" text-anchor="middle">13</text>
<text x="46.8" y="598.3" font-size="10" text-anchor="middle">21</text>
<text x="66.1" y="598.3" font-size="10" text-anchor="middle">27</text>
<text x="90.9" y="598.3" font-size="11" font-weight="bold" text-anchor="middle">Feb</text>
<text x="114.4" y="598.3" font-size="10" text-anchor="middle">10</text>
<text x="138.6" y="598.3" font-size="10" text-anchor="middle">18</text>
<text x="157.9" y="598.3" font-size="10" text-anchor="middle">24</text>
<text x="182.6" y="598.3" font-size="11" font-weight="bold" text-anchor="middle">Mar</text>
<text x="206.2" y="598.3" font-size="10" text-anchor="middle">10</text>
<text x="230.3" y="598.3" font-size="10" text-anchor="middle">17</text>
<text x="254.5" y="598.3" font-size="10" text-anchor="middle">24</text>
<text x="284.1" y="598.3" font-size="11" font-weight="bold" text-anchor="middle">Apr</text>
<text x="302.8" y="598.3" font-size="10" text-anchor="middle">7</text>
<text x="326.9" y="598.3" font-size="10" text-anchor="middle">14</text>
<text x="346.2" y="598.3" font-size="10" text-anchor="middle">21</text>
<text x="385.5" y="598.3" font-size="11" font-weight="bold" text-anchor="middle">May</text>
<text x="418.7" y="598.3" font-size="10" text-anchor="middle">12</text>
<text x="442.8" y="598.3" font-size="10" text-anchor="middle">19</text>
<text x="467" y="598.3" font-size="10" text-anchor="middle">27</text>
<text x="486.9" y="598.3" font-size="11" font-weight="bold" text-anchor="middle">Jun</text>
<text x="510.4" y="598.3" font-size="10" text-anchor="middle">9</text>
<text x="534.6" y="598.3" font-size="10" text-anchor="middle">16</text>
<text x="553.9" y="598.3" font-size="10" text-anchor="middle">23</text>
<text x="583.5" y="598.3" font-size="11" font-weight="bold" text-anchor="middle">Jul</text>
<text x="597.4" y="598.3" font-size="10" text-anchor="middle">7</text>
<text x="621.5" y="598.3" font-size="10" text-anchor="middle">14</text>
<text x="645.7" y="598.3" font-size="10" text-anchor="middle">21</text>
<text x="669.8" y="598.3" font-size="10" text-anchor="middle">28</text>
<text x="689.7" y="598.3" font-size="11" font-weight="bold" text-anchor="middle">Aug</text>
<text x="718.1" y="598.3" font-size="10" text-anchor="middle">11</text>
<text x="742.3" y="598.3" font-size="10" text-anchor="middle">18</text>
<text x="766.4" y="598.3" font-size="10" text-anchor="middle">25</text>
<text x="791.1" y="598.3" font-size="11" font-weight="bold" text-anchor="middle">Sep</text>
<text x="809.9" y="598.3" font-size="10" text-anchor="middle">8</text>
<text x="834" y="598.3" font-size="10" text-anchor="middle">15</text>
<text x="858.2" y="598.3" font-size="10" text-anchor="middle">22</text>
<text x="892.6" y="598.3" font-size="11" font-weight="bold" text-anchor="middle">Oct</text>
<text x="906.5" y="598.3" font-size="10" text-anchor="middle">6</text>
<text x="930.6" y="598.3" font-size="10" text-anchor="middle">13</text>
<text x="22.7" y="1046.3" font-size="10" text-anchor="middle">13</text>
<text x="46.8" y="1046.3" font-size="10" text-anchor="middle">21</text>
<text x="66.1" y="1046.3" font-size="10" text-anchor="middle">27</text>
<text x="90.9" y="1046.3" font-size="11" font-weight="bold" text-anchor="middle">Feb</text>
<text x="114.4" y="1046.3" font-size="10" text-anchor="middle">10</text>
<text x="138.6" y="1046.3" font-size="10" text-anchor="middle">18</text>
<text x="157.9" y="1046.3" font-size="10" text-anchor="middle">24</text>
<text x="182.6" y="1046.3" font-size="11" font-weight="bold" text-anchor="middle">Mar</text>
<text x="206.2" y="1046.3" font-size="10" text-anchor="middle">10</text>
<text x="230.3" y="1046.3" font-size="10" text-anchor="middle">17</text>
<text x="254.5" y="1046.3" font-size="10" text-anchor="middle">24</text>
<text x="284.1" y="1046.3" font-size="11" font-weight="bold" text-anchor="middle">Apr</text>
<text x="302.8" y="1046.3" font-size="10" text-anchor="middle">7</text>
<text x="326.9" y="1046.3" font-size="10" text-anchor="middle">14</text>
<text x="346.2" y="1046.3" font-size="10" text-anchor="middle">21</text>
<text x="385.5" y="1046.3" font-size="11" font-weight="bold" text-anchor="middle">May</text>
<text x="418.7" y="1046.3" font-size="10" text-anchor="middle">12</text>
<text x="442.8" y="1046.3" font-size="10" text-anchor="middle">19</text>
<text x="467" y="1046.3" font-size="10" text-anchor="middle">27</text>
<text x="486.9" y="1046.3" font-size="11" font-weight="bold" text-anchor="middle">Jun</text>
<text x="510.4" y="1046.3" font-size="10" text-anchor="middle">9</text>
<text x="534.6" y="1046.3" font-size="10" text-anchor="middle">16</text>
<text x="553.9" y="1046.3" font-size="10" text-anchor="middle">23</text>
<text x="583.5" y="1046.3" font-size="11" font-weight="bold" text-anchor="middle">Jul</text>
<text x="597.4" y="1046.3" font-size="10" text-anchor="middle">7</text>
<text x="621.5" y="1046.3" font-size="10" text-anchor="middle">14</text>
<text x="645.7" y="1046.3" font-size="10" text-anchor="middle">21</text>
<text x="669.8" y="1046.3" font-size="10" text-anchor="middle">28</text>
<text x="689.7" y="1046.3" font-size="11" font-weight="bold" text-anchor="middle">Aug</text>
<text x="718.1" y="1046.3" font-size="10" text-anchor="middle">11</text>
<text x="742.3" y="1046.3" font-size="10" text-anchor="middle">18</text>
<text x="766.4" y="1046.3" font-size="10" text-anchor="middle">25</text>
<text x="791.1" y="1046.3" font-size="11" font-weight="bold" text-anchor="middle">Sep</text>
<text x="809.9" y="1046.3" font-size="10" text-anchor="middle">8</text>
<text x="834" y="1046.3" font-size="10" text-anchor="middle">15</text>
<text x="858.2" y="1046.3" font-size="10" text-anchor="middle">22</text>
<text x="892.6" y="1046.3" font-size="11" font-weight="bold" text-anchor="middle">Oct</text>
<text x="906.5" y="1046.3" font-size="10" text-anchor="middle">6</text>
<text x="930.6" y="1046.3" font-size="10" text-anchor="middle">13</text>
<line x1="18.5" y1="586.5" x2="18.5" y2="587.7" stroke="#a98b92"/>
<line x1="18.5" y1="601.5" x2="18.5" y2="600.3" stroke="#a98b92"/>
<line x1="18.5" y1="1036.5" x2="18.5" y2="1037.7" stroke="#a98b92"/>
<line x1="23.5" y1="586.5" x2="23.5" y2="589.0" stroke="#a98b92"/>
<line x1="23.5" y1="601.5" x2="23.5" y2="599.0" stroke="#a98b92"/>
<line x1="23.5" y1="1036.5" x2="23.5" y2="1039.0" stroke="#a98b92"/>
<line x1="28.5" y1="586.5" x2="28.5" y2="587.7" stroke="#a98b92"/>
<line x1="28.5" y1="601.5" x2="28.5" y2="600.3" stroke="#a98b92"/>
<line x1="28.5" y1="1036.5" x2="28.5" y2="1037.7" stroke="#a98b92"/>
<line x1="32.5" y1="586.5" x2="32.5" y2="587.7" stroke="#a98b92"/>
<line x1="32.5" y1="601.5" x2="32.5" y2="600.3" stroke="#a98b92"/>
<line x1="32.5" y1="1036.5" x2="32.5" y2="1037.7" stroke="#a98b92"/>
<line x1="37.5" y1="586.5" x2="37.5" y2="587.7" stroke="#a98b92"/>
<line x1="37.5" y1="601.5" x2="37.5" y2="600.3" stroke="#a98b92"/>
<line x1="37.5" y1="1036.5" x2="37.5" y2="1037.7" stroke="#a98b92"/>
<line x1="42.5" y1="586.5" x2="42.5" y2="587.7" stroke="#a98b92"/>
<line x1="42.5" y1="601.5" x2="42.5" y2="600.3" stroke="#a98b92"/>
<line x1="42.5" y1="1036.5" x2="42.5" y2="1037.7" stroke="#a98b92"/>
<line x1="47.5" y1="586.5" x2="47.5" y2="589.0" stroke="#a98b92"/>
<line x1="47.5" y1="601.5" x2="47.5" y2="599.0" stroke="#a98b92"/>
<line x1="47.5" y1="1036.5" x2="47.5" y2="1039.0" stroke="#a98b92"/>
<line x1="52.5" y1="586.5" x2="52.5" y2="587.7" stroke="#a98b92"/>
<line x1="52.5" y1="601.5" x2="52.5" y2="600.3" stroke="#a98b92"/>
<line x1="52.5" y1="1036.5" x2="52.5" y2="1037.7" stroke="#a98b92"/>
<line x1="57.5" y1="586.5" x2="57.5" y2="587.7" stroke="#a98b92"/>
<line x1="57.5" y1="601.5" x2="57.5" y2="600.3" stroke="#a98b92"/>
<line x1="57.5" y1="1036.5" x2="57.5" y2="1037.7" stroke="#a98b92"/>
<line x1="61.5" y1="586.5" x2="61.5" y2="587.7" stroke="#a98b92"/>
<line x1="61.5" y1="601.5" x2="61.5" y2="600.3" stroke="#a98b92"/>
<line x1="61.5" y1="1036.5" x2="61.5" y2="1037.7" stroke="#a98b92"/>
<line x1="66.5" y1="586.5" x2="66.5" y2="589.0" stroke="#a98b92"/>
<line x1="66.5" y1="601.5" x2="66.5" y2="599.0" stroke="#a98b92"/>
<line x1="66.5" y1="1036.5" x2="66.5" y2="1039.0" stroke="#a98b92"/>
<line x1="71.5" y1="586.5" x2="71.5" y2="587.7" stroke="#a98b92"/>
<line x1="71.5" y1="601.5" x2="71.5" y2="600.3" stroke="#a98b92"/>
<line x1="71.5" y1="1036.5" x2="71.5" y2="1037.7" stroke="#a98b92"/>
<line x1="76.5" y1="586.5" x2="76.5" y2="587.7" stroke="#a98b92"/>
<line x1="76.5" y1="601.5" x2="76.5" y2="600.3" stroke="#a98b92"/>
<line x1="76.5" y1="1036.5" x2="76.5" y2="1037.7" stroke="#a98b92"/>
<line x1="81.5" y1="586.5" x2="81.5" y2="587.7" stroke="#a98b92"/>
<line x1="81.5" y1="601.5" x2="81.5" y2="600.3" stroke="#a98b92"/>
<line x1="81.5" y1="1036.5" x2="81.5" y2="1037.7" stroke="#a98b92"/>
<line x1="86.5" y1="586.5" x2="86.5" y2="587.7" stroke="#a98b92"/>
<line x1="86.5" y1="601.5" x2="86.5" y2="600.3" stroke="#a98b92"/>
<line x1="86.5" y1="1036.5" x2="86.5" y2="1037.7" stroke="#a98b92"/>
<line x1="90.5" y1="586.5" x2="90.5" y2="589.0" stroke="#a98b92"/>
<line x1="90.5" y1="601.5" x2="90.5" y2="599.0" stroke="#a98b92"/>
<line x1="90.5" y1="1036.5" x2="90.5" y2="1039.0" stroke="#a98b92"/>
<line x1="95.5" y1="586.5" x2="95.5" y2="587.7" stroke="#a98b92"/>
<line x1="95.5" y1="601.5" x2="95.5" y2="600.3" stroke="#a98b92"/>
<line x1="95.5" y1="1036.5" x2="95.5" y2="1037.7" stroke="#a98b92"/>
<line x1="100.5" y1="586.5" x2="100.5" y2="587.7" stroke="#a98b92"/>
<line x1="100.5" y1="601.5" x2="100.5" y2="600.3" stroke="#a98b92"/>
<line x1="100.5" y1="1036.5" x2="100.5" y2="1037.7" stroke="#a98b92"/>
<line x1="105.5" y1="586.5" x2="105.5" y2="587.7" stroke="#a98b92"/>
<line x1="105.5" y1="601.5" x2="105.5" y2="600.3" stroke="#a98b92"/>
<line x1="105.5" y1="1036.5" x2="105.5" y2="1037.7" stroke="#a98b92"/>
<line x1="110.5" y1="586.5" x2="110.5" y2="587.7" stroke="#a98b92"/>
<line x1="110.5" y1="601.5" x2="110.5" y2="600.3" stroke="#a98b92"/>
<line x1="110.5" y1="1036.5" x2="110.5" y2="1037.7" stroke="#a98b92"/>
<line x1="115.5" y1="586.5" x2="115.5" y2="589.0" stroke="#a98b92"/>
<line x1="115.5" y1="601.5" x2="115.5" y2="599.0" stroke="#a98b92"/>
<line x1="115.5" y1="1036.5" x2="115.5" y2="1039.0" stroke="#a98b92"/>
<line x1="119.5" y1="586.5" x2="119.5" y2="587.7" stroke="#a98b92"/>
<line x1="119.5" y1="601.5" x2="119.5" y2="600.3" stroke="#a98b92"/>
<line x1="119.5" y1="1036.5" x2="119.5" y2="1037.7" stroke="#a98b92"/>
<line x1="124.5" y1="586.5" x2="124.5" y2="587.7" stroke="#a98b92"/>
<line x1="124.5" y1="601.5" x2="124.5" y2="600.3" stroke="#a98b92"/>
<line x1="124.5" y1="1036.5" x2="124.5" y2="1037.7" stroke="#a98b92"/>
<line x1="129.5" y1="586.5" x2="129.5" y2="587.7" stroke="#a98b92"/>
<line x1="129.5" y1="601.5" x2="129.5" y2="600.3" stroke="#a98b92"/>
<line x1="129.5" y1="1036.5" x2="129.5" y2="1037.7" stroke="#a98b92"/>
<line x1="134.5" y1="586.5" x2="134.5" y2="587.7" stroke="#a98b92"/>
<line x1="134.5" y1="601.5" x2="134.5" y2="600.3" stroke="#a98b92"/>
<line x1="134.5" y1="1036.5" x2="134.5" y2="1037.7" stroke="#a98b92"/>
<line x1="139.5" y1="586.5" x2="139.5" y2="589.0" stroke="#a98b92"/>
<line x1="139.5" y1="601.5" x2="139.5" y2="599.0" stroke="#a98b92"/>
<line x1="139.5" y1="1036.5" x2="139.5" y2="1039.0" stroke="#a98b92"/>
<line x1="143.5" y1="586.5" x2="143.5" y2="587.7" stroke="#a98b92"/>
<line x1="143.5" y1="601.5" x2="143.5" y2="600.3" stroke="#a98b92"/>
<line x1="143.5" y1="1036.5" x2="143.5" y2="1037.7" stroke="#a98b92"/>
<line x1="148.5" y1="586.5" x2="148.5" y2="587.7" stroke="#a98b92"/>
<line x1="148.5" y1="601.5" x2="148.5" y2="600.3" stroke="#a98b92"/>
<line x1="148.5" y1="1036.5" x2="148.5" y2="1037.7" stroke="#a98b92"/>
<line x1="153.5" y1="586.5" x2="153.5" y2="587.7" stroke="#a98b92"/>
<line x1="153.5" y1="601.5" x2="153.5" y2="600.3" stroke="#a98b92"/>
<line x1="153.5" y1="1036.5" x2="153.5" y2="1037.7" stroke="#a98b92"/>
<line x1="158.5" y1="586.5" x2="158.5" y2="589.0" stroke="#a98b92"/>
<line x1="158.5" y1="601.5" x2="158.5" y2="599.0" stroke="#a98b92"/>
<line x1="158.5" y1="1036.5" x2="158.5" y2="1039.0" stroke="#a98b92"/>
<line x1="163.5" y1="586.5" x2="163.5" y2="587.7" stroke="#a98b92"/>
<line x1="163.5" y1="601.5" x2="163.5" y2="600.3" stroke="#a98b92"/>
<line x1="163.5" y1="1036.5" x2="163.5" y2="1037.7" stroke="#a98b92"/>
<line x1="168.5" y1="586.5" x2="168.5" y2="587.7" stroke="#a98b92"/>
<line x1="168.5" y1="601.5" x2="168.5" y2="600.3" stroke="#a98b92"/>
<line x1="168.5" y1="1036.5" x2="168.5" y2="1037.7" stroke="#a98b92"/>
<line x1="172.5" y1="586.5" x2="172.5" y2="587.7" stroke="#a98b92"/>
<line x1="172.5" y1="601.5" x2="172.5" y2="600.3" stroke="#a98b92"/>
<line x1="172.5" y1="1036.5" x2="172.5" y2="1037.7" stroke="#a98b92"/>
<line x1="177.5" y1="586.5" x2="177.5" y2="587.7" stroke="#a98b92"/>
<line x1="177.5" y1="601.5" x2="177.5" y2="600.3" stroke="#a98b92"/>
<line x1="177.5" y1="1036.5" x2="177.5" y2="1037.7" stroke="#a98b92"/>
<line x1="182.5" y1="586.5" x2="182.5" y2="589.0" stroke="#a98b92"/>
<line x1="182.5" y1="601.5" x2="182.5" y2="599.0" stroke="#a98b92"/>
<line x1="182.5" y1="1036.5" x2="182.5" y2="1039.0" stroke="#a98b92"/>
<line x1="187.5" y1="586.5" x2="187.5" y2="587.7" stroke="#a98b92"/>
<line x1="187.5" y1="601.5" x2="187.5" y2="600.3" stroke="#a98b92"/>
<line x1="187.5" y1="1036.5" x2="187.5" y2="1037.7" stroke="#a98b92"/>
<line x1="192.5" y1="586.5" x2="192.5" y2="587.7" stroke="#a98b92"/>
<line x1="192.5" y1="601.5" x2="192.5" y2="600.3" stroke="#a98b92"/>
<line x1="192.5" y1="1036.5" x2="192.5" y2="1037.7" stroke="#a98b92"/>
<line x1="197.5" y1="586.5" x2="197.5" y2="587.7" stroke="#a98b92"/>
<line x1="197.5" y1="601.5" x2="197.5" y2="600.3" stroke="#a98b92"/>
<line x1="197.5" y1="1036.5" x2="197.5" y2="1037.7" stroke="#a98b92"/>
<line x1="201.5" y1="586.5" x2="201.5" y2="587.7" stroke="#a98b92"/>
<line x1="201.5" y1="601.5" x2="201.5" y2="600.3" stroke="#a98b92"/>
<line x1="201.5" y1="1036.5" x2="201.5" y2="1037.7" stroke="#a98b92"/>
<line x1="206.5" y1="586.5" x2="206.5" y2="589.0" stroke="#a98b92"/>
<line x1="206.5" y1="601.5" x2="206.5" y2="599.0" stroke="#a98b92"/>
<line x1="206.5" y1="1036.5" x2="206.5" y2="1039.0" stroke="#a98b92"/>
<line x1="211.5" y1="586.5" x2="211.5" y2="587.7" stroke="#a98b92"/>
<line x1="211.5" y1="601.5" x2="211.5" y2="600.3" stroke="#a98b92"/>
<line x1="211.5" y1="1036.5" x2="211.5" y2="1037.7" stroke="#a98b92"/>
<line x1="216.5" y1="586.5" x2="216.5" y2="587.7" stroke="#a98b92"/>
<line x1="216.5" y1="601.5" x2="216.5" y2="600.3" stroke="#a98b92"/>
<line x1="216.5" y1="1036.5" x2="216.5" y2="1037.7" stroke="#a98b92"/>
<line x1="221.5" y1="586.5" x2="221.5" y2="587.7" stroke="#a98b92"/>
<line x1="221.5" y1="601.5" x2="221.5" y2="600.3" stroke="#a98b92"/>
<line x1="221.5" y1="1036.5" x2="221.5" y2="1037.7" stroke="#a98b92"/>
<line x1="226.5" y1="586.5" x2="226.5" y2="587.7" stroke="#a98b92"/>
<line x1="226.5" y1="601.5" x2="226.5" y2="600.3" stroke="#a98b92"/>
<line x1="226.5" y1="1036.5" x2="226.5" y2="1037.7" stroke="#a98b92"/>
<line x1="230.5" y1="586.5" x2="230.5" y2="589.0" stroke="#a98b92"/>
<line x1="230.5" y1="601.5" x2="230.5" y2="599.0" stroke="#a98b92"/>
<line x1="230.5" y1="1036.5" x2="230.5" y2="1039.0" stroke="#a98b92"/>
<line x1="235.5" y1="586.5" x2="235.5" y2="587.7" stroke="#a98b92"/>
<line x1="235.5" y1="601.5" x2="235.5" y2="600.3" stroke="#a98b92"/>
<line x1="235.5" y1="1036.5" x2="235.5" y2="1037.7" stroke="#a98b92"/>
<line x1="240.5" y1="586.5" x2="240.5" y2="587.7" stroke="#a98b92"/>
<line x1="240.5" y1="601.5" x2="240.5" y2="600.3" stroke="#a98b92"/>
<line x1="240.5" y1="1036.5" x2="240.5" y2="1037.7" stroke="#a98b92"/>
<line x1="245.5" y1="586.5" x2="245.5" y2="587.7" stroke="#a98b92"/>
<line x1="245.5" y1="601.5" x2="245.5" y2="600.3" stroke="#a98b92"/>
<line x1="245.5" y1="1036.5" x2="245.5" y2="1037.7" stroke="#a98b92"/>
<line x1="250.5" y1="586.5" x2="250.5" y2="587.7" stroke="#a98b92"/>
<line x1="250.5" y1="601.5" x2="250.5" y2="600.3" stroke="#a98b92"/>
<line x1="250.5" y1="1036.5" x2="250.5" y2="1037.7" stroke="#a98b92"/>
<line x1="255.5" y1="586.5" x2="255.5" y2="589.0" stroke="#a98b92"/>
<line x1="255.5" y1="601.5" x2="255.5" y2="599.0" stroke="#a98b92"/>
<line x1="255.5" y1="1036.5" x2="255.5" y2="1039.0" stroke="#a98b92"/>
<line x1="259.5" y1="586.5" x2="259.5" y2="587.7" stroke="#a98b92"/>
<line x1="259.5" y1="601.5" x2="259.5" y2="600.3" stroke="#a98b92"/>
<line x1="259.5" y1="1036.5" x2="259.5" y2="1037.7" stroke="#a98b92"/>
<line x1="264.5" y1="586.5" x2="264.5" y2="587.7" stroke="#a98b92"/>
<line x1="264.5" y1="601.5" x2="264.5" y2="600.3" stroke="#a98b92"/>
<line x1="264.5" y1="1036.5" x2="264.5" y2="1037.7" stroke="#a98b92"/>
<line x1="269.5" y1="586.5" x2="269.5" y2="587.7" stroke="#a98b92"/>
<line x1="269.5" y1="601.5" x2="269.5" y2="600.3" stroke="#a98b92"/>
<line x1="269.5" y1="1036.5" x2="269.5" y2="1037.7" stroke="#a98b92"/>
<line x1="274.5" y1="586.5" x2="274.5" y2="587.7" stroke="#a98b92"/>
<line x1="274.5" y1="601.5" x2="274.5" y2="600.3" stroke="#a98b92"/>
<line x1="274.5" y1="1036.5" x2="274.5" y2="1037.7" stroke="#a98b92"/>
<line x1="279.5" y1="586.5" x2="279.5" y2="589.0" stroke="#a98b92"/>
<line x1="279.5" y1="601.5" x2="279.5" y2="599.0" stroke="#a98b92"/>
<line x1="279.5" y1="1036.5" x2="279.5" y2="1039.0" stroke="#a98b92"/>
<line x1="284.5" y1="586.5" x2="284.5" y2="589.0" stroke="#a98b92"/>
<line x1="284.5" y1="601.5" x2="284.5" y2="599.0" stroke="#a98b92"/>
<line x1="284.5" y1="1036.5" x2="284.5" y2="1039.0" stroke="#a98b92"/>
<line x1="288.5" y1="586.5" x2="288.5" y2="587.7" stroke="#a98b92"/>
<line x1="288.5" y1="601.5" x2="288.5" y2="600.3" stroke="#a98b92"/>
<line x1="288.5" y1="1036.5" x2="288.5" y2="1037.7" stroke="#a98b92"/>
<line x1="293.5" y1="586.5" x2="293.5" y2="587.7" stroke="#a98b92"/>
<line x1="293.5" y1="601.5" x2="293.5" y2="600.3" stroke="#a98b92"/>
<line x1="293.5" y1="1036.5" x2="293.5" y2="1037.7" stroke="#a98b92"/>
<line x1="298.5" y1="586.5" x2="298.5" y2="587.7" stroke="#a98b92"/>
<line x1="298.5" y1="601.5" x2="298.5" y2="600.3" stroke="#a98b92"/>
<line x1="298.5" y1="1036.5" x2="298.5" y2="1037.7" stroke="#a98b92"/>
<line x1="303.5" y1="586.5" x2="303.5" y2="589.0" stroke="#a98b92"/>
<line x1="303.5" y1="601.5" x2="303.5" y2="599.0" stroke="#a98b92"/>
<line x1="303.5" y1="1036.5" x2="303.5" y2="1039.0" stroke="#a98b92"/>
<line x1="308.5" y1="586.5" x2="308.5" y2="587.7" stroke="#a98b92"/>
<line x1="308.5" y1="601.5" x2="308.5" y2="600.3" stroke="#a98b92"/>
<line x1="308.5" y1="1036.5" x2="308.5" y2="1037.7" stroke="#a98b92"/>
<line x1="313.5" y1="586.5" x2="313.5" y2="587.7" stroke="#a98b92"/>
<line x1="313.5" y1="601.5" x2="313.5" y2="600.3" stroke="#a98b92"/>
<line x1="313.5" y1="1036.5" x2="313.5" y2="1037.7" stroke="#a98b92"/>
<line x1="317.5" y1="586.5" x2="317.5" y2="587.7" stroke="#a98b92"/>
<line x1="317.5" y1="601.5" x2="317.5" y2="600.3" stroke="#a98b92"/>
<line x1="317.5" y1="1036.5" x2="317.5" y2="1037.7" stroke="#a98b92"/>
<line x1="322.5" y1="586.5" x2="322.5" y2="587.7" stroke="#a98b92"/>
<line x1="322.5" y1="601.5" x2="322.5" y2="600.3" stroke="#a98b92"/>
<line x1="322.5" y1="1036.5" x2="322.5" y2="1037.7" stroke="#a98b92"/>
<line x1="327.5" y1="586.5" x2="327.5" y2="589.0" stroke="#a98b92"/>
<line x1="327.5" y1="601.5" x2="327.5" y2="599.0" stroke="#a98b92"/>
<line x1="327.5" y1="1036.5" x2="327.5" y2="1039.0" stroke="#a98b92"/>
<line x1="332.5" y1="586.5" x2="332.5" y2="587.7" stroke="#a98b92"/>
<line x1="332.5" y1="601.5" x2="332.5" y2="600.3" stroke="#a98b92"/>
<line x1="332.5" y1="1036.5" x2="332.5" y2="1037.7" stroke="#a98b92"/>
<line x1="337.5" y1="586.5" x2="337.5" y2="587.7" stroke="#a98b92"/>
<line x1="337.5" y1="601.5" x2="337.5" y2="600.3" stroke="#a98b92"/>
<line x1="337.5" y1="1036.5" x2="337.5" y2="1037.7" stroke="#a98b92"/>
<line x1="342.5" y1="586.5" x2="342.5" y2="587.7" stroke="#a98b92"/>
<line x1="342.5" y1="601.5" x2="342.5" y2="600.3" stroke="#a98b92"/>
<line x1="342.5" y1="1036.5" x2="342.5" y2="1037.7" stroke="#a98b92"/>
<line x1="346.5" y1="586.5" x2="346.5" y2="589.0" stroke="#a98b92"/>
<line x1="346.5" y1="601.5" x2="346.5" y2="599.0" stroke="#a98b92"/>
<line x1="346.5" y1="1036.5" x2="346.5" y2="1039.0" stroke="#a98b92"/>
<line x1="351.5" y1="586.5" x2="351.5" y2="587.7" stroke="#a98b92"/>
<line x1="351.5" y1="601.5" x2="351.5" y2="600.3" stroke="#a98b92"/>
<line x1="351.5" y1="1036.5" x2="351.5" y2="1037.7" stroke="#a98b92"/>
<line x1="356.5" y1="586.5" x2="356.5" y2="587.7" stroke="#a98b92"/>
<line x1="356.5" y1="601.5" x2="356.5" y2="600.3" stroke="#a98b92"/>
<line x1="356.5" y1="1036.5" x2="356.5" y2="1037.7" stroke="#a98b92"/>
<line x1="361.5" y1="586.5" x2="361.5" y2="587.7" stroke="#a98b92"/>
<line x1="361.5" y1="601.5" x2="361.5" y2="600.3" stroke="#a98b92"/>
<line x1="361.5" y1="1036.5" x2="361.5" y2="1037.7" stroke="#a98b92"/>
<line x1="366.5" y1="586.5" x2="366.5" y2="587.7" stroke="#a98b92"/>
<line x1="366.5" y1="601.5" x2="366.5" y2="600.3" stroke="#a98b92"/>
<line x1="366.5" y1="1036.5" x2="366.5" y2="1037.7" stroke="#a98b92"/>
<line x1="370.5" y1="586.5" x2="370.5" y2="589.0" stroke="#a98b92"/>
<line x1="370.5" y1="601.5" x2="370.5" y2="599.0" stroke="#a98b92"/>
<line x1="370.5" y1="1036.5" x2="370.5" y2="1039.0" stroke="#a98b92"/>
<line x1="375.5" y1="586.5" x2="375.5" y2="587.7" stroke="#a98b92"/>
<line x1="375.5" y1="601.5" x2="375.5" y2="600.3" stroke="#a98b92"/>
<line x1="375.5" y1="1036.5" x2="375.5" y2="1037.7" stroke="#a98b92"/>
<line x1="380.5" y1="586.5" x2="380.5" y2="587.7" stroke="#a98b92"/>
<line x1="380.5" y1="601.5" x2="380.5" y2="600.3" stroke="#a98b92"/>
<line x1="380.5" y1="1036.5" x2="380.5" y2="1037.7" stroke="#a98b92"/>
<line x1="385.5" y1="586.5" x2="385.5" y2="589.0" stroke="#a98b92"/>
<line x1="385.5" y1="601.5" x2="385.5" y2="599.0" stroke="#a98b92"/>
<line x1="385.5" y1="1036.5" x2="385.5" y2="1039.0" stroke="#a98b92"/>
<line x1="390.5" y1="586.5" x2="390.5" y2="587.7" stroke="#a98b92"/>
<line x1="390.5" y1="601.5" x2="390.5" y2="600.3" stroke="#a98b92"/>
<line x1="390.5" y1="1036.5" x2="390.5" y2="1037.7" stroke="#a98b92"/>
<line x1="395.5" y1="586.5" x2="395.5" y2="589.0" stroke="#a98b92"/>
<line x1="395.5" y1="601.5" x2="395.5" y2="599.0" stroke="#a98b92"/>
<line x1="395.5" y1="1036.5" x2="395.5" y2="1039.0" stroke="#a98b92"/>
<line x1="399.5" y1="586.5" x2="399.5" y2="587.7" stroke="#a98b92"/>
<line x1="399.5" y1="601.5" x2="399.5" y2="600.3" stroke="#a98b92"/>
<line x1="399.5" y1="1036.5" x2="399.5" y2="1037.7" stroke="#a98b92"/>
<line x1="404.5" y1="586.5" x2="404.5" y2="587.7" stroke="#a98b92"/>
<line x1="404.5" y1="601.5" x2="404.5" y2="600.3" stroke="#a98b92"/>
<line x1="404.5" y1="1036.5" x2="404.5" y2="1037.7" stroke="#a98b92"/>
<line x1="409.5" y1="586.5" x2="409.5" y2="587.7" stroke="#a98b92"/>
<line x1="409.5" y1="601.5" x2="409.5" y2="600.3" stroke="#a98b92"/>
<line x1="409.5" y1="1036.5" x2="409.5" y2="1037.7" stroke="#a98b92"/>
<line x1="414.5" y1="586.5" x2="414.5" y2="587.7" stroke="#a98b92"/>
<line x1="414.5" y1="601.5" x2="414.5" y2="600.3" stroke="#a98b92"/>
<line x1="414.5" y1="1036.5" x2="414.5" y2="1037.7" stroke="#a98b92"/>
<line x1="419.5" y1="586.5" x2="419.5" y2="589.0" stroke="#a98b92"/>
<line x1="419.5" y1="601.5" x2="419.5" y2="599.0" stroke="#a98b92"/>
<line x1="419.5" y1="1036.5" x2="419.5" y2="1039.0" stroke="#a98b92"/>
<line x1="424.5" y1="586.5" x2="424.5" y2="587.7" stroke="#a98b92"/>
<line x1="424.5" y1="601.5" x2="424.5" y2="600.3" stroke="#a98b92"/>
<line x1="424.5" y1="1036.5" x2="424.5" y2="1037.7" stroke="#a98b92"/>
<line x1="428.5" y1="586.5" x2="428.5" y2="587.7" stroke="#a98b92"/>
<line x1="428.5" y1="601.5" x2="428.5" y2="600.3" stroke="#a98b92"/>
<line x1="428.5" y1="1036.5" x2="428.5" y2="1037.7" stroke="#a98b92"/>
<line x1="433.5" y1="586.5" x2="433.5" y2="587.7" stroke="#a98b92"/>
<line x1="433.5" y1="601.5" x2="433.5" y2="600.3" stroke="#a98b92"/>
<line x1="433.5" y1="1036.5" x2="433.5" y2="1037.7" stroke="#a98b92"/>
<line x1="438.5" y1="586.5" x2="438.5" y2="587.7" stroke="#a98b92"/>
<line x1="438.5" y1="601.5" x2="438.5" y2="600.3" stroke="#a98b92"/>
<line x1="438.5" y1="1036.5" x2="438.5" y2="1037.7" stroke="#a98b92"/>
<line x1="443.5" y1="586.5" x2="443.5" y2="589.0" stroke="#a98b92"/>
<line x1="443.5" y1="601.5" x2="443.5" y2="599.0" stroke="#a98b92"/>
<line x1="443.5" y1="1036.5" x2="443.5" y2="1039.0" stroke="#a98b92"/>
<line x1="448.5" y1="586.5" x2="448.5" y2="587.7" stroke="#a98b92"/>
<line x1="448.5" y1="601.5" x2="448.5" y2="600.3" stroke="#a98b92"/>
<line x1="448.5" y1="1036.5" x2="448.5" y2="1037.7" stroke="#a98b92"/>
<line x1="453.5" y1="586.5" x2="453.5" y2="587.7" stroke="#a98b92"/>
<line x1="453.5" y1="601.5" x2="453.5" y2="600.3" stroke="#a98b92"/>
<line x1="453.5" y1="1036.5" x2="453.5" y2="1037.7" stroke="#a98b92"/>
<line x1="457.5" y1="586.5" x2="457.5" y2="587.7" stroke="#a98b92"/>
<line x1="457.5" y1="601.5" x2="457.5" y2="600.3" stroke="#a98b92"/>
<line x1="457.5" y1="1036.5" x2="457.5" y2="1037.7" stroke="#a98b92"/>
<line x1="462.5" y1="586.5" x2="462.5" y2="587.7" stroke="#a98b92"/>
<line x1="462.5" y1="601.5" x2="462.5" y2="600.3" stroke="#a98b92"/>
<line x1="462.5" y1="1036.5" x2="462.5" y2="1037.7" stroke="#a98b92"/>
<line x1="467.5" y1="586.5" x2="467.5" y2="589.0" stroke="#a98b92"/>
<line x1="467.5" y1="601.5" x2="467.5" y2="599.0" stroke="#a98b92"/>
<line x1="467.5" y1="1036.5" x2="467.5" y2="1039.0" stroke="#a98b92"/>
<line x1="472.5" y1="586.5" x2="472.5" y2="587.7" stroke="#a98b92"/>
<line x1="472.5" y1="601.5" x2="472.5" y2="600.3" stroke="#a98b92"/>
<line x1="472.5" y1="1036.5" x2="472.5" y2="1037.7" stroke="#a98b92"/>
<line x1="477.5" y1="586.5" x2="477.5" y2="587.7" stroke="#a98b92"/>
<line x1="477.5" y1="601.5" x2="477.5" y2="600.3" stroke="#a98b92"/>
<line x1="477.5" y1="1036.5" x2="477.5" y2="1037.7" stroke="#a98b92"/>
<line x1="482.5" y1="586.5" x2="482.5" y2="587.7" stroke="#a98b92"/>
<line x1="482.5" y1="601.5" x2="482.5" y2="600.3" stroke="#a98b92"/>
<line x1="482.5" y1="1036.5" x2="482.5" y2="1037.7" stroke="#a98b92"/>
<line x1="486.5" y1="586.5" x2="486.5" y2="589.0" stroke="#a98b92"/>
<line x1="486.5" y1="601.5" x2="486.5" y2="599.0" stroke="#a98b92"/>
<line x1="486.5" y1="1036.5" x2="486.5" y2="1039.0" stroke="#a98b92"/>
<line x1="491.5" y1="586.5" x2="491.5" y2="587.7" stroke="#a98b92"/>
<line x1="491.5" y1="601.5" x2="491.5" y2="600.3" stroke="#a98b92"/>
<line x1="491.5" y1="1036.5" x2="491.5" y2="1037.7" stroke="#a98b92"/>
<line x1="496.5" y1="586.5" x2="496.5" y2="587.7" stroke="#a98b92"/>
<line x1="496.5" y1="601.5" x2="496.5" y2="600.3" stroke="#a98b92"/>
<line x1="496.5" y1="1036.5" x2="496.5" y2="1037.7" stroke="#a98b92"/>
<line x1="501.5" y1="586.5" x2="501.5" y2="587.7" stroke="#a98b92"/>
<line x1="501.5" y1="601.5" x2="501.5" y2="600.3" stroke="#a98b92"/>
<line x1="501.5" y1="1036.5" x2="501.5" y2="1037.7" stroke="#a98b92"/>
<line x1="506.5" y1="586.5" x2="506.5" y2="587.7" stroke="#a98b92"/>
<line x1="506.5" y1="601.5" x2="506.5" y2="600.3" stroke="#a98b92"/>
<line x1="506.5" y1="1036.5" x2="506.5" y2="1037.7" stroke="#a98b92"/>
<line x1="511.5" y1="586.5" x2="511.5" y2="589.0" stroke="#a98b92"/>
<line x1="511.5" y1="601.5" x2="511.5" y2="599.0" stroke="#a98b92"/>
<line x1="511.5" y1="1036.5" x2="511.5" y2="1039.0" stroke="#a98b92"/>
<line x1="515.5" y1="586.5" x2="515.5" y2="587.7" stroke="#a98b92"/>
<line x1="515.5" y1="601.5" x2="515.5" y2="600.3" stroke="#a98b92"/>
<line x1="515.5" y1="1036.5" x2="515.5" y2="1037.7" stroke="#a98b92"/>
<line x1="520.5" y1="586.5" x2="520.5" y2="587.7" stroke="#a98b92"/>
<line x1="520.5" y1="601.5" x2="520.5" y2="600.3" stroke="#a98b92"/>
<line x1="520.5" y1="1036.5" x2="520.5" y2="1037.7" stroke="#a98b92"/>
<line x1="525.5" y1="586.5" x2="525.5" y2="587.7" stroke="#a98b92"/>
<line x1="525.5" y1="601.5" x2="525.5" y2="600.3" stroke="#a98b92"/>
<line x1="525.5" y1="1036.5" x2="525.5" y2="1037.7" stroke="#a98b92"/>
<line x1="530.5" y1="586.5" x2="530.5" y2="587.7" stroke="#a98b92"/>
<line x1="530.5" y1="601.5" x2="530.5" y2="600.3" stroke="#a98b92"/>
<line x1="530.5" y1="1036.5" x2="530.5" y2="1037.7" stroke="#a98b92"/>
<line x1="535.5" y1="586.5" x2="535.5" y2="589.0" stroke="#a98b92"/>
<line x1="535.5" y1="601.5" x2="535.5" y2="599.0" stroke="#a98b92"/>
<line x1="535.5" y1="1036.5" x2="535.5" y2="1039.0" stroke="#a98b92"/>
<line x1="540.5" y1="586.5" x2="540.5" y2="587.7" stroke="#a98b92"/>
<line x1="540.5" y1="601.5" x2="540.5" y2="600.3" stroke="#a98b92"/>
<line x1="540.5" y1="1036.5" x2="540.5" y2="1037.7" stroke="#a98b92"/>
<line x1="544.5" y1="586.5" x2="544.5" y2="587.7" stroke="#a98b92"/>
<line x1="544.5" y1="601.5" x2="544.5" y2="600.3" stroke="#a98b92"/>
<line x1="544.5" y1="1036.5" x2="544.5" y2="1037.7" stroke="#a98b92"/>
<line x1="549.5" y1="586.5" x2="549.5" y2="587.7" stroke="#a98b92"/>
<line x1="549.5" y1="601.5" x2="549.5" y2="600.3" stroke="#a98b92"/>
<line x1="549.5" y1="1036.5" x2="549.5" y2="1037.7" stroke="#a98b92"/>
<line x1="554.5" y1="586.5" x2="554.5" y2="589.0" stroke="#a98b92"/>
<line x1="554.5" y1="601.5" x2="554.5" y2="599.0" stroke="#a98b92"/>
<line x1="554.5" y1="1036.5" x2="554.5" y2="1039.0" stroke="#a98b92"/>
<line x1="559.5" y1="586.5" x2="559.5" y2="587.7" stroke="#a98b92"/>
<line x1="559.5" y1="601.5" x2="559.5" y2="600.3" stroke="#a98b92"/>
<line x1="559.5" y1="1036.5" x2="559.5" y2="1037.7" stroke="#a98b92"/>
<line x1="564.5" y1="586.5" x2="564.5" y2="587.7" stroke="#a98b92"/>
<line x1="564.5" y1="601.5" x2="564.5" y2="600.3" stroke="#a98b92"/>
<line x1="564.5" y1="1036.5" x2="564.5" y2="1037.7" stroke="#a98b92"/>
<line x1="568.5" y1="586.5" x2="568.5" y2="587.7" stroke="#a98b92"/>
<line x1="568.5" y1="601.5" x2="568.5" y2="600.3" stroke="#a98b92"/>
<line x1="568.5" y1="1036.5" x2="568.5" y2="1037.7" stroke="#a98b92"/>
<line x1="573.5" y1="586.5" x2="573.5" y2="587.7" stroke="#a98b92"/>
<line x1="573.5" y1="601.5" x2="573.5" y2="600.3" stroke="#a98b92"/>
<line x1="573.5" y1="1036.5" x2="573.5" y2="1037.7" stroke="#a98b92"/>
<line x1="578.5" y1="586.5" x2="578.5" y2="589.0" stroke="#a98b92"/>
<line x1="578.5" y1="601.5" x2="578.5" y2="599.0" stroke="#a98b92"/>
<line x1="578.5" y1="1036.5" x2="578.5" y2="1039.0" stroke="#a98b92"/>
<line x1="583.5" y1="586.5" x2="583.5" y2="589.0" stroke="#a98b92"/>
<line x1="583.5" y1="601.5" x2="583.5" y2="599.0" stroke="#a98b92"/>
<line x1="583.5" y1="1036.5" x2="583.5" y2="1039.0" stroke="#a98b92"/>
<line x1="588.5" y1="586.5" x2="588.5" y2="587.7" stroke="#a98b92"/>
<line x1="588.5" y1="601.5" x2="588.5" y2="600.3" stroke="#a98b92"/>
<line x1="588.5" y1="1036.5" x2="588.5" y2="1037.7" stroke="#a98b92"/>
<line x1="593.5" y1="586.5" x2="593.5" y2="587.7" stroke="#a98b92"/>
<line x1="593.5" y1="601.5" x2="593.5" y2="600.3" stroke="#a98b92"/>
<line x1="593.5" y1="1036.5" x2="593.5" y2="1037.7" stroke="#a98b92"/>
<line x1="597.5" y1="586.5" x2="597.5" y2="589.0" stroke="#a98b92"/>
<line x1="597.5" y1="601.5" x2="597.5" y2="599.0" stroke="#a98b92"/>
<line x1="597.5" y1="1036.5" x2="597.5" y2="1039.0" stroke="#a98b92"/>
<line x1="602.5" y1="586.5" x2="602.5" y2="587.7" stroke="#a98b92"/>
<line x1="602.5" y1="601.5" x2="602.5" y2="600.3" stroke="#a98b92"/>
<line x1="602.5" y1="1036.5" x2="602.5" y2="1037.7" stroke="#a98b92"/>
<line x1="607.5" y1="586.5" x2="607.5" y2="587.7" stroke="#a98b92"/>
<line x1="607.5" y1="601.5" x2="607.5" y2="600.3" stroke="#a98b92"/>
<line x1="607.5" y1="1036.5" x2="607.5" y2="1037.7" stroke="#a98b92"/>
<line x1="612.5" y1="586.5" x2="612.5" y2="587.7" stroke="#a98b92"/>
<line x1="612.5" y1="601.5" x2="612.5" y2="600.3" stroke="#a98b92"/>
<line x1="612.5" y1="1036.5" x2="612.5" y2="1037.7" stroke="#a98b92"/>
<line x1="617.5" y1="586.5" x2="617.5" y2="587.7" stroke="#a98b92"/>
<line x1="617.5" y1="601.5" x2="617.5" y2="600.3" stroke="#a98b92"/>
<line x1="617.5" y1="1036.5" x2="617.5" y2="1037.7" stroke="#a98b92"/>
<line x1="622.5" y1="586.5" x2="622.5" y2="589.0" stroke="#a98b92"/>
<line x1="622.5" y1="601.5" x2="622.5" y2="599.0" stroke="#a98b92"/>
<line x1="622.5" y1="1036.5" x2="622.5" y2="1039.0" stroke="#a98b92"/>
<line x1="626.5" y1="586.5" x2="626.5" y2="587.7" stroke="#a98b92"/>
<line x1="626.5" y1="601.5" x2="626.5" y2="600.3" stroke="#a98b92"/>
<line x1="626.5" y1="1036.5" x2="626.5" y2="1037.7" stroke="#a98b92"/>
<line x1="631.5" y1="586.5" x2="631.5" y2="587.7" stroke="#a98b92"/>
<line x1="631.5" y1="601.5" x2="631.5" y2="600.3" stroke="#a98b92"/>
<line x1="631.5" y1="1036.5" x2="631.5" y2="1037.7" stroke="#a98b92"/>
<line x1="636.5" y1="586.5" x2="636.5" y2="587.7" stroke="#a98b92"/>
<line x1="636.5" y1="601.5" x2="636.5" y2="600.3" stroke="#a98b92"/>
<line x1="636.5" y1="1036.5" x2="636.5" y2="1037.7" stroke="#a98b92"/>
<line x1="641.5" y1="586.5" x2="641.5" y2="587.7" stroke="#a98b92"/>
<line x1="641.5" y1="601.5" x2="641.5" y2="600.3" stroke="#a98b92"/>
<line x1="641.5" y1="1036.5" x2="641.5" y2="1037.7" stroke="#a98b92"/>
<line x1="646.5" y1="586.5" x2="646.5" y2="589.0" stroke="#a98b92"/>
<line x1="646.5" y1="601.5" x2="646.5" y2="599.0" stroke="#a98b92"/>
<line x1="646.5" y1="1036.5" x2="646.5" y2="1039.0" stroke="#a98b92"/>
<line x1="651.5" y1="586.5" x2="651.5" y2="587.7" stroke="#a98b92"/>
<line x1="651.5" y1="601.5" x2="651.5" y2="600.3" stroke="#a98b92"/>
<line x1="651.5" y1="1036.5" x2="651.5" y2="1037.7" stroke="#a98b92"/>
<line x1="655.5" y1="586.5" x2="655.5" y2="587.7" stroke="#a98b92"/>
<line x1="655.5" y1="601.5" x2="655.5" y2="600.3" stroke="#a98b92"/>
<line x1="655.5" y1="1036.5" x2="655.5" y2="1037.7" stroke="#a98b92"/>
<line x1="660.5" y1="586.5" x2="660.5" y2="587.7" stroke="#a98b92"/>
<line x1="660.5" y1="601.5" x2="660.5" y2="600.3" stroke="#a98b92"/>
<line x1="660.5" y1="1036.5" x2="660.5" y2="1037.7" stroke="#a98b92"/>
<line x1="665.5" y1="586.5" x2="665.5" y2="587.7" stroke="#a98b92"/>
<line x1="665.5" y1="601.5" x2="665.5" y2="600.3" stroke="#a98b92"/>
<line x1="665.5" y1="1036.5" x2="665.5" y2="1037.7" stroke="#a98b92"/>
<line x1="670.5" y1="586.5" x2="670.5" y2="589.0" stroke="#a98b92"/>
<line x1="670.5" y1="601.5" x2="670.5" y2="599.0" stroke="#a98b92"/>
<line x1="670.5" y1="1036.5" x2="670.5" y2="1039.0" stroke="#a98b92"/>
<line x1="675.5" y1="586.5" x2="675.5" y2="587.7" stroke="#a98b92"/>
<line x1="675.5" y1="601.5" x2="675.5" y2="600.3" stroke="#a98b92"/>
<line x1="675.5" y1="1036.5" x2="675.5" y2="1037.7" stroke="#a98b92"/>
<line x1="680.5" y1="586.5" x2="680.5" y2="587.7" stroke="#a98b92"/>
<line x1="680.5" y1="601.5" x2="680.5" y2="600.3" stroke="#a98b92"/>
<line x1="680.5" y1="1036.5" x2="680.5" y2="1037.7" stroke="#a98b92"/>
<line x1="684.5" y1="586.5" x2="684.5" y2="587.7" stroke="#a98b92"/>
<line x1="684.5" y1="601.5" x2="684.5" y2="600.3" stroke="#a98b92"/>
<line x1="684.5" y1="1036.5" x2="684.5" y2="1037.7" stroke="#a98b92"/>
<line x1="689.5" y1="586.5" x2="689.5" y2="589.0" stroke="#a98b92"/>
<line x1="689.5" y1="601.5" x2="689.5" y2="599.0" stroke="#a98b92"/>
<line x1="689.5" y1="1036.5" x2="689.5" y2="1039.0" stroke="#a98b92"/>
<line x1="694.5" y1="586.5" x2="694.5" y2="589.0" stroke="#a98b92"/>
<line x1="694.5" y1="601.5" x2="694.5" y2="599.0" stroke="#a98b92"/>
<line x1="694.5" y1="1036.5" x2="694.5" y2="1039.0" stroke="#a98b92"/>
<line x1="699.5" y1="586.5" x2="699.5" y2="587.7" stroke="#a98b92"/>
<line x1="699.5" y1="601.5" x2="699.5" y2="600.3" stroke="#a98b92"/>
<line x1="699.5" y1="1036.5" x2="699.5" y2="1037.7" stroke="#a98b92"/>
<line x1="704.5" y1="586.5" x2="704.5" y2="587.7" stroke="#a98b92"/>
<line x1="704.5" y1="601.5" x2="704.5" y2="600.3" stroke="#a98b92"/>
<line x1="704.5" y1="1036.5" x2="704.5" y2="1037.7" stroke="#a98b92"/>
<line x1="709.5" y1="586.5" x2="709.5" y2="587.7" stroke="#a98b92"/>
<line x1="709.5" y1="601.5" x2="709.5" y2="600.3" stroke="#a98b92"/>
<line x1="709.5" y1="1036.5" x2="709.5" y2="1037.7" stroke="#a98b92"/>
<line x1="713.5" y1="586.5" x2="713.5" y2="587.7" stroke="#a98b92"/>
<line x1="713.5" y1="601.5" x2="713.5" y2="600.3" stroke="#a98b92"/>
<line x1="713.5" y1="1036.5" x2="713.5" y2="1037.7" stroke="#a98b92"/>
<line x1="718.5" y1="586.5" x2="718.5" y2="589.0" stroke="#a98b92"/>
<line x1="718.5" y1="601.5" x2="718.5" y2="599.0" stroke="#a98b92"/>
<line x1="718.5" y1="1036.5" x2="718.5" y2="1039.0" stroke="#a98b92"/>
<line x1="723.5" y1="586.5" x2="723.5" y2="587.7" stroke="#a98b92"/>
<line x1="723.5" y1="601.5" x2="723.5" y2="600.3" stroke="#a98b92"/>
<line x1="723.5" y1="1036.5" x2="723.5" y2="1037.7" stroke="#a98b92"/>
<line x1="728.5" y1="586.5" x2="728.5" y2="587.7" stroke="#a98b92"/>
<line x1="728.5" y1="601.5" x2="728.5" y2="600.3" stroke="#a98b92"/>
<line x1="728.5" y1="1036.5" x2="728.5" y2="1037.7" stroke="#a98b92"/>
<line x1="733.5" y1="586.5" x2="733.5" y2="587.7" stroke="#a98b92"/>
<line x1="733.5" y1="601.5" x2="733.5" y2="600.3" stroke="#a98b92"/>
<line x1="733.5" y1="1036.5" x2="733.5" y2="1037.7" stroke="#a98b92"/>
<line x1="738.5" y1="586.5" x2="738.5" y2="587.7" stroke="#a98b92"/>
<line x1="738.5" y1="601.5" x2="738.5" y2="600.3" stroke="#a98b92"/>
<line x1="738.5" y1="1036.5" x2="738.5" y2="1037.7" stroke="#a98b92"/>
<line x1="742.5" y1="586.5" x2="742.5" y2="589.0" stroke="#a98b92"/>
<line x1="742.5" y1="601.5" x2="742.5" y2="599.0" stroke="#a98b92"/>
<line x1="742.5" y1="1036.5" x2="742.5" y2="1039.0" stroke="#a98b92"/>
<line x1="747.5" y1="586.5" x2="747.5" y2="587.7" stroke="#a98b92"/>
<line x1="747.5" y1="601.5" x2="747.5" y2="600.3" stroke="#a98b92"/>
<line x1="747.5" y1="1036.5" x2="747.5" y2="1037.7" stroke="#a98b92"/>
<line x1="752.5" y1="586.5" x2="752.5" y2="587.7" stroke="#a98b92"/>
<line x1="752.5" y1="601.5" x2="752.5" y2="600.3" stroke="#a98b92"/>
<line x1="752.5" y1="1036.5" x2="752.5" y2="1037.7" stroke="#a98b92"/>
<line x1="757.5" y1="586.5" x2="757.5" y2="587.7" stroke="#a98b92"/>
<line x1="757.5" y1="601.5" x2="757.5" y2="600.3" stroke="#a98b92"/>
<line x1="757.5" y1="1036.5" x2="757.5" y2="1037.7" stroke="#a98b92"/>
<line x1="762.5" y1="586.5" x2="762.5" y2="587.7" stroke="#a98b92"/>
<line x1="762.5" y1="601.5" x2="762.5" y2="600.3" stroke="#a98b92"/>
<line x1="762.5" y1="1036.5" x2="762.5" y2="1037.7" stroke="#a98b92"/>
<line x1="767.5" y1="586.5" x2="767.5" y2="589.0" stroke="#a98b92"/>
<line x1="767.5" y1="601.5" x2="767.5" y2="599.0" stroke="#a98b92"/>
<line x1="767.5" y1="1036.5" x2="767.5" y2="1039.0" stroke="#a98b92"/>
<line x1="771.5" y1="586.5" x2="771.5" y2="587.7" stroke="#a98b92"/>
<line x1="771.5" y1="601.5" x2="771.5" y2="600.3" stroke="#a98b92"/>
<line x1="771.5" y1="1036.5" x2="771.5" y2="1037.7" stroke="#a98b92"/>
<line x1="776.5" y1="586.5" x2="776.5" y2="587.7" stroke="#a98b92"/>
<line x1="776.5" y1="601.5" x2="776.5" y2="600.3" stroke="#a98b92"/>
<line x1="776.5" y1="1036.5" x2="776.5" y2="1037.7" stroke="#a98b92"/>
<line x1="781.5" y1="586.5" x2="781.5" y2="587.7" stroke="#a98b92"/>
<line x1="781.5" y1="601.5" x2="781.5" y2="600.3" stroke="#a98b92"/>
<line x1="781.5" y1="1036.5" x2="781.5" y2="1037.7" stroke="#a98b92"/>
<line x1="786.5" y1="586.5" x2="786.5" y2="587.7" stroke="#a98b92"/>
<line x1="786.5" y1="601.5" x2="786.5" y2="600.3" stroke="#a98b92"/>
<line x1="786.5" y1="1036.5" x2="786.5" y2="1037.7" stroke="#a98b92"/>
<line x1="791.5" y1="586.5" x2="791.5" y2="589.0" stroke="#a98b92"/>
<line x1="791.5" y1="601.5" x2="791.5" y2="599.0" stroke="#a98b92"/>
<line x1="791.5" y1="1036.5" x2="791.5" y2="1039.0" stroke="#a98b92"/>
<line x1="795.5" y1="586.5" x2="795.5" y2="587.7" stroke="#a98b92"/>
<line x1="795.5" y1="601.5" x2="795.5" y2="600.3" stroke="#a98b92"/>
<line x1="795.5" y1="1036.5" x2="795.5" y2="1037.7" stroke="#a98b92"/>
<line x1="800.5" y1="586.5" x2="800.5" y2="587.7" stroke="#a98b92"/>
<line x1="800.5" y1="601.5" x2="800.5" y2="600.3" stroke="#a98b92"/>
<line x1="800.5" y1="1036.5" x2="800.5" y2="1037.7" stroke="#a98b92"/>
<line x1="805.5" y1="586.5" x2="805.5" y2="587.7" stroke="#a98b92"/>
<line x1="805.5" y1="601.5" x2="805.5" y2="600.3" stroke="#a98b92"/>
<line x1="805.5" y1="1036.5" x2="805.5" y2="1037.7" stroke="#a98b92"/>
<line x1="810.5" y1="586.5" x2="810.5" y2="589.0" stroke="#a98b92"/>
<line x1="810.5" y1="601.5" x2="810.5" y2="599.0" stroke="#a98b92"/>
<line x1="810.5" y1="1036.5" x2="810.5" y2="1039.0" stroke="#a98b92"/>
<line x1="815.5" y1="586.5" x2="815.5" y2="587.7" stroke="#a98b92"/>
<line x1="815.5" y1="601.5" x2="815.5" y2="600.3" stroke="#a98b92"/>
<line x1="815.5" y1="1036.5" x2="815.5" y2="1037.7" stroke="#a98b92"/>
<line x1="820.5" y1="586.5" x2="820.5" y2="587.7" stroke="#a98b92"/>
<line x1="820.5" y1="601.5" x2="820.5" y2="600.3" stroke="#a98b92"/>
<line x1="820.5" y1="1036.5" x2="820.5" y2="1037.7" stroke="#a98b92"/>
<line x1="824.5" y1="586.5" x2="824.5" y2="587.7" stroke="#a98b92"/>
<line x1="824.5" y1="601.5" x2="824.5" y2="600.3" stroke="#a98b92"/>
<line x1="824.5" y1="1036.5" x2="824.5" y2="1037.7" stroke="#a98b92"/>
<line x1="829.5" y1="586.5" x2="829.5" y2="587.7" stroke="#a98b92"/>
<line x1="829.5" y1="601.5" x2="829.5" y2="600.3" stroke="#a98b92"/>
<line x1="829.5" y1="1036.5" x2="829.5" y2="1037.7" stroke="#a98b92"/>
<line x1="834.5" y1="586.5" x2="834.5" y2="589.0" stroke="#a98b92"/>
<line x1="834.5" y1="601.5" x2="834.5" y2="599.0" stroke="#a98b92"/>
<line x1="834.5" y1="1036.5" x2="834.5" y2="1039.0" stroke="#a98b92"/>
<line x1="839.5" y1="586.5" x2="839.5" y2="587.7" stroke="#a98b92"/>
<line x1="839.5" y1="601.5" x2="839.5" y2="600.3" stroke="#a98b92"/>
<line x1="839.5" y1="1036.5" x2="839.5" y2="1037.7" stroke="#a98b92"/>
<line x1="844.5" y1="586.5" x2="844.5" y2="587.7" stroke="#a98b92"/>
<line x1="844.5" y1="601.5" x2="844.5" y2="600.3" stroke="#a98b92"/>
<line x1="844.5" y1="1036.5" x2="844.5" y2="1037.7" stroke="#a98b92"/>
<line x1="849.5" y1="586.5" x2="849.5" y2="587.7" stroke="#a98b92"/>
<line x1="849.5" y1="601.5" x2="849.5" y2="600.3" stroke="#a98b92"/>
<line x1="849.5" y1="1036.5" x2="849.5" y2="1037.7" stroke="#a98b92"/>
<line x1="853.5" y1="586.5" x2="853.5" y2="587.7" stroke="#a98b92"/>
<line x1="853.5" y1="601.5" x2="853.5" y2="600.3" stroke="#a98b92"/>
<line x1="853.5" y1="1036.5" x2="853.5" y2="1037.7" stroke="#a98b92"/>
<line x1="858.5" y1="586.5" x2="858.5" y2="589.0" stroke="#a98b92"/>
<line x1="858.5" y1="601.5" x2="858.5" y2="599.0" stroke="#a98b92"/>
<line x1="858.5" y1="1036.5" x2="858.5" y2="1039.0" stroke="#a98b92"/>
<line x1="863.5" y1="586.5" x2="863.5" y2="587.7" stroke="#a98b92"/>
<line x1="863.5" y1="601.5" x2="863.5" y2="600.3" stroke="#a98b92"/>
<line x1="863.5" y1="1036.5" x2="863.5" y2="1037.7" stroke="#a98b92"/>
<line x1="868.5" y1="586.5" x2="868.5" y2="587.7" stroke="#a98b92"/>
<line x1="868.5" y1="601.5" x2="868.5" y2="600.3" stroke="#a98b92"/>
<line x1="868.5" y1="1036.5" x2="868.5" y2="1037.7" stroke="#a98b92"/>
<line x1="873.5" y1="586.5" x2="873.5" y2="587.7" stroke="#a98b92"/>
<line x1="873.5" y1="601.5" x2="873.5" y2="600.3" stroke="#a98b92"/>
<line x1="873.5" y1="1036.5" x2="873.5" y2="1037.7" stroke="#a98b92"/>
<line x1="878.5" y1="586.5" x2="878.5" y2="587.7" stroke="#a98b92"/>
<line x1="878.5" y1="601.5" x2="878.5" y2="600.3" stroke="#a98b92"/>
<line x1="878.5" y1="1036.5" x2="878.5" y2="1037.7" stroke="#a98b92"/>
<line x1="882.5" y1="586.5" x2="882.5" y2="589.0" stroke="#a98b92"/>
<line x1="882.5" y1="601.5" x2="882.5" y2="599.0" stroke="#a98b92"/>
<line x1="882.5" y1="1036.5" x2="882.5" y2="1039.0" stroke="#a98b92"/>
<line x1="887.5" y1="586.5" x2="887.5" y2="587.7" stroke="#a98b92"/>
<line x1="887.5" y1="601.5" x2="887.5" y2="600.3" stroke="#a98b92"/>
<line x1="887.5" y1="1036.5" x2="887.5" y2="1037.7" stroke="#a98b92"/>
<line x1="892.5" y1="586.5" x2="892.5" y2="589.0" stroke="#a98b92"/>
<line x1="892.5" y1="601.5" x2="892.5" y2="599.0" stroke="#a98b92"/>
<line x1="892.5" y1="1036.5" x2="892.5" y2="1039.0" stroke="#a98b92"/>
<line x1="897.5" y1="586.5" x2="897.5" y2="587.7" stroke="#a98b92"/>
<line x1="897.5" y1="601.5" x2="897.5" y2="600.3" stroke="#a98b92"/>
<line x1="897.5" y1="1036.5" x2="897.5" y2="1037.7" stroke="#a98b92"/>
<line x1="902.5" y1="586.5" x2="902.5" y2="587.7" stroke="#a98b92"/>
<line x1="902.5" y1="601.5" x2="902.5" y2="600.3" stroke="#a98b92"/>
<line x1="902.5" y1="1036.5" x2="902.5" y2="1037.7" stroke="#a98b92"/>
<line x1="907.5" y1="586.5" x2="907.5" y2="589.0" stroke="#a98b92"/>
<line x1="907.5" y1="601.5" x2="907.5" y2="599.0" stroke="#a98b92"/>
<line x1="907.5" y1="1036.5" x2="907.5" y2="1039.0" stroke="#a98b92"/>
<line x1="911.5" y1="586.5" x2="911.5" y2="587.7" stroke="#a98b92"/>
<line x1="911.5" y1="601.5" x2="911.5" y2="600.3" stroke="#a98b92"/>
<line x1="911.5" y1="1036.5" x2="911.5" y2="1037.7" stroke="#a98b92"/>
<line x1="916.5" y1="586.5" x2="916.5" y2="587.7" stroke="#a98b92"/>
<line x1="916.5" y1="601.5" x2="916.5" y2="600.3" stroke="#a98b92"/>
<line x1="916.5" y1="1036.5" x2="916.5" y2="1037.7" stroke="#a98b92"/>
<line x1="921.5" y1="586.5" x2="921.5" y2="587.7" stroke="#a98b92"/>
<line x1="921.5" y1="601.5" x2="921.5" y2="600.3" stroke="#a98b92"/>
<line x1="921.5" y1="1036.5" x2="921.5" y2="1037.7" stroke="#a98b92"/>
<line x1="926.5" y1="586.5" x2="926.5" y2="587.7" stroke="#a98b92"/>
<line x1="926.5" y1="601.5" x2="926.5" y2="600.3" stroke="#a98b92"/>
<line x1="926.5" y1="1036.5" x2="926.5" y2="1037.7" stroke="#a98b92"/>
<line x1="931.5" y1="586.5" x2="931.5" y2="589.0" stroke="#a98b92"/>
<line x1="931.5" y1="601.5" x2="931.5" y2="599.0" stroke="#a98b92"/>
<line x1="931.5" y1="1036.5" x2="931.5" y2="1039.0" stroke="#a98b92"/>
<line x1="936.5" y1="586.5" x2="936.5" y2="587.7" stroke="#a98b92"/>
<line x1="936.5" y1="601.5" x2="936.5" y2="600.3" stroke="#a98b92"/>
<line x1="936.5" y1="1036.5" x2="936.5" y2="1037.7" stroke="#a98b92"/>
<line x1="940.5" y1="586.5" x2="940.5" y2="587.7" stroke="#a98b92"/>
<line x1="940.5" y1="601.5" x2="940.5" y2="600.3" stroke="#a98b92"/>
<line x1="940.5" y1="1036.5" x2="940.5" y2="1037.7" stroke="#a98b92"/>
<line x1="945.5" y1="586.5" x2="945.5" y2="587.7" stroke="#a98b92"/>
<line x1="945.5" y1="601.5" x2="945.5" y2="600.3" stroke="#a98b92"/>
<line x1="945.5" y1="1036.5" x2="945.5" y2="1037.7" stroke="#a98b92"/>
<line x1="950.5" y1="586.5" x2="950.5" y2="587.7" stroke="#a98b92"/>
<line x1="950.5" y1="601.5" x2="950.5" y2="600.3" stroke="#a98b92"/>
<line x1="950.5" y1="1036.5" x2="950.5" y2="1037.7" stroke="#a98b92"/>
<path d="M19.5 38.9 L19.5 36.5 L23.5 30.4 L25.5 36.2 L27.5 32.2 L27.5 38.9 Z" fill="#5f7c35"/>
<path d="M19.5 38.9 L19.5 36.5 L23.5 30.4 L25.5 36.2 L27.5 32.2 L27.5 38.9" fill="none" stroke="#000" stroke-width="1.1"/>
<text x="31.5" y="38.9" font-size="10" fill="#000" textLength="43.5" lengthAdjust="spacing" stroke="#000" stroke-width="0.2" >RSI(14)</text>
<text x="79.1" y="38.9" font-size="10" fill="#000" textLength="31.8" lengthAdjust="spacing" stroke="#000" stroke-width="0.2" >68.27</text>
<g shape-rendering="crispEdges" stroke="#000" stroke-width="1"><path d="M20.5 176 V183 M23.5 179 V184 M26.5 176 V184" fill="none"/><rect x="19.5" y="177.5" width="2" height="4" fill="#f3e2b6"/><rect x="22.5" y="179.5" width="2" height="3" fill="#000"/><rect x="25.5" y="177.5" width="2" height="5" fill="#f3e2b6"/></g>
<text x="30.8" y="183.9" font-size="10" fill="#000" textLength="24.2" lengthAdjust="spacing" stroke="#000" stroke-width="0.2" >AGQ</text>
<text x="59.7" y="183.9" font-size="10" fill="#000" textLength="37.0" lengthAdjust="spacing" stroke="#000" stroke-width="0.2" >(Daily)</text>
<text x="100.3" y="183.9" font-size="10" fill="#000" textLength="31.7" lengthAdjust="spacing" stroke="#000" stroke-width="0.2" >61.80</text>
<rect x="19" y="190.5" width="8.5" height="2" fill="#0a0a8c"/>
<text x="29.3" y="195.3" font-size="9.5" fill="#0a0a8c" textLength="54" lengthAdjust="spacing" stroke="#0a0a8c" stroke-width="0.2" >MA(6) 60.47</text>
<rect x="19" y="201.5" width="8.5" height="2" fill="#d4143c"/>
<text x="29.3" y="206.3" font-size="9.5" fill="#d4143c" textLength="60" lengthAdjust="spacing" stroke="#d4143c" stroke-width="0.2" >MA(60) 52.64</text>
<g shape-rendering="crispEdges" fill="#a39d84" stroke="#4a4a52"><rect x="19.5" y="607.5" width="2" height="4.5"/><rect x="22.5" y="603.5" width="2" height="8.5"/><rect x="25.5" y="605.5" width="2" height="6.5"/></g>
<text x="30.9" y="611.8" font-size="10" fill="#000" textLength="41.1" lengthAdjust="spacing" stroke="#000" stroke-width="0.2" >Volume</text>
<text x="77.4" y="611.8" font-size="10" fill="#000" textLength="56.4" lengthAdjust="spacing" stroke="#000" stroke-width="0.2" >1,825,666</text>
<rect x="19" y="752" width="8.5" height="2" fill="#000"/>
<text x="31.3" y="756.9" font-size="10" fill="#000" textLength="23.6" lengthAdjust="spacing" stroke="#000" stroke-width="0.2" >Slow</text>
<text x="59.1" y="756.9" font-size="10" fill="#000" textLength="23.1" lengthAdjust="spacing" stroke="#000" stroke-width="0.2" >STO</text>
<text x="86.8" y="756.9" font-size="10" fill="#000" textLength="41.3" lengthAdjust="spacing" stroke="#000" stroke-width="0.2" >%K(14)</text>
<text x="132.8" y="756.9" font-size="10" fill="#000" textLength="35.2" lengthAdjust="spacing" stroke="#000" stroke-width="0.2" >%D(3)</text>
<text x="172.2" y="756.9" font-size="10" fill="#000" textLength="36.2" lengthAdjust="spacing" stroke="#000" stroke-width="0.2" >83.52,</text>
<text x="212.3" y="756.9" font-size="10" fill="#f00" textLength="31.5" lengthAdjust="spacing" stroke="#f00" stroke-width="0.2" >82.78</text>
<rect x="19" y="897" width="8.5" height="2" fill="#000"/>
<text x="31.3" y="901.9" font-size="10" fill="#000" textLength="85.5" lengthAdjust="spacing" stroke="#000" stroke-width="0.2" >MACD(12,26,9)</text>
<text x="120.4" y="901.9" font-size="10" fill="#000" textLength="30.5" lengthAdjust="spacing" stroke="#000" stroke-width="0.2" >2.528</text>
<text x="152.2" y="901.9" font-size="10" fill="#f00" stroke="#f00" stroke-width="0.2" >,</text>
<text x="160.6" y="901.9" font-size="10" fill="#f00" textLength="30.7" lengthAdjust="spacing" stroke="#f00" stroke-width="0.2" >2.029</text>
<text x="192.6" y="901.9" font-size="10" fill="#3b8fc4" stroke="#3b8fc4" stroke-width="0.2" >,</text>
<text x="200.5" y="901.9" font-size="10" fill="#3b8fc4" textLength="30.7" lengthAdjust="spacing" stroke="#3b8fc4" stroke-width="0.2" >0.499</text>
<text x="16.4" y="13.2" font-size="12.5" fill="#000" textLength="28.5" lengthAdjust="spacing" font-weight="bold" >AGQ</text>
<text x="48.5" y="13.2" font-size="11" fill="#000" textLength="104.8" lengthAdjust="spacing" >ProShares Ultra Silver</text>
<text x="159.6" y="13.2" font-size="9.5" fill="#000" textLength="26.4" lengthAdjust="spacing" font-weight="normal" >NYSE</text>
<text x="16.4" y="26" font-size="10" fill="#000" textLength="59.4" lengthAdjust="spacing" font-weight="normal" >11-Sep-2025</text>
<text x="515.8" y="25.9" font-size="11" fill="#000" textLength="28.6" lengthAdjust="spacing" font-weight="bold" >Open</text>
<text x="547.8" y="25.9" font-size="10.5" fill="#000" textLength="26.2" lengthAdjust="spacing" stroke="#000" stroke-width="0.2" >60.45</text>
<text x="580.7" y="25.9" font-size="11" fill="#000" textLength="23.5" lengthAdjust="spacing" font-weight="bold" >High</text>
<text x="607.9" y="25.9" font-size="10.5" fill="#000" textLength="25.9" lengthAdjust="spacing" stroke="#000" stroke-width="0.2" >62.45</text>
<text x="640.6" y="25.9" font-size="11" fill="#000" textLength="23" lengthAdjust="spacing" font-weight="bold" >Low</text>
<text x="667.8" y="25.9" font-size="10.5" fill="#000" textLength="26.2" lengthAdjust="spacing" stroke="#000" stroke-width="0.2" >60.30</text>
<text x="700.6" y="25.9" font-size="11" fill="#000" textLength="31.2" lengthAdjust="spacing" font-weight="bold" >Close</text>
<text x="735.5" y="25.9" font-size="10.5" fill="#000" textLength="26.6" lengthAdjust="spacing" stroke="#000" stroke-width="0.2" >61.80</text>
<text x="769.4" y="25.9" font-size="11" fill="#000" textLength="41.2" lengthAdjust="spacing" font-weight="bold" >Volume</text>
<text x="815.2" y="25.9" font-size="10.5" fill="#000" textLength="23.3" lengthAdjust="spacing" stroke="#000" stroke-width="0.2" >1.8M</text>
<text x="845.2" y="25.9" font-size="11" fill="#000" textLength="20.6" lengthAdjust="spacing" font-weight="bold" >Chg</text>
<text x="870.3" y="25.9" font-size="10.5" fill="#000" textLength="71.8" lengthAdjust="spacing" stroke="#000" stroke-width="0.2" >+1.27 (+2.10%)</text>
<path d="M944.5 24.3 L952 24.3 L948.2 20.3 Z" fill="#2c7a1c"/>
<text x="952" y="13.3" font-size="11" fill="#444" textLength="89.4" lengthAdjust="spacing" text-anchor="end" >© StockCharts.com</text>
<rect x="371" y="53" width="250" height="41.5" fill="#5a4020" fill-opacity="0.33"/>
<rect x="368.5" y="50.5" width="250" height="41.5" fill="#fff" stroke="#8a8a8a"/>
<text x="371.0" y="81.5" font-size="31.5" font-weight="bold" textLength="60.6" lengthAdjust="spacingAndGlyphs">SGT</text>
<text x="439.6" y="81.5" font-size="31.5" font-weight="bold" textLength="67.2" lengthAdjust="spacingAndGlyphs">AGQ</text>
<text x="514.4" y="81.5" font-size="31.5" font-weight="bold" textLength="79.3" lengthAdjust="spacingAndGlyphs">Chart</text>
<line x1="791.5" y1="182.3" x2="825" y2="175.5" stroke="#0000ff" stroke-width="1.8" stroke-dasharray="4.5 1.9"/>
<line x1="795.8" y1="232.9" x2="843.6" y2="212.4" stroke="#0000ff" stroke-width="1.8" stroke-dasharray="4.5 1.9"/>
<line x1="834.9" y1="201.9" x2="868.6" y2="102" stroke="#3cb418" stroke-width="5" stroke-dasharray="3.3 2.5"/>
<polygon points="873.2,88 860.9,99.5 876,103.5" fill="#3cb418"/>
<line x1="810.1" y1="764.4" x2="846" y2="762.3" stroke="#3cb418" stroke-width="4.2" stroke-dasharray="3.8 2.25"/>
<polygon points="843.4,753.9 843.4,769.1 859,761.4" fill="#3cb418"/>
<ellipse cx="790.9" cy="199.4" rx="10.9" ry="9.4" fill="#f00"/>
<path d="M638.5 155.5 L769.5 155.5 L769.5 174.7 L795.5 206.4 L763.3 180 L638.5 180 Z" transform="translate(2.5,2.5)" fill="#5a4020" fill-opacity="0.33"/>
<path d="M638.5 155.5 L769.5 155.5 L769.5 174.7 L795.5 206.4 L763.3 180 L638.5 180 Z" fill="#fff" stroke="#8a8a8a" stroke-linejoin="miter"/>
<text x="640.9" y="172.9" font-size="16" fill="#f00" textLength="107.8" lengthAdjust="spacing" font-weight="bold" >Sell (half only)</text>
<path d="M744.5 110.5 L801.5 110.5 L801.5 127.3 L822.3 185.5 L795.6 135.3 L744.5 135.3 Z" transform="translate(2.5,2.5)" fill="#5a4020" fill-opacity="0.33"/>
<path d="M744.5 110.5 L801.5 110.5 L801.5 127.3 L822.3 185.5 L795.6 135.3 L744.5 135.3 Z" fill="#fff" stroke="#8a8a8a" stroke-linejoin="miter"/>
<text x="746.9" y="128.1" font-size="16" fill="#000" textLength="43.9" lengthAdjust="spacing" font-weight="bold" >Flag?</text>
<ellipse cx="754.7" cy="321.7" rx="14.4" ry="8.6" fill="#00f"/>
<path d="M789.4 350 L834.5 350 L834.5 375.2 L783.5 375.2 L783.5 355.8 L762.5 323.3 Z" transform="translate(2.5,2.5)" fill="#5a4020" fill-opacity="0.33"/>
<path d="M789.4 350 L834.5 350 L834.5 375.2 L783.5 375.2 L783.5 355.8 L762.5 323.3 Z" fill="#fff" stroke="#8a8a8a" stroke-linejoin="miter"/>
<text x="786.2" y="368.3" font-size="16" fill="#00f" textLength="31.4" lengthAdjust="spacing" font-weight="bold" >Buy</text>
</svg>
</body></html>
